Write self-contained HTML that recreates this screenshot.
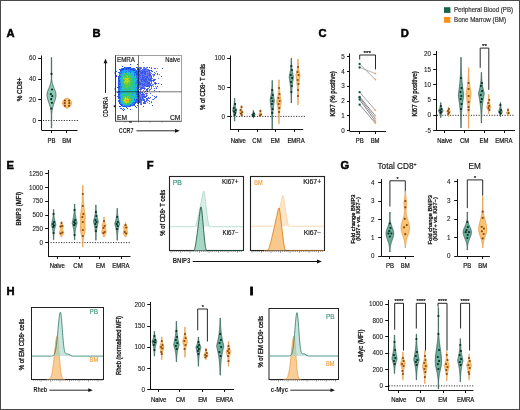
<!DOCTYPE html>
<html><head><meta charset="utf-8"><style>
html,body{margin:0;padding:0;background:#fff;width:520px;height:410px;overflow:hidden;}
svg{display:block;font-family:"Liberation Sans",sans-serif;will-change:transform;}
</style></head><body>
<svg width="520" height="410" viewBox="0 0 520 410" font-family="Liberation Sans, sans-serif"><rect x="0.5" y="0.5" width="519" height="409" fill="#fff" stroke="#4a4a4a" stroke-width="1"/>
<rect x="444" y="7.2" width="6.4" height="5.7" fill="#16654a"/>
<rect x="444" y="16.9" width="6.4" height="5.9" fill="#f7941d"/>
<text transform="translate(454 12.2) scale(0.88 1)" font-size="7.12" text-anchor="start" font-weight="normal" fill="#333" stroke="#333" stroke-width="0.2" textLength="67.05" lengthAdjust="spacingAndGlyphs">Peripheral Blood (PB)</text>
<text transform="translate(454 22.4) scale(0.88 1)" font-size="7.12" text-anchor="start" font-weight="normal" fill="#333" stroke="#333" stroke-width="0.2" textLength="59.09" lengthAdjust="spacingAndGlyphs">Bone Marrow (BM)</text>
<text transform="translate(6.5 36.8)" font-size="11.20" text-anchor="start" font-weight="bold" fill="#000" stroke="#000" stroke-width="0.5">A</text>
<line x1="41.5" y1="55.5" x2="41.5" y2="130" stroke="#111" stroke-width="1.0"/>
<line x1="38.2" y1="58.5" x2="41.5" y2="58.5" stroke="#111" stroke-width="1.0"/>
<text transform="translate(35.900000000000006 60.4)" font-size="6.30" text-anchor="end" font-weight="normal" fill="#222" stroke="#222" stroke-width="0.1">60</text>
<line x1="38.2" y1="79.5" x2="41.5" y2="79.5" stroke="#111" stroke-width="1.0"/>
<text transform="translate(35.900000000000006 81.1)" font-size="6.30" text-anchor="end" font-weight="normal" fill="#222" stroke="#222" stroke-width="0.1">40</text>
<line x1="38.2" y1="99.5" x2="41.5" y2="99.5" stroke="#111" stroke-width="1.0"/>
<text transform="translate(35.900000000000006 101.89999999999999)" font-size="6.30" text-anchor="end" font-weight="normal" fill="#222" stroke="#222" stroke-width="0.1">20</text>
<line x1="38.2" y1="120.5" x2="41.5" y2="120.5" stroke="#111" stroke-width="1.0"/>
<text transform="translate(35.900000000000006 122.6)" font-size="6.30" text-anchor="end" font-weight="normal" fill="#222" stroke="#222" stroke-width="0.1">0</text>
<line x1="41.5" y1="130.5" x2="77.5" y2="130.5" stroke="#111" stroke-width="1.0"/>
<line x1="51.5" y1="130.5" x2="51.5" y2="133.0" stroke="#111" stroke-width="1.0"/>
<line x1="66.5" y1="130.5" x2="66.5" y2="133.0" stroke="#111" stroke-width="1.0"/>
<text transform="translate(51.5 142.6) scale(0.88 1)" font-size="6.78" text-anchor="middle" font-weight="normal" fill="#111" stroke="#111" stroke-width="0.2">PB</text>
<text transform="translate(66.8 142.6) scale(0.88 1)" font-size="6.78" text-anchor="middle" font-weight="normal" fill="#111" stroke="#111" stroke-width="0.2">BM</text>
<text transform="translate(22.4 89.4) rotate(-90) scale(0.88 1)" font-size="7.23" text-anchor="middle" font-weight="normal" fill="#111" stroke="#111" stroke-width="0.3">% CD8+</text>
<line x1="43" y1="120.5" x2="78" y2="120.5" stroke="#111" stroke-width="0.9" stroke-dasharray="1.1 1.5"/>
<path d="M51.68,57.50 L51.68,58.29 L51.68,59.08 L51.68,59.88 L51.68,60.67 L51.68,61.46 L51.68,62.25 L51.68,63.04 L51.68,63.84 L51.68,64.63 L51.68,65.42 L51.68,66.21 L51.68,67.01 L51.68,67.80 L51.68,68.59 L51.68,69.38 L51.68,70.17 L51.68,70.97 L51.68,71.76 L51.68,72.55 L51.68,73.34 L51.68,74.13 L51.68,74.93 L51.68,75.72 L51.68,76.51 L51.68,77.30 L51.68,78.10 L51.68,78.89 L51.75,79.68 L51.84,80.47 L51.95,81.26 L52.08,82.06 L52.24,82.85 L52.43,83.64 L52.66,84.43 L52.91,85.22 L53.20,86.02 L53.50,86.81 L53.83,87.60 L54.17,88.39 L54.51,89.19 L54.84,89.98 L55.15,90.77 L55.43,91.56 L55.65,92.35 L55.83,93.15 L55.94,93.94 L55.98,94.73 L55.96,95.52 L55.90,96.31 L55.79,97.11 L55.64,97.90 L55.46,98.69 L55.24,99.48 L55.00,100.28 L54.74,101.07 L54.47,101.86 L54.20,102.65 L53.92,103.44 L53.66,104.24 L53.40,105.03 L53.15,105.82 L52.92,106.61 L52.71,107.40 L52.53,108.20 L52.36,108.99 L52.21,109.78 L52.08,110.57 L51.97,111.37 L51.88,112.16 L51.80,112.95 L51.73,113.74 L51.68,114.53 L51.68,115.33 L51.68,116.12 L51.68,116.91 L51.68,117.70 L51.68,118.49 L51.68,119.29 L51.68,120.08 L51.68,120.87 L51.68,121.66 L51.68,122.46 L51.68,123.25 L51.68,124.04 L51.68,124.83 L51.68,125.62 L51.68,126.42 L51.68,127.21 L51.68,128.00 L51.32,128.00 L51.32,127.21 L51.32,126.42 L51.32,125.62 L51.32,124.83 L51.32,124.04 L51.32,123.25 L51.32,122.46 L51.32,121.66 L51.32,120.87 L51.32,120.08 L51.32,119.29 L51.32,118.49 L51.32,117.70 L51.32,116.91 L51.32,116.12 L51.32,115.33 L51.32,114.53 L51.27,113.74 L51.20,112.95 L51.12,112.16 L51.03,111.37 L50.92,110.57 L50.79,109.78 L50.64,108.99 L50.47,108.20 L50.29,107.40 L50.08,106.61 L49.85,105.82 L49.60,105.03 L49.34,104.24 L49.08,103.44 L48.80,102.65 L48.53,101.86 L48.26,101.07 L48.00,100.28 L47.76,99.48 L47.54,98.69 L47.36,97.90 L47.21,97.11 L47.10,96.31 L47.04,95.52 L47.02,94.73 L47.06,93.94 L47.17,93.15 L47.35,92.35 L47.57,91.56 L47.85,90.77 L48.16,89.98 L48.49,89.19 L48.83,88.39 L49.17,87.60 L49.50,86.81 L49.80,86.02 L50.09,85.22 L50.34,84.43 L50.57,83.64 L50.76,82.85 L50.92,82.06 L51.05,81.26 L51.16,80.47 L51.25,79.68 L51.32,78.89 L51.32,78.10 L51.32,77.30 L51.32,76.51 L51.32,75.72 L51.32,74.93 L51.32,74.13 L51.32,73.34 L51.32,72.55 L51.32,71.76 L51.32,70.97 L51.32,70.17 L51.32,69.38 L51.32,68.59 L51.32,67.80 L51.32,67.01 L51.32,66.21 L51.32,65.42 L51.32,64.63 L51.32,63.84 L51.32,63.04 L51.32,62.25 L51.32,61.46 L51.32,60.67 L51.32,59.88 L51.32,59.08 L51.32,58.29 L51.32,57.50 Z" fill="#8ccab5" stroke="#2a5248" stroke-width="0.7" stroke-linejoin="round"/>
<circle cx="51.50" cy="73.9" r="1.1" fill="#0a2c23"/>
<circle cx="52.00" cy="89.5" r="1.1" fill="#0a2c23"/>
<circle cx="50.90" cy="94.1" r="1.1" fill="#0a2c23"/>
<circle cx="52.30" cy="96.2" r="1.1" fill="#0a2c23"/>
<circle cx="51.20" cy="99.2" r="1.1" fill="#0a2c23"/>
<circle cx="51.90" cy="102.8" r="1.1" fill="#0a2c23"/>
<circle cx="51.30" cy="108.5" r="1.1" fill="#0a2c23"/>
<path d="M68.40,98.30 L68.50,98.41 L68.60,98.52 L68.70,98.63 L68.81,98.74 L68.92,98.84 L69.03,98.95 L69.15,99.06 L69.26,99.17 L69.38,99.28 L69.49,99.39 L69.61,99.50 L69.73,99.61 L69.84,99.72 L69.96,99.83 L70.07,99.93 L70.18,100.04 L70.29,100.15 L70.40,100.26 L70.50,100.37 L70.60,100.48 L70.70,100.59 L70.79,100.70 L70.88,100.81 L70.97,100.92 L71.04,101.02 L71.12,101.13 L71.19,101.24 L71.25,101.35 L71.31,101.46 L71.36,101.57 L71.41,101.68 L71.46,101.79 L71.49,101.90 L71.53,102.01 L71.56,102.11 L71.58,102.22 L71.60,102.33 L71.61,102.44 L71.62,102.55 L71.63,102.66 L71.64,102.77 L71.64,102.88 L71.64,102.99 L71.64,103.10 L71.64,103.20 L71.63,103.31 L71.63,103.42 L71.62,103.53 L71.61,103.64 L71.59,103.75 L71.57,103.86 L71.55,103.97 L71.52,104.08 L71.49,104.19 L71.45,104.29 L71.41,104.40 L71.37,104.51 L71.32,104.62 L71.26,104.73 L71.20,104.84 L71.14,104.95 L71.07,105.06 L71.00,105.17 L70.92,105.28 L70.84,105.38 L70.76,105.49 L70.67,105.60 L70.58,105.71 L70.48,105.82 L70.39,105.93 L70.28,106.04 L70.18,106.15 L70.08,106.26 L69.97,106.37 L69.86,106.47 L69.75,106.58 L69.64,106.69 L69.53,106.80 L69.42,106.91 L69.32,107.02 L69.21,107.13 L69.10,107.24 L68.99,107.35 L68.89,107.46 L68.79,107.56 L68.68,107.67 L68.59,107.78 L68.49,107.89 L68.40,108.00 L65.60,108.00 L65.51,107.89 L65.41,107.78 L65.32,107.67 L65.21,107.56 L65.11,107.46 L65.01,107.35 L64.90,107.24 L64.79,107.13 L64.68,107.02 L64.58,106.91 L64.47,106.80 L64.36,106.69 L64.25,106.58 L64.14,106.47 L64.03,106.37 L63.92,106.26 L63.82,106.15 L63.72,106.04 L63.61,105.93 L63.52,105.82 L63.42,105.71 L63.33,105.60 L63.24,105.49 L63.16,105.38 L63.08,105.28 L63.00,105.17 L62.93,105.06 L62.86,104.95 L62.80,104.84 L62.74,104.73 L62.68,104.62 L62.63,104.51 L62.59,104.40 L62.55,104.29 L62.51,104.19 L62.48,104.08 L62.45,103.97 L62.43,103.86 L62.41,103.75 L62.39,103.64 L62.38,103.53 L62.37,103.42 L62.37,103.31 L62.36,103.20 L62.36,103.10 L62.36,102.99 L62.36,102.88 L62.36,102.77 L62.37,102.66 L62.38,102.55 L62.39,102.44 L62.40,102.33 L62.42,102.22 L62.44,102.11 L62.47,102.01 L62.51,101.90 L62.54,101.79 L62.59,101.68 L62.64,101.57 L62.69,101.46 L62.75,101.35 L62.81,101.24 L62.88,101.13 L62.96,101.02 L63.03,100.92 L63.12,100.81 L63.21,100.70 L63.30,100.59 L63.40,100.48 L63.50,100.37 L63.60,100.26 L63.71,100.15 L63.82,100.04 L63.93,99.93 L64.04,99.83 L64.16,99.72 L64.27,99.61 L64.39,99.50 L64.51,99.39 L64.62,99.28 L64.74,99.17 L64.85,99.06 L64.97,98.95 L65.08,98.84 L65.19,98.74 L65.30,98.63 L65.40,98.52 L65.50,98.41 L65.60,98.30 Z" fill="#fbc67a" stroke="#e3943a" stroke-width="0.7" stroke-linejoin="round"/>
<circle cx="64.90" cy="100.6" r="1.1" fill="#8a4a0c"/>
<circle cx="69.10" cy="100.6" r="1.1" fill="#8a4a0c"/>
<circle cx="64.70" cy="103.2" r="1.1" fill="#8a4a0c"/>
<circle cx="69.30" cy="103.2" r="1.1" fill="#8a4a0c"/>
<circle cx="64.90" cy="105.8" r="1.1" fill="#8a4a0c"/>
<circle cx="69.10" cy="105.8" r="1.1" fill="#8a4a0c"/>
<text transform="translate(92.6 36.6)" font-size="11.20" text-anchor="start" font-weight="bold" fill="#000" stroke="#000" stroke-width="0.5">B</text>
<rect x="115.5" y="55.5" width="66.0" height="65.8" fill="#fff" stroke="#8a8a8a" stroke-width="0.8"/>
<rect x="143" y="62" width="1" height="1" fill="#6982f2"/>
<rect x="130" y="64" width="1" height="1" fill="#2832eb"/>
<rect x="137" y="64" width="1" height="1" fill="#2832eb"/>
<rect x="122" y="66" width="1" height="1" fill="#2832eb"/>
<rect x="124" y="67" width="1" height="1" fill="#2842ef"/>
<rect x="125" y="67" width="3" height="1" fill="#2679f7"/>
<rect x="128" y="67" width="1" height="1" fill="#2853f3"/>
<rect x="129" y="67" width="1" height="1" fill="#2832eb"/>
<rect x="130" y="67" width="1" height="1" fill="#2853f3"/>
<rect x="136" y="67" width="1" height="1" fill="#2853f3"/>
<rect x="137" y="67" width="1" height="1" fill="#3c55eb"/>
<rect x="139" y="67" width="1" height="1" fill="#6982f2"/>
<rect x="140" y="67" width="1" height="1" fill="#3c55eb"/>
<rect x="141" y="67" width="1" height="1" fill="#6982f2"/>
<rect x="143" y="67" width="1" height="1" fill="#6982f2"/>
<rect x="144" y="67" width="1" height="1" fill="#3c55eb"/>
<rect x="146" y="67" width="1" height="1" fill="#6982f2"/>
<rect x="147" y="67" width="1" height="1" fill="#3c55eb"/>
<rect x="149" y="67" width="1" height="1" fill="#3c55eb"/>
<rect x="151" y="67" width="1" height="1" fill="#6982f2"/>
<rect x="121" y="68" width="2" height="1" fill="#2679f7"/>
<rect x="123" y="68" width="1" height="1" fill="#2842ef"/>
<rect x="124" y="68" width="2" height="1" fill="#2864f7"/>
<rect x="126" y="68" width="1" height="1" fill="#2832eb"/>
<rect x="127" y="68" width="3" height="1" fill="#2853f3"/>
<rect x="130" y="68" width="1" height="1" fill="#2864f7"/>
<rect x="131" y="68" width="2" height="1" fill="#2679f7"/>
<rect x="133" y="68" width="2" height="1" fill="#2842ef"/>
<rect x="137" y="68" width="1" height="1" fill="#3c55eb"/>
<rect x="138" y="68" width="2" height="1" fill="#6982f2"/>
<rect x="140" y="68" width="1" height="1" fill="#3c55eb"/>
<rect x="141" y="68" width="1" height="1" fill="#8c6ee1"/>
<rect x="143" y="68" width="1" height="1" fill="#8c6ee1"/>
<rect x="144" y="68" width="3" height="1" fill="#6982f2"/>
<rect x="151" y="68" width="1" height="1" fill="#3c55eb"/>
<rect x="154" y="68" width="1" height="1" fill="#3c55eb"/>
<rect x="155" y="68" width="1" height="1" fill="#6982f2"/>
<rect x="157" y="68" width="1" height="1" fill="#6982f2"/>
<rect x="162" y="68" width="1" height="1" fill="#3c55eb"/>
<rect x="119" y="69" width="1" height="1" fill="#2864f7"/>
<rect x="120" y="69" width="1" height="1" fill="#2679f7"/>
<rect x="121" y="69" width="1" height="1" fill="#2853f3"/>
<rect x="122" y="69" width="1" height="1" fill="#2842ef"/>
<rect x="123" y="69" width="1" height="1" fill="#2832eb"/>
<rect x="124" y="69" width="1" height="1" fill="#2864f7"/>
<rect x="125" y="69" width="1" height="1" fill="#2679f7"/>
<rect x="126" y="69" width="1" height="1" fill="#2853f3"/>
<rect x="127" y="69" width="1" height="1" fill="#2679f7"/>
<rect x="128" y="69" width="1" height="1" fill="#2864f7"/>
<rect x="129" y="69" width="1" height="1" fill="#2679f7"/>
<rect x="130" y="69" width="1" height="1" fill="#2842ef"/>
<rect x="131" y="69" width="2" height="1" fill="#2853f3"/>
<rect x="133" y="69" width="1" height="1" fill="#2864f7"/>
<rect x="134" y="69" width="1" height="1" fill="#2679f7"/>
<rect x="135" y="69" width="1" height="1" fill="#2864f7"/>
<rect x="137" y="69" width="1" height="1" fill="#2842ef"/>
<rect x="138" y="69" width="2" height="1" fill="#3c55eb"/>
<rect x="140" y="69" width="1" height="1" fill="#6982f2"/>
<rect x="142" y="69" width="1" height="1" fill="#3c55eb"/>
<rect x="143" y="69" width="1" height="1" fill="#6982f2"/>
<rect x="144" y="69" width="2" height="1" fill="#3c55eb"/>
<rect x="146" y="69" width="1" height="1" fill="#8c6ee1"/>
<rect x="147" y="69" width="1" height="1" fill="#3c55eb"/>
<rect x="148" y="69" width="1" height="1" fill="#6982f2"/>
<rect x="120" y="70" width="2" height="1" fill="#2842ef"/>
<rect x="122" y="70" width="1" height="1" fill="#2679f7"/>
<rect x="123" y="70" width="1" height="1" fill="#2396f2"/>
<rect x="124" y="70" width="2" height="1" fill="#1fb2ed"/>
<rect x="126" y="70" width="1" height="1" fill="#2396f2"/>
<rect x="127" y="70" width="1" height="1" fill="#1fb2ed"/>
<rect x="128" y="70" width="1" height="1" fill="#2679f7"/>
<rect x="129" y="70" width="1" height="1" fill="#1fb2ed"/>
<rect x="130" y="70" width="3" height="1" fill="#2679f7"/>
<rect x="133" y="70" width="1" height="1" fill="#2842ef"/>
<rect x="134" y="70" width="1" height="1" fill="#2853f3"/>
<rect x="135" y="70" width="1" height="1" fill="#2679f7"/>
<rect x="136" y="70" width="1" height="1" fill="#2864f7"/>
<rect x="137" y="70" width="1" height="1" fill="#6982f2"/>
<rect x="138" y="70" width="2" height="1" fill="#3c55eb"/>
<rect x="140" y="70" width="1" height="1" fill="#6982f2"/>
<rect x="141" y="70" width="1" height="1" fill="#3c55eb"/>
<rect x="142" y="70" width="1" height="1" fill="#6982f2"/>
<rect x="143" y="70" width="2" height="1" fill="#3c55eb"/>
<rect x="145" y="70" width="3" height="1" fill="#6982f2"/>
<rect x="148" y="70" width="4" height="1" fill="#3c55eb"/>
<rect x="116" y="71" width="1" height="1" fill="#2864f7"/>
<rect x="120" y="71" width="1" height="1" fill="#2864f7"/>
<rect x="121" y="71" width="2" height="1" fill="#2396f2"/>
<rect x="123" y="71" width="2" height="1" fill="#1fb2ed"/>
<rect x="125" y="71" width="1" height="1" fill="#2396f2"/>
<rect x="126" y="71" width="1" height="1" fill="#2679f7"/>
<rect x="127" y="71" width="1" height="1" fill="#28c3ac"/>
<rect x="128" y="71" width="1" height="1" fill="#2396f2"/>
<rect x="129" y="71" width="2" height="1" fill="#2679f7"/>
<rect x="131" y="71" width="1" height="1" fill="#2396f2"/>
<rect x="132" y="71" width="1" height="1" fill="#21bfd3"/>
<rect x="133" y="71" width="1" height="1" fill="#2396f2"/>
<rect x="134" y="71" width="1" height="1" fill="#1fb2ed"/>
<rect x="135" y="71" width="1" height="1" fill="#2679f7"/>
<rect x="136" y="71" width="1" height="1" fill="#2842ef"/>
<rect x="137" y="71" width="4" height="1" fill="#3c55eb"/>
<rect x="141" y="71" width="1" height="1" fill="#8c6ee1"/>
<rect x="142" y="71" width="6" height="1" fill="#3c55eb"/>
<rect x="148" y="71" width="1" height="1" fill="#6982f2"/>
<rect x="149" y="71" width="1" height="1" fill="#3c55eb"/>
<rect x="151" y="71" width="1" height="1" fill="#8c6ee1"/>
<rect x="152" y="71" width="1" height="1" fill="#3c55eb"/>
<rect x="156" y="71" width="1" height="1" fill="#6982f2"/>
<rect x="118" y="72" width="2" height="1" fill="#2853f3"/>
<rect x="120" y="72" width="1" height="1" fill="#2396f2"/>
<rect x="121" y="72" width="1" height="1" fill="#2679f7"/>
<rect x="122" y="72" width="2" height="1" fill="#2396f2"/>
<rect x="124" y="72" width="1" height="1" fill="#1fb2ed"/>
<rect x="125" y="72" width="1" height="1" fill="#2679f7"/>
<rect x="126" y="72" width="4" height="1" fill="#21bfd3"/>
<rect x="130" y="72" width="1" height="1" fill="#2679f7"/>
<rect x="131" y="72" width="1" height="1" fill="#2ec685"/>
<rect x="132" y="72" width="2" height="1" fill="#1fb2ed"/>
<rect x="134" y="72" width="1" height="1" fill="#2864f7"/>
<rect x="135" y="72" width="1" height="1" fill="#2842ef"/>
<rect x="136" y="72" width="1" height="1" fill="#2679f7"/>
<rect x="137" y="72" width="1" height="1" fill="#2853f3"/>
<rect x="138" y="72" width="1" height="1" fill="#3c55eb"/>
<rect x="139" y="72" width="1" height="1" fill="#6982f2"/>
<rect x="140" y="72" width="6" height="1" fill="#3c55eb"/>
<rect x="146" y="72" width="2" height="1" fill="#6982f2"/>
<rect x="148" y="72" width="1" height="1" fill="#8c6ee1"/>
<rect x="149" y="72" width="1" height="1" fill="#3c55eb"/>
<rect x="150" y="72" width="1" height="1" fill="#6982f2"/>
<rect x="154" y="72" width="1" height="1" fill="#3c55eb"/>
<rect x="119" y="73" width="1" height="1" fill="#2679f7"/>
<rect x="120" y="73" width="1" height="1" fill="#2864f7"/>
<rect x="121" y="73" width="2" height="1" fill="#2396f2"/>
<rect x="123" y="73" width="1" height="1" fill="#28c3ac"/>
<rect x="124" y="73" width="1" height="1" fill="#55ca4a"/>
<rect x="125" y="73" width="2" height="1" fill="#2ec685"/>
<rect x="127" y="73" width="2" height="1" fill="#28c3ac"/>
<rect x="129" y="73" width="1" height="1" fill="#3cc864"/>
<rect x="130" y="73" width="2" height="1" fill="#21bfd3"/>
<rect x="132" y="73" width="1" height="1" fill="#1fb2ed"/>
<rect x="133" y="73" width="1" height="1" fill="#21bfd3"/>
<rect x="134" y="73" width="2" height="1" fill="#2396f2"/>
<rect x="136" y="73" width="1" height="1" fill="#2853f3"/>
<rect x="137" y="73" width="1" height="1" fill="#2842ef"/>
<rect x="138" y="73" width="1" height="1" fill="#6982f2"/>
<rect x="139" y="73" width="1" height="1" fill="#8c6ee1"/>
<rect x="140" y="73" width="3" height="1" fill="#3c55eb"/>
<rect x="143" y="73" width="1" height="1" fill="#8c6ee1"/>
<rect x="144" y="73" width="2" height="1" fill="#3c55eb"/>
<rect x="146" y="73" width="1" height="1" fill="#6982f2"/>
<rect x="147" y="73" width="1" height="1" fill="#3c55eb"/>
<rect x="148" y="73" width="1" height="1" fill="#8c6ee1"/>
<rect x="149" y="73" width="1" height="1" fill="#3c55eb"/>
<rect x="150" y="73" width="2" height="1" fill="#6982f2"/>
<rect x="155" y="73" width="1" height="1" fill="#6982f2"/>
<rect x="157" y="73" width="1" height="1" fill="#3c55eb"/>
<rect x="119" y="74" width="1" height="1" fill="#1fb2ed"/>
<rect x="120" y="74" width="2" height="1" fill="#2396f2"/>
<rect x="122" y="74" width="1" height="1" fill="#1fb2ed"/>
<rect x="123" y="74" width="2" height="1" fill="#2ec685"/>
<rect x="125" y="74" width="1" height="1" fill="#28c3ac"/>
<rect x="126" y="74" width="1" height="1" fill="#55ca4a"/>
<rect x="127" y="74" width="1" height="1" fill="#3cc864"/>
<rect x="128" y="74" width="1" height="1" fill="#28c3ac"/>
<rect x="129" y="74" width="1" height="1" fill="#3cc864"/>
<rect x="130" y="74" width="2" height="1" fill="#28c3ac"/>
<rect x="132" y="74" width="1" height="1" fill="#1fb2ed"/>
<rect x="133" y="74" width="1" height="1" fill="#21bfd3"/>
<rect x="134" y="74" width="1" height="1" fill="#2679f7"/>
<rect x="135" y="74" width="1" height="1" fill="#2396f2"/>
<rect x="136" y="74" width="1" height="1" fill="#2853f3"/>
<rect x="137" y="74" width="1" height="1" fill="#2842ef"/>
<rect x="138" y="74" width="1" height="1" fill="#6982f2"/>
<rect x="139" y="74" width="1" height="1" fill="#3c55eb"/>
<rect x="140" y="74" width="2" height="1" fill="#6982f2"/>
<rect x="142" y="74" width="1" height="1" fill="#3c55eb"/>
<rect x="143" y="74" width="1" height="1" fill="#6982f2"/>
<rect x="144" y="74" width="2" height="1" fill="#3c55eb"/>
<rect x="146" y="74" width="1" height="1" fill="#6982f2"/>
<rect x="147" y="74" width="1" height="1" fill="#3c55eb"/>
<rect x="148" y="74" width="1" height="1" fill="#6982f2"/>
<rect x="149" y="74" width="2" height="1" fill="#3c55eb"/>
<rect x="152" y="74" width="1" height="1" fill="#8c6ee1"/>
<rect x="153" y="74" width="1" height="1" fill="#6982f2"/>
<rect x="154" y="74" width="1" height="1" fill="#3c55eb"/>
<rect x="157" y="74" width="1" height="1" fill="#3c55eb"/>
<rect x="159" y="74" width="1" height="1" fill="#6982f2"/>
<rect x="116" y="75" width="1" height="1" fill="#2853f3"/>
<rect x="119" y="75" width="1" height="1" fill="#2842ef"/>
<rect x="120" y="75" width="1" height="1" fill="#21bfd3"/>
<rect x="121" y="75" width="1" height="1" fill="#1fb2ed"/>
<rect x="122" y="75" width="1" height="1" fill="#21bfd3"/>
<rect x="123" y="75" width="1" height="1" fill="#28c3ac"/>
<rect x="124" y="75" width="1" height="1" fill="#2ec685"/>
<rect x="125" y="75" width="1" height="1" fill="#3cc864"/>
<rect x="126" y="75" width="1" height="1" fill="#6dcc32"/>
<rect x="127" y="75" width="1" height="1" fill="#92cf25"/>
<rect x="128" y="75" width="1" height="1" fill="#2ec685"/>
<rect x="129" y="75" width="2" height="1" fill="#3cc864"/>
<rect x="131" y="75" width="2" height="1" fill="#21bfd3"/>
<rect x="133" y="75" width="1" height="1" fill="#1fb2ed"/>
<rect x="134" y="75" width="1" height="1" fill="#2864f7"/>
<rect x="135" y="75" width="1" height="1" fill="#1fb2ed"/>
<rect x="136" y="75" width="1" height="1" fill="#2679f7"/>
<rect x="137" y="75" width="1" height="1" fill="#2864f7"/>
<rect x="138" y="75" width="3" height="1" fill="#3c55eb"/>
<rect x="141" y="75" width="1" height="1" fill="#6982f2"/>
<rect x="142" y="75" width="2" height="1" fill="#3c55eb"/>
<rect x="144" y="75" width="2" height="1" fill="#6982f2"/>
<rect x="146" y="75" width="1" height="1" fill="#8c6ee1"/>
<rect x="147" y="75" width="1" height="1" fill="#6982f2"/>
<rect x="148" y="75" width="3" height="1" fill="#3c55eb"/>
<rect x="151" y="75" width="1" height="1" fill="#6982f2"/>
<rect x="153" y="75" width="1" height="1" fill="#8c6ee1"/>
<rect x="154" y="75" width="1" height="1" fill="#6982f2"/>
<rect x="116" y="76" width="1" height="1" fill="#2832eb"/>
<rect x="118" y="76" width="1" height="1" fill="#2832eb"/>
<rect x="119" y="76" width="1" height="1" fill="#2679f7"/>
<rect x="120" y="76" width="1" height="1" fill="#2842ef"/>
<rect x="121" y="76" width="1" height="1" fill="#21bfd3"/>
<rect x="122" y="76" width="1" height="1" fill="#28c3ac"/>
<rect x="123" y="76" width="3" height="1" fill="#55ca4a"/>
<rect x="126" y="76" width="1" height="1" fill="#6dcc32"/>
<rect x="127" y="76" width="1" height="1" fill="#92cf25"/>
<rect x="128" y="76" width="1" height="1" fill="#6dcc32"/>
<rect x="129" y="76" width="1" height="1" fill="#55ca4a"/>
<rect x="130" y="76" width="1" height="1" fill="#28c3ac"/>
<rect x="131" y="76" width="1" height="1" fill="#2ec685"/>
<rect x="132" y="76" width="1" height="1" fill="#28c3ac"/>
<rect x="133" y="76" width="1" height="1" fill="#3cc864"/>
<rect x="134" y="76" width="1" height="1" fill="#21bfd3"/>
<rect x="135" y="76" width="1" height="1" fill="#1fb2ed"/>
<rect x="136" y="76" width="2" height="1" fill="#2679f7"/>
<rect x="138" y="76" width="1" height="1" fill="#6982f2"/>
<rect x="139" y="76" width="1" height="1" fill="#3c55eb"/>
<rect x="140" y="76" width="2" height="1" fill="#8c6ee1"/>
<rect x="142" y="76" width="1" height="1" fill="#3c55eb"/>
<rect x="143" y="76" width="1" height="1" fill="#6982f2"/>
<rect x="144" y="76" width="4" height="1" fill="#3c55eb"/>
<rect x="148" y="76" width="1" height="1" fill="#6982f2"/>
<rect x="149" y="76" width="1" height="1" fill="#3c55eb"/>
<rect x="150" y="76" width="1" height="1" fill="#6982f2"/>
<rect x="151" y="76" width="1" height="1" fill="#3c55eb"/>
<rect x="153" y="76" width="1" height="1" fill="#6982f2"/>
<rect x="161" y="76" width="1" height="1" fill="#3c55eb"/>
<rect x="118" y="77" width="1" height="1" fill="#2864f7"/>
<rect x="119" y="77" width="1" height="1" fill="#2853f3"/>
<rect x="120" y="77" width="1" height="1" fill="#1fb2ed"/>
<rect x="121" y="77" width="1" height="1" fill="#2396f2"/>
<rect x="122" y="77" width="1" height="1" fill="#2ec685"/>
<rect x="123" y="77" width="1" height="1" fill="#92cf25"/>
<rect x="124" y="77" width="1" height="1" fill="#3cc864"/>
<rect x="125" y="77" width="1" height="1" fill="#6dcc32"/>
<rect x="126" y="77" width="1" height="1" fill="#55ca4a"/>
<rect x="127" y="77" width="1" height="1" fill="#92cf25"/>
<rect x="128" y="77" width="1" height="1" fill="#3cc864"/>
<rect x="129" y="77" width="1" height="1" fill="#6dcc32"/>
<rect x="130" y="77" width="1" height="1" fill="#3cc864"/>
<rect x="131" y="77" width="2" height="1" fill="#21bfd3"/>
<rect x="133" y="77" width="1" height="1" fill="#1fb2ed"/>
<rect x="134" y="77" width="2" height="1" fill="#21bfd3"/>
<rect x="136" y="77" width="1" height="1" fill="#2679f7"/>
<rect x="137" y="77" width="1" height="1" fill="#2864f7"/>
<rect x="138" y="77" width="1" height="1" fill="#3c55eb"/>
<rect x="139" y="77" width="1" height="1" fill="#6982f2"/>
<rect x="140" y="77" width="1" height="1" fill="#2853f3"/>
<rect x="141" y="77" width="1" height="1" fill="#6982f2"/>
<rect x="142" y="77" width="3" height="1" fill="#3c55eb"/>
<rect x="145" y="77" width="1" height="1" fill="#6982f2"/>
<rect x="146" y="77" width="2" height="1" fill="#3c55eb"/>
<rect x="148" y="77" width="3" height="1" fill="#6982f2"/>
<rect x="151" y="77" width="1" height="1" fill="#3c55eb"/>
<rect x="118" y="78" width="1" height="1" fill="#2842ef"/>
<rect x="119" y="78" width="1" height="1" fill="#2864f7"/>
<rect x="120" y="78" width="1" height="1" fill="#21bfd3"/>
<rect x="121" y="78" width="1" height="1" fill="#1fb2ed"/>
<rect x="122" y="78" width="1" height="1" fill="#21bfd3"/>
<rect x="123" y="78" width="2" height="1" fill="#92cf25"/>
<rect x="125" y="78" width="1" height="1" fill="#e2d11d"/>
<rect x="126" y="78" width="3" height="1" fill="#bdd321"/>
<rect x="129" y="78" width="1" height="1" fill="#92cf25"/>
<rect x="130" y="78" width="1" height="1" fill="#55ca4a"/>
<rect x="131" y="78" width="2" height="1" fill="#28c3ac"/>
<rect x="133" y="78" width="1" height="1" fill="#1fb2ed"/>
<rect x="134" y="78" width="1" height="1" fill="#2ec685"/>
<rect x="135" y="78" width="2" height="1" fill="#2396f2"/>
<rect x="137" y="78" width="2" height="1" fill="#2853f3"/>
<rect x="139" y="78" width="1" height="1" fill="#3c55eb"/>
<rect x="140" y="78" width="2" height="1" fill="#6982f2"/>
<rect x="142" y="78" width="2" height="1" fill="#3c55eb"/>
<rect x="144" y="78" width="1" height="1" fill="#6982f2"/>
<rect x="145" y="78" width="2" height="1" fill="#3c55eb"/>
<rect x="147" y="78" width="1" height="1" fill="#6982f2"/>
<rect x="148" y="78" width="1" height="1" fill="#3c55eb"/>
<rect x="149" y="78" width="1" height="1" fill="#6982f2"/>
<rect x="150" y="78" width="2" height="1" fill="#3c55eb"/>
<rect x="152" y="78" width="1" height="1" fill="#6982f2"/>
<rect x="158" y="78" width="1" height="1" fill="#6982f2"/>
<rect x="118" y="79" width="1" height="1" fill="#2853f3"/>
<rect x="119" y="79" width="1" height="1" fill="#2679f7"/>
<rect x="120" y="79" width="1" height="1" fill="#2396f2"/>
<rect x="121" y="79" width="1" height="1" fill="#21bfd3"/>
<rect x="122" y="79" width="1" height="1" fill="#3cc864"/>
<rect x="123" y="79" width="1" height="1" fill="#28c3ac"/>
<rect x="124" y="79" width="2" height="1" fill="#92cf25"/>
<rect x="126" y="79" width="1" height="1" fill="#bdd321"/>
<rect x="127" y="79" width="1" height="1" fill="#e2d11d"/>
<rect x="128" y="79" width="1" height="1" fill="#6dcc32"/>
<rect x="129" y="79" width="3" height="1" fill="#55ca4a"/>
<rect x="132" y="79" width="1" height="1" fill="#28c3ac"/>
<rect x="133" y="79" width="4" height="1" fill="#1fb2ed"/>
<rect x="137" y="79" width="1" height="1" fill="#2679f7"/>
<rect x="138" y="79" width="1" height="1" fill="#3c55eb"/>
<rect x="139" y="79" width="1" height="1" fill="#6982f2"/>
<rect x="140" y="79" width="7" height="1" fill="#3c55eb"/>
<rect x="147" y="79" width="1" height="1" fill="#6982f2"/>
<rect x="148" y="79" width="3" height="1" fill="#3c55eb"/>
<rect x="151" y="79" width="1" height="1" fill="#6982f2"/>
<rect x="153" y="79" width="1" height="1" fill="#6982f2"/>
<rect x="154" y="79" width="2" height="1" fill="#3c55eb"/>
<rect x="118" y="80" width="2" height="1" fill="#2842ef"/>
<rect x="120" y="80" width="1" height="1" fill="#2396f2"/>
<rect x="121" y="80" width="2" height="1" fill="#21bfd3"/>
<rect x="123" y="80" width="1" height="1" fill="#3cc864"/>
<rect x="124" y="80" width="1" height="1" fill="#55ca4a"/>
<rect x="125" y="80" width="2" height="1" fill="#bdd321"/>
<rect x="127" y="80" width="1" height="1" fill="#92cf25"/>
<rect x="128" y="80" width="1" height="1" fill="#bdd321"/>
<rect x="129" y="80" width="2" height="1" fill="#6dcc32"/>
<rect x="131" y="80" width="2" height="1" fill="#2ec685"/>
<rect x="133" y="80" width="1" height="1" fill="#28c3ac"/>
<rect x="134" y="80" width="2" height="1" fill="#21bfd3"/>
<rect x="136" y="80" width="1" height="1" fill="#2396f2"/>
<rect x="137" y="80" width="1" height="1" fill="#2832eb"/>
<rect x="138" y="80" width="1" height="1" fill="#3c55eb"/>
<rect x="139" y="80" width="2" height="1" fill="#6982f2"/>
<rect x="141" y="80" width="1" height="1" fill="#3c55eb"/>
<rect x="142" y="80" width="1" height="1" fill="#6982f2"/>
<rect x="143" y="80" width="4" height="1" fill="#3c55eb"/>
<rect x="147" y="80" width="2" height="1" fill="#6982f2"/>
<rect x="149" y="80" width="6" height="1" fill="#3c55eb"/>
<rect x="118" y="81" width="1" height="1" fill="#2864f7"/>
<rect x="119" y="81" width="1" height="1" fill="#2842ef"/>
<rect x="120" y="81" width="1" height="1" fill="#2396f2"/>
<rect x="121" y="81" width="1" height="1" fill="#21bfd3"/>
<rect x="122" y="81" width="1" height="1" fill="#2ec685"/>
<rect x="123" y="81" width="1" height="1" fill="#55ca4a"/>
<rect x="124" y="81" width="1" height="1" fill="#6dcc32"/>
<rect x="125" y="81" width="2" height="1" fill="#bdd321"/>
<rect x="127" y="81" width="1" height="1" fill="#e2d11d"/>
<rect x="128" y="81" width="1" height="1" fill="#92cf25"/>
<rect x="129" y="81" width="1" height="1" fill="#bdd321"/>
<rect x="130" y="81" width="1" height="1" fill="#2ec685"/>
<rect x="131" y="81" width="1" height="1" fill="#3cc864"/>
<rect x="132" y="81" width="1" height="1" fill="#2ec685"/>
<rect x="133" y="81" width="2" height="1" fill="#21bfd3"/>
<rect x="135" y="81" width="1" height="1" fill="#28c3ac"/>
<rect x="136" y="81" width="1" height="1" fill="#2396f2"/>
<rect x="137" y="81" width="1" height="1" fill="#2853f3"/>
<rect x="138" y="81" width="1" height="1" fill="#6982f2"/>
<rect x="139" y="81" width="1" height="1" fill="#3c55eb"/>
<rect x="140" y="81" width="1" height="1" fill="#6982f2"/>
<rect x="141" y="81" width="2" height="1" fill="#3c55eb"/>
<rect x="143" y="81" width="1" height="1" fill="#8c6ee1"/>
<rect x="144" y="81" width="2" height="1" fill="#3c55eb"/>
<rect x="146" y="81" width="1" height="1" fill="#6982f2"/>
<rect x="147" y="81" width="1" height="1" fill="#3c55eb"/>
<rect x="148" y="81" width="3" height="1" fill="#6982f2"/>
<rect x="151" y="81" width="1" height="1" fill="#3c55eb"/>
<rect x="153" y="81" width="1" height="1" fill="#3c55eb"/>
<rect x="118" y="82" width="2" height="1" fill="#2864f7"/>
<rect x="120" y="82" width="1" height="1" fill="#2396f2"/>
<rect x="121" y="82" width="2" height="1" fill="#28c3ac"/>
<rect x="123" y="82" width="1" height="1" fill="#3cc864"/>
<rect x="124" y="82" width="1" height="1" fill="#e2d11d"/>
<rect x="125" y="82" width="2" height="1" fill="#92cf25"/>
<rect x="127" y="82" width="1" height="1" fill="#bdd321"/>
<rect x="128" y="82" width="1" height="1" fill="#6dcc32"/>
<rect x="129" y="82" width="1" height="1" fill="#92cf25"/>
<rect x="130" y="82" width="1" height="1" fill="#6dcc32"/>
<rect x="131" y="82" width="1" height="1" fill="#2ec685"/>
<rect x="132" y="82" width="1" height="1" fill="#3cc864"/>
<rect x="133" y="82" width="2" height="1" fill="#28c3ac"/>
<rect x="135" y="82" width="1" height="1" fill="#2396f2"/>
<rect x="136" y="82" width="1" height="1" fill="#2679f7"/>
<rect x="137" y="82" width="1" height="1" fill="#2853f3"/>
<rect x="138" y="82" width="1" height="1" fill="#3c55eb"/>
<rect x="139" y="82" width="1" height="1" fill="#2853f3"/>
<rect x="140" y="82" width="5" height="1" fill="#6982f2"/>
<rect x="145" y="82" width="5" height="1" fill="#3c55eb"/>
<rect x="151" y="82" width="1" height="1" fill="#8c6ee1"/>
<rect x="154" y="82" width="1" height="1" fill="#6982f2"/>
<rect x="155" y="82" width="1" height="1" fill="#3c55eb"/>
<rect x="118" y="83" width="1" height="1" fill="#2842ef"/>
<rect x="119" y="83" width="1" height="1" fill="#2679f7"/>
<rect x="120" y="83" width="1" height="1" fill="#2864f7"/>
<rect x="121" y="83" width="1" height="1" fill="#1fb2ed"/>
<rect x="122" y="83" width="1" height="1" fill="#28c3ac"/>
<rect x="123" y="83" width="1" height="1" fill="#3cc864"/>
<rect x="124" y="83" width="1" height="1" fill="#55ca4a"/>
<rect x="125" y="83" width="1" height="1" fill="#6dcc32"/>
<rect x="126" y="83" width="2" height="1" fill="#92cf25"/>
<rect x="128" y="83" width="1" height="1" fill="#55ca4a"/>
<rect x="129" y="83" width="4" height="1" fill="#3cc864"/>
<rect x="133" y="83" width="1" height="1" fill="#55ca4a"/>
<rect x="134" y="83" width="1" height="1" fill="#21bfd3"/>
<rect x="135" y="83" width="2" height="1" fill="#2396f2"/>
<rect x="137" y="83" width="1" height="1" fill="#2679f7"/>
<rect x="138" y="83" width="1" height="1" fill="#2853f3"/>
<rect x="139" y="83" width="4" height="1" fill="#3c55eb"/>
<rect x="143" y="83" width="1" height="1" fill="#6982f2"/>
<rect x="144" y="83" width="1" height="1" fill="#3c55eb"/>
<rect x="145" y="83" width="1" height="1" fill="#8c6ee1"/>
<rect x="146" y="83" width="1" height="1" fill="#6982f2"/>
<rect x="147" y="83" width="3" height="1" fill="#3c55eb"/>
<rect x="150" y="83" width="1" height="1" fill="#6982f2"/>
<rect x="151" y="83" width="1" height="1" fill="#3c55eb"/>
<rect x="154" y="83" width="3" height="1" fill="#3c55eb"/>
<rect x="158" y="83" width="1" height="1" fill="#3c55eb"/>
<rect x="118" y="84" width="2" height="1" fill="#2853f3"/>
<rect x="120" y="84" width="1" height="1" fill="#2679f7"/>
<rect x="121" y="84" width="1" height="1" fill="#28c3ac"/>
<rect x="122" y="84" width="1" height="1" fill="#21bfd3"/>
<rect x="123" y="84" width="1" height="1" fill="#28c3ac"/>
<rect x="124" y="84" width="1" height="1" fill="#55ca4a"/>
<rect x="125" y="84" width="2" height="1" fill="#6dcc32"/>
<rect x="127" y="84" width="1" height="1" fill="#3cc864"/>
<rect x="128" y="84" width="1" height="1" fill="#55ca4a"/>
<rect x="129" y="84" width="1" height="1" fill="#6dcc32"/>
<rect x="130" y="84" width="1" height="1" fill="#55ca4a"/>
<rect x="131" y="84" width="1" height="1" fill="#28c3ac"/>
<rect x="132" y="84" width="1" height="1" fill="#2ec685"/>
<rect x="133" y="84" width="2" height="1" fill="#28c3ac"/>
<rect x="135" y="84" width="1" height="1" fill="#2396f2"/>
<rect x="136" y="84" width="1" height="1" fill="#21bfd3"/>
<rect x="137" y="84" width="1" height="1" fill="#2864f7"/>
<rect x="138" y="84" width="1" height="1" fill="#2842ef"/>
<rect x="139" y="84" width="2" height="1" fill="#3c55eb"/>
<rect x="141" y="84" width="1" height="1" fill="#6982f2"/>
<rect x="142" y="84" width="3" height="1" fill="#3c55eb"/>
<rect x="145" y="84" width="1" height="1" fill="#6982f2"/>
<rect x="146" y="84" width="2" height="1" fill="#3c55eb"/>
<rect x="148" y="84" width="1" height="1" fill="#6982f2"/>
<rect x="149" y="84" width="2" height="1" fill="#3c55eb"/>
<rect x="152" y="84" width="2" height="1" fill="#6982f2"/>
<rect x="155" y="84" width="1" height="1" fill="#3c55eb"/>
<rect x="161" y="84" width="1" height="1" fill="#3c55eb"/>
<rect x="118" y="85" width="1" height="1" fill="#2842ef"/>
<rect x="119" y="85" width="2" height="1" fill="#2396f2"/>
<rect x="121" y="85" width="1" height="1" fill="#21bfd3"/>
<rect x="122" y="85" width="1" height="1" fill="#1fb2ed"/>
<rect x="123" y="85" width="1" height="1" fill="#28c3ac"/>
<rect x="124" y="85" width="1" height="1" fill="#3cc864"/>
<rect x="125" y="85" width="3" height="1" fill="#55ca4a"/>
<rect x="128" y="85" width="3" height="1" fill="#3cc864"/>
<rect x="131" y="85" width="2" height="1" fill="#21bfd3"/>
<rect x="133" y="85" width="1" height="1" fill="#28c3ac"/>
<rect x="134" y="85" width="1" height="1" fill="#2ec685"/>
<rect x="135" y="85" width="2" height="1" fill="#21bfd3"/>
<rect x="137" y="85" width="1" height="1" fill="#2832eb"/>
<rect x="138" y="85" width="1" height="1" fill="#3c55eb"/>
<rect x="139" y="85" width="3" height="1" fill="#6982f2"/>
<rect x="142" y="85" width="1" height="1" fill="#3c55eb"/>
<rect x="143" y="85" width="1" height="1" fill="#8c6ee1"/>
<rect x="144" y="85" width="2" height="1" fill="#3c55eb"/>
<rect x="146" y="85" width="1" height="1" fill="#6982f2"/>
<rect x="147" y="85" width="5" height="1" fill="#3c55eb"/>
<rect x="152" y="85" width="1" height="1" fill="#6982f2"/>
<rect x="118" y="86" width="1" height="1" fill="#2679f7"/>
<rect x="119" y="86" width="1" height="1" fill="#2842ef"/>
<rect x="120" y="86" width="1" height="1" fill="#2679f7"/>
<rect x="121" y="86" width="1" height="1" fill="#2396f2"/>
<rect x="122" y="86" width="1" height="1" fill="#2ec685"/>
<rect x="123" y="86" width="3" height="1" fill="#3cc864"/>
<rect x="126" y="86" width="1" height="1" fill="#6dcc32"/>
<rect x="127" y="86" width="1" height="1" fill="#55ca4a"/>
<rect x="128" y="86" width="1" height="1" fill="#3cc864"/>
<rect x="129" y="86" width="1" height="1" fill="#55ca4a"/>
<rect x="130" y="86" width="1" height="1" fill="#3cc864"/>
<rect x="131" y="86" width="1" height="1" fill="#2ec685"/>
<rect x="132" y="86" width="1" height="1" fill="#28c3ac"/>
<rect x="133" y="86" width="1" height="1" fill="#2ec685"/>
<rect x="134" y="86" width="1" height="1" fill="#21bfd3"/>
<rect x="135" y="86" width="1" height="1" fill="#2396f2"/>
<rect x="136" y="86" width="1" height="1" fill="#21bfd3"/>
<rect x="137" y="86" width="1" height="1" fill="#2842ef"/>
<rect x="138" y="86" width="3" height="1" fill="#6982f2"/>
<rect x="141" y="86" width="1" height="1" fill="#8c6ee1"/>
<rect x="142" y="86" width="1" height="1" fill="#6982f2"/>
<rect x="143" y="86" width="1" height="1" fill="#3c55eb"/>
<rect x="144" y="86" width="2" height="1" fill="#6982f2"/>
<rect x="146" y="86" width="4" height="1" fill="#3c55eb"/>
<rect x="151" y="86" width="1" height="1" fill="#3c55eb"/>
<rect x="153" y="86" width="1" height="1" fill="#8c6ee1"/>
<rect x="155" y="86" width="1" height="1" fill="#6982f2"/>
<rect x="157" y="86" width="1" height="1" fill="#3c55eb"/>
<rect x="117" y="87" width="1" height="1" fill="#2853f3"/>
<rect x="118" y="87" width="1" height="1" fill="#2842ef"/>
<rect x="119" y="87" width="1" height="1" fill="#2853f3"/>
<rect x="120" y="87" width="1" height="1" fill="#2396f2"/>
<rect x="121" y="87" width="1" height="1" fill="#2679f7"/>
<rect x="122" y="87" width="1" height="1" fill="#2ec685"/>
<rect x="123" y="87" width="1" height="1" fill="#3cc864"/>
<rect x="124" y="87" width="1" height="1" fill="#28c3ac"/>
<rect x="125" y="87" width="1" height="1" fill="#3cc864"/>
<rect x="126" y="87" width="1" height="1" fill="#6dcc32"/>
<rect x="127" y="87" width="1" height="1" fill="#55ca4a"/>
<rect x="128" y="87" width="1" height="1" fill="#2ec685"/>
<rect x="129" y="87" width="2" height="1" fill="#21bfd3"/>
<rect x="131" y="87" width="1" height="1" fill="#3cc864"/>
<rect x="132" y="87" width="1" height="1" fill="#2ec685"/>
<rect x="133" y="87" width="1" height="1" fill="#1fb2ed"/>
<rect x="134" y="87" width="1" height="1" fill="#28c3ac"/>
<rect x="135" y="87" width="1" height="1" fill="#1fb2ed"/>
<rect x="136" y="87" width="1" height="1" fill="#2679f7"/>
<rect x="137" y="87" width="1" height="1" fill="#2864f7"/>
<rect x="138" y="87" width="1" height="1" fill="#2853f3"/>
<rect x="139" y="87" width="1" height="1" fill="#6982f2"/>
<rect x="140" y="87" width="1" height="1" fill="#8c6ee1"/>
<rect x="141" y="87" width="2" height="1" fill="#3c55eb"/>
<rect x="143" y="87" width="2" height="1" fill="#6982f2"/>
<rect x="149" y="87" width="1" height="1" fill="#3c55eb"/>
<rect x="151" y="87" width="1" height="1" fill="#6982f2"/>
<rect x="156" y="87" width="1" height="1" fill="#6982f2"/>
<rect x="118" y="88" width="2" height="1" fill="#2864f7"/>
<rect x="120" y="88" width="1" height="1" fill="#2396f2"/>
<rect x="121" y="88" width="2" height="1" fill="#21bfd3"/>
<rect x="123" y="88" width="1" height="1" fill="#55ca4a"/>
<rect x="124" y="88" width="1" height="1" fill="#28c3ac"/>
<rect x="125" y="88" width="4" height="1" fill="#2ec685"/>
<rect x="129" y="88" width="2" height="1" fill="#28c3ac"/>
<rect x="131" y="88" width="1" height="1" fill="#55ca4a"/>
<rect x="132" y="88" width="1" height="1" fill="#28c3ac"/>
<rect x="133" y="88" width="1" height="1" fill="#2ec685"/>
<rect x="134" y="88" width="2" height="1" fill="#1fb2ed"/>
<rect x="136" y="88" width="1" height="1" fill="#2396f2"/>
<rect x="137" y="88" width="1" height="1" fill="#2864f7"/>
<rect x="138" y="88" width="1" height="1" fill="#3c55eb"/>
<rect x="140" y="88" width="5" height="1" fill="#3c55eb"/>
<rect x="145" y="88" width="1" height="1" fill="#6982f2"/>
<rect x="147" y="88" width="1" height="1" fill="#6982f2"/>
<rect x="148" y="88" width="1" height="1" fill="#3c55eb"/>
<rect x="151" y="88" width="1" height="1" fill="#3c55eb"/>
<rect x="154" y="88" width="1" height="1" fill="#3c55eb"/>
<rect x="156" y="88" width="1" height="1" fill="#3c55eb"/>
<rect x="118" y="89" width="1" height="1" fill="#2864f7"/>
<rect x="119" y="89" width="2" height="1" fill="#2679f7"/>
<rect x="121" y="89" width="1" height="1" fill="#2396f2"/>
<rect x="122" y="89" width="1" height="1" fill="#28c3ac"/>
<rect x="123" y="89" width="1" height="1" fill="#21bfd3"/>
<rect x="124" y="89" width="3" height="1" fill="#2ec685"/>
<rect x="127" y="89" width="2" height="1" fill="#3cc864"/>
<rect x="129" y="89" width="1" height="1" fill="#2396f2"/>
<rect x="130" y="89" width="1" height="1" fill="#28c3ac"/>
<rect x="131" y="89" width="2" height="1" fill="#2ec685"/>
<rect x="133" y="89" width="1" height="1" fill="#21bfd3"/>
<rect x="134" y="89" width="3" height="1" fill="#1fb2ed"/>
<rect x="137" y="89" width="1" height="1" fill="#2842ef"/>
<rect x="139" y="89" width="2" height="1" fill="#3c55eb"/>
<rect x="141" y="89" width="1" height="1" fill="#6982f2"/>
<rect x="144" y="89" width="1" height="1" fill="#8c6ee1"/>
<rect x="146" y="89" width="2" height="1" fill="#3c55eb"/>
<rect x="149" y="89" width="1" height="1" fill="#8c6ee1"/>
<rect x="150" y="89" width="1" height="1" fill="#3c55eb"/>
<rect x="118" y="90" width="1" height="1" fill="#2396f2"/>
<rect x="119" y="90" width="1" height="1" fill="#2864f7"/>
<rect x="120" y="90" width="2" height="1" fill="#21bfd3"/>
<rect x="122" y="90" width="1" height="1" fill="#1fb2ed"/>
<rect x="123" y="90" width="5" height="1" fill="#28c3ac"/>
<rect x="128" y="90" width="1" height="1" fill="#21bfd3"/>
<rect x="129" y="90" width="1" height="1" fill="#3cc864"/>
<rect x="130" y="90" width="1" height="1" fill="#1fb2ed"/>
<rect x="131" y="90" width="1" height="1" fill="#2ec685"/>
<rect x="132" y="90" width="1" height="1" fill="#21bfd3"/>
<rect x="133" y="90" width="1" height="1" fill="#1fb2ed"/>
<rect x="134" y="90" width="1" height="1" fill="#28c3ac"/>
<rect x="135" y="90" width="1" height="1" fill="#2396f2"/>
<rect x="136" y="90" width="1" height="1" fill="#1fb2ed"/>
<rect x="137" y="90" width="1" height="1" fill="#2864f7"/>
<rect x="138" y="90" width="1" height="1" fill="#3c55eb"/>
<rect x="140" y="90" width="1" height="1" fill="#6982f2"/>
<rect x="143" y="90" width="1" height="1" fill="#6982f2"/>
<rect x="146" y="90" width="2" height="1" fill="#3c55eb"/>
<rect x="149" y="90" width="1" height="1" fill="#6982f2"/>
<rect x="154" y="90" width="1" height="1" fill="#3c55eb"/>
<rect x="118" y="91" width="1" height="1" fill="#2864f7"/>
<rect x="119" y="91" width="1" height="1" fill="#2853f3"/>
<rect x="120" y="91" width="1" height="1" fill="#21bfd3"/>
<rect x="121" y="91" width="1" height="1" fill="#28c3ac"/>
<rect x="122" y="91" width="1" height="1" fill="#21bfd3"/>
<rect x="123" y="91" width="4" height="1" fill="#28c3ac"/>
<rect x="127" y="91" width="1" height="1" fill="#3cc864"/>
<rect x="128" y="91" width="1" height="1" fill="#28c3ac"/>
<rect x="129" y="91" width="3" height="1" fill="#2ec685"/>
<rect x="132" y="91" width="1" height="1" fill="#28c3ac"/>
<rect x="133" y="91" width="1" height="1" fill="#2ec685"/>
<rect x="134" y="91" width="1" height="1" fill="#21bfd3"/>
<rect x="135" y="91" width="1" height="1" fill="#1fb2ed"/>
<rect x="136" y="91" width="1" height="1" fill="#2679f7"/>
<rect x="137" y="91" width="1" height="1" fill="#2842ef"/>
<rect x="138" y="91" width="1" height="1" fill="#2832eb"/>
<rect x="140" y="91" width="1" height="1" fill="#8c6ee1"/>
<rect x="145" y="91" width="1" height="1" fill="#3c55eb"/>
<rect x="147" y="91" width="1" height="1" fill="#3c55eb"/>
<rect x="159" y="91" width="1" height="1" fill="#6982f2"/>
<rect x="117" y="92" width="1" height="1" fill="#2853f3"/>
<rect x="118" y="92" width="1" height="1" fill="#2842ef"/>
<rect x="119" y="92" width="1" height="1" fill="#2853f3"/>
<rect x="120" y="92" width="1" height="1" fill="#1fb2ed"/>
<rect x="121" y="92" width="2" height="1" fill="#21bfd3"/>
<rect x="123" y="92" width="1" height="1" fill="#2ec685"/>
<rect x="124" y="92" width="2" height="1" fill="#28c3ac"/>
<rect x="126" y="92" width="1" height="1" fill="#21bfd3"/>
<rect x="127" y="92" width="3" height="1" fill="#3cc864"/>
<rect x="130" y="92" width="2" height="1" fill="#28c3ac"/>
<rect x="132" y="92" width="1" height="1" fill="#1fb2ed"/>
<rect x="133" y="92" width="1" height="1" fill="#2ec685"/>
<rect x="134" y="92" width="1" height="1" fill="#28c3ac"/>
<rect x="135" y="92" width="1" height="1" fill="#21bfd3"/>
<rect x="136" y="92" width="1" height="1" fill="#2396f2"/>
<rect x="137" y="92" width="1" height="1" fill="#2853f3"/>
<rect x="138" y="92" width="2" height="1" fill="#3c55eb"/>
<rect x="140" y="92" width="2" height="1" fill="#6982f2"/>
<rect x="142" y="92" width="1" height="1" fill="#3c55eb"/>
<rect x="144" y="92" width="1" height="1" fill="#8c6ee1"/>
<rect x="118" y="93" width="2" height="1" fill="#2864f7"/>
<rect x="120" y="93" width="1" height="1" fill="#2679f7"/>
<rect x="121" y="93" width="2" height="1" fill="#1fb2ed"/>
<rect x="123" y="93" width="1" height="1" fill="#3cc864"/>
<rect x="124" y="93" width="1" height="1" fill="#28c3ac"/>
<rect x="125" y="93" width="1" height="1" fill="#3cc864"/>
<rect x="126" y="93" width="1" height="1" fill="#21bfd3"/>
<rect x="127" y="93" width="2" height="1" fill="#2ec685"/>
<rect x="129" y="93" width="1" height="1" fill="#3cc864"/>
<rect x="130" y="93" width="1" height="1" fill="#2ec685"/>
<rect x="131" y="93" width="1" height="1" fill="#1fb2ed"/>
<rect x="132" y="93" width="1" height="1" fill="#2ec685"/>
<rect x="133" y="93" width="1" height="1" fill="#1fb2ed"/>
<rect x="134" y="93" width="1" height="1" fill="#2ec685"/>
<rect x="135" y="93" width="1" height="1" fill="#1fb2ed"/>
<rect x="136" y="93" width="1" height="1" fill="#2864f7"/>
<rect x="137" y="93" width="1" height="1" fill="#2679f7"/>
<rect x="138" y="93" width="1" height="1" fill="#2842ef"/>
<rect x="139" y="93" width="1" height="1" fill="#6982f2"/>
<rect x="140" y="93" width="1" height="1" fill="#2842ef"/>
<rect x="142" y="93" width="1" height="1" fill="#3c55eb"/>
<rect x="143" y="93" width="1" height="1" fill="#6982f2"/>
<rect x="145" y="93" width="1" height="1" fill="#8c6ee1"/>
<rect x="146" y="93" width="1" height="1" fill="#3c55eb"/>
<rect x="147" y="93" width="1" height="1" fill="#6982f2"/>
<rect x="150" y="93" width="1" height="1" fill="#3c55eb"/>
<rect x="118" y="94" width="2" height="1" fill="#2842ef"/>
<rect x="120" y="94" width="1" height="1" fill="#1fb2ed"/>
<rect x="121" y="94" width="1" height="1" fill="#21bfd3"/>
<rect x="122" y="94" width="2" height="1" fill="#3cc864"/>
<rect x="124" y="94" width="2" height="1" fill="#2ec685"/>
<rect x="126" y="94" width="1" height="1" fill="#28c3ac"/>
<rect x="127" y="94" width="2" height="1" fill="#3cc864"/>
<rect x="129" y="94" width="3" height="1" fill="#28c3ac"/>
<rect x="132" y="94" width="1" height="1" fill="#2396f2"/>
<rect x="133" y="94" width="2" height="1" fill="#21bfd3"/>
<rect x="135" y="94" width="1" height="1" fill="#1fb2ed"/>
<rect x="136" y="94" width="1" height="1" fill="#2864f7"/>
<rect x="137" y="94" width="1" height="1" fill="#2842ef"/>
<rect x="138" y="94" width="1" height="1" fill="#2864f7"/>
<rect x="139" y="94" width="1" height="1" fill="#6982f2"/>
<rect x="140" y="94" width="1" height="1" fill="#8c6ee1"/>
<rect x="141" y="94" width="4" height="1" fill="#3c55eb"/>
<rect x="146" y="94" width="1" height="1" fill="#6982f2"/>
<rect x="118" y="95" width="2" height="1" fill="#2864f7"/>
<rect x="120" y="95" width="1" height="1" fill="#1fb2ed"/>
<rect x="121" y="95" width="1" height="1" fill="#21bfd3"/>
<rect x="122" y="95" width="1" height="1" fill="#2ec685"/>
<rect x="123" y="95" width="2" height="1" fill="#28c3ac"/>
<rect x="125" y="95" width="1" height="1" fill="#55ca4a"/>
<rect x="126" y="95" width="1" height="1" fill="#2ec685"/>
<rect x="127" y="95" width="1" height="1" fill="#3cc864"/>
<rect x="128" y="95" width="1" height="1" fill="#21bfd3"/>
<rect x="129" y="95" width="1" height="1" fill="#55ca4a"/>
<rect x="130" y="95" width="1" height="1" fill="#3cc864"/>
<rect x="131" y="95" width="1" height="1" fill="#28c3ac"/>
<rect x="132" y="95" width="1" height="1" fill="#1fb2ed"/>
<rect x="133" y="95" width="1" height="1" fill="#28c3ac"/>
<rect x="134" y="95" width="3" height="1" fill="#21bfd3"/>
<rect x="137" y="95" width="1" height="1" fill="#2853f3"/>
<rect x="138" y="95" width="2" height="1" fill="#3c55eb"/>
<rect x="140" y="95" width="2" height="1" fill="#6982f2"/>
<rect x="142" y="95" width="1" height="1" fill="#3c55eb"/>
<rect x="143" y="95" width="2" height="1" fill="#6982f2"/>
<rect x="146" y="95" width="1" height="1" fill="#3c55eb"/>
<rect x="147" y="95" width="1" height="1" fill="#8c6ee1"/>
<rect x="152" y="95" width="1" height="1" fill="#6982f2"/>
<rect x="117" y="96" width="2" height="1" fill="#2853f3"/>
<rect x="119" y="96" width="1" height="1" fill="#2679f7"/>
<rect x="120" y="96" width="1" height="1" fill="#2396f2"/>
<rect x="121" y="96" width="1" height="1" fill="#3cc864"/>
<rect x="122" y="96" width="1" height="1" fill="#1fb2ed"/>
<rect x="123" y="96" width="1" height="1" fill="#55ca4a"/>
<rect x="124" y="96" width="2" height="1" fill="#6dcc32"/>
<rect x="126" y="96" width="1" height="1" fill="#3cc864"/>
<rect x="127" y="96" width="1" height="1" fill="#92cf25"/>
<rect x="128" y="96" width="1" height="1" fill="#6dcc32"/>
<rect x="129" y="96" width="1" height="1" fill="#55ca4a"/>
<rect x="130" y="96" width="1" height="1" fill="#2ec685"/>
<rect x="131" y="96" width="1" height="1" fill="#28c3ac"/>
<rect x="132" y="96" width="1" height="1" fill="#3cc864"/>
<rect x="133" y="96" width="1" height="1" fill="#28c3ac"/>
<rect x="134" y="96" width="1" height="1" fill="#1fb2ed"/>
<rect x="135" y="96" width="2" height="1" fill="#2396f2"/>
<rect x="137" y="96" width="1" height="1" fill="#2853f3"/>
<rect x="138" y="96" width="1" height="1" fill="#2832eb"/>
<rect x="139" y="96" width="1" height="1" fill="#3c55eb"/>
<rect x="140" y="96" width="1" height="1" fill="#8c6ee1"/>
<rect x="141" y="96" width="1" height="1" fill="#6982f2"/>
<rect x="142" y="96" width="5" height="1" fill="#3c55eb"/>
<rect x="154" y="96" width="1" height="1" fill="#3c55eb"/>
<rect x="156" y="96" width="1" height="1" fill="#3c55eb"/>
<rect x="118" y="97" width="1" height="1" fill="#2842ef"/>
<rect x="119" y="97" width="1" height="1" fill="#2832eb"/>
<rect x="120" y="97" width="1" height="1" fill="#2396f2"/>
<rect x="121" y="97" width="1" height="1" fill="#3cc864"/>
<rect x="122" y="97" width="1" height="1" fill="#21bfd3"/>
<rect x="123" y="97" width="1" height="1" fill="#3cc864"/>
<rect x="124" y="97" width="1" height="1" fill="#55ca4a"/>
<rect x="125" y="97" width="1" height="1" fill="#bdd321"/>
<rect x="126" y="97" width="1" height="1" fill="#55ca4a"/>
<rect x="127" y="97" width="1" height="1" fill="#92cf25"/>
<rect x="128" y="97" width="1" height="1" fill="#55ca4a"/>
<rect x="129" y="97" width="1" height="1" fill="#3cc864"/>
<rect x="130" y="97" width="1" height="1" fill="#28c3ac"/>
<rect x="131" y="97" width="1" height="1" fill="#3cc864"/>
<rect x="132" y="97" width="2" height="1" fill="#21bfd3"/>
<rect x="134" y="97" width="1" height="1" fill="#28c3ac"/>
<rect x="135" y="97" width="1" height="1" fill="#1fb2ed"/>
<rect x="136" y="97" width="1" height="1" fill="#21bfd3"/>
<rect x="137" y="97" width="1" height="1" fill="#2864f7"/>
<rect x="138" y="97" width="1" height="1" fill="#6982f2"/>
<rect x="139" y="97" width="2" height="1" fill="#3c55eb"/>
<rect x="141" y="97" width="1" height="1" fill="#6982f2"/>
<rect x="142" y="97" width="1" height="1" fill="#3c55eb"/>
<rect x="143" y="97" width="1" height="1" fill="#8c6ee1"/>
<rect x="144" y="97" width="2" height="1" fill="#3c55eb"/>
<rect x="148" y="97" width="1" height="1" fill="#3c55eb"/>
<rect x="150" y="97" width="1" height="1" fill="#3c55eb"/>
<rect x="155" y="97" width="1" height="1" fill="#3c55eb"/>
<rect x="156" y="97" width="1" height="1" fill="#6982f2"/>
<rect x="118" y="98" width="3" height="1" fill="#2864f7"/>
<rect x="121" y="98" width="2" height="1" fill="#3cc864"/>
<rect x="123" y="98" width="1" height="1" fill="#6dcc32"/>
<rect x="124" y="98" width="1" height="1" fill="#92cf25"/>
<rect x="125" y="98" width="1" height="1" fill="#e2d11d"/>
<rect x="126" y="98" width="1" height="1" fill="#92cf25"/>
<rect x="127" y="98" width="1" height="1" fill="#bdd321"/>
<rect x="128" y="98" width="1" height="1" fill="#6dcc32"/>
<rect x="129" y="98" width="1" height="1" fill="#92cf25"/>
<rect x="130" y="98" width="1" height="1" fill="#55ca4a"/>
<rect x="131" y="98" width="1" height="1" fill="#2ec685"/>
<rect x="132" y="98" width="1" height="1" fill="#28c3ac"/>
<rect x="133" y="98" width="1" height="1" fill="#21bfd3"/>
<rect x="134" y="98" width="1" height="1" fill="#2396f2"/>
<rect x="135" y="98" width="1" height="1" fill="#21bfd3"/>
<rect x="136" y="98" width="1" height="1" fill="#2396f2"/>
<rect x="137" y="98" width="1" height="1" fill="#2679f7"/>
<rect x="138" y="98" width="1" height="1" fill="#3c55eb"/>
<rect x="139" y="98" width="1" height="1" fill="#8c6ee1"/>
<rect x="140" y="98" width="1" height="1" fill="#3c55eb"/>
<rect x="141" y="98" width="1" height="1" fill="#6982f2"/>
<rect x="142" y="98" width="1" height="1" fill="#3c55eb"/>
<rect x="143" y="98" width="1" height="1" fill="#6982f2"/>
<rect x="146" y="98" width="2" height="1" fill="#3c55eb"/>
<rect x="148" y="98" width="1" height="1" fill="#6982f2"/>
<rect x="149" y="98" width="1" height="1" fill="#3c55eb"/>
<rect x="154" y="98" width="1" height="1" fill="#3c55eb"/>
<rect x="119" y="99" width="1" height="1" fill="#2396f2"/>
<rect x="120" y="99" width="2" height="1" fill="#1fb2ed"/>
<rect x="122" y="99" width="1" height="1" fill="#2ec685"/>
<rect x="123" y="99" width="1" height="1" fill="#55ca4a"/>
<rect x="124" y="99" width="1" height="1" fill="#bdd321"/>
<rect x="125" y="99" width="2" height="1" fill="#e2d11d"/>
<rect x="127" y="99" width="1" height="1" fill="#bdd321"/>
<rect x="128" y="99" width="1" height="1" fill="#e2d11d"/>
<rect x="129" y="99" width="2" height="1" fill="#6dcc32"/>
<rect x="131" y="99" width="1" height="1" fill="#2ec685"/>
<rect x="132" y="99" width="2" height="1" fill="#28c3ac"/>
<rect x="134" y="99" width="1" height="1" fill="#2679f7"/>
<rect x="135" y="99" width="1" height="1" fill="#1fb2ed"/>
<rect x="136" y="99" width="1" height="1" fill="#2842ef"/>
<rect x="137" y="99" width="1" height="1" fill="#2853f3"/>
<rect x="138" y="99" width="1" height="1" fill="#6982f2"/>
<rect x="139" y="99" width="3" height="1" fill="#3c55eb"/>
<rect x="142" y="99" width="1" height="1" fill="#6982f2"/>
<rect x="143" y="99" width="2" height="1" fill="#3c55eb"/>
<rect x="146" y="99" width="1" height="1" fill="#6982f2"/>
<rect x="147" y="99" width="1" height="1" fill="#3c55eb"/>
<rect x="152" y="99" width="1" height="1" fill="#6982f2"/>
<rect x="153" y="99" width="1" height="1" fill="#3c55eb"/>
<rect x="118" y="100" width="1" height="1" fill="#2864f7"/>
<rect x="119" y="100" width="1" height="1" fill="#2842ef"/>
<rect x="120" y="100" width="1" height="1" fill="#2396f2"/>
<rect x="121" y="100" width="1" height="1" fill="#28c3ac"/>
<rect x="122" y="100" width="1" height="1" fill="#55ca4a"/>
<rect x="123" y="100" width="1" height="1" fill="#92cf25"/>
<rect x="124" y="100" width="1" height="1" fill="#e2d11d"/>
<rect x="125" y="100" width="1" height="1" fill="#ebb61b"/>
<rect x="126" y="100" width="3" height="1" fill="#f39b19"/>
<rect x="129" y="100" width="1" height="1" fill="#6dcc32"/>
<rect x="130" y="100" width="1" height="1" fill="#55ca4a"/>
<rect x="131" y="100" width="1" height="1" fill="#28c3ac"/>
<rect x="132" y="100" width="1" height="1" fill="#21bfd3"/>
<rect x="133" y="100" width="1" height="1" fill="#2ec685"/>
<rect x="134" y="100" width="1" height="1" fill="#2396f2"/>
<rect x="135" y="100" width="1" height="1" fill="#2679f7"/>
<rect x="136" y="100" width="1" height="1" fill="#2864f7"/>
<rect x="137" y="100" width="1" height="1" fill="#2853f3"/>
<rect x="138" y="100" width="2" height="1" fill="#3c55eb"/>
<rect x="140" y="100" width="1" height="1" fill="#6982f2"/>
<rect x="141" y="100" width="1" height="1" fill="#3c55eb"/>
<rect x="142" y="100" width="1" height="1" fill="#6982f2"/>
<rect x="143" y="100" width="2" height="1" fill="#3c55eb"/>
<rect x="146" y="100" width="1" height="1" fill="#3c55eb"/>
<rect x="147" y="100" width="1" height="1" fill="#6982f2"/>
<rect x="148" y="100" width="1" height="1" fill="#3c55eb"/>
<rect x="118" y="101" width="1" height="1" fill="#2679f7"/>
<rect x="119" y="101" width="1" height="1" fill="#2853f3"/>
<rect x="120" y="101" width="1" height="1" fill="#2679f7"/>
<rect x="121" y="101" width="1" height="1" fill="#1fb2ed"/>
<rect x="122" y="101" width="1" height="1" fill="#21bfd3"/>
<rect x="123" y="101" width="1" height="1" fill="#6dcc32"/>
<rect x="124" y="101" width="5" height="1" fill="#bdd321"/>
<rect x="129" y="101" width="1" height="1" fill="#55ca4a"/>
<rect x="130" y="101" width="3" height="1" fill="#28c3ac"/>
<rect x="133" y="101" width="1" height="1" fill="#21bfd3"/>
<rect x="134" y="101" width="1" height="1" fill="#1fb2ed"/>
<rect x="135" y="101" width="2" height="1" fill="#2679f7"/>
<rect x="137" y="101" width="2" height="1" fill="#3c55eb"/>
<rect x="139" y="101" width="1" height="1" fill="#2853f3"/>
<rect x="140" y="101" width="1" height="1" fill="#3c55eb"/>
<rect x="141" y="101" width="1" height="1" fill="#6982f2"/>
<rect x="144" y="101" width="2" height="1" fill="#3c55eb"/>
<rect x="146" y="101" width="1" height="1" fill="#6982f2"/>
<rect x="149" y="101" width="1" height="1" fill="#3c55eb"/>
<rect x="151" y="101" width="1" height="1" fill="#6982f2"/>
<rect x="119" y="102" width="1" height="1" fill="#2832eb"/>
<rect x="120" y="102" width="1" height="1" fill="#2679f7"/>
<rect x="121" y="102" width="1" height="1" fill="#21bfd3"/>
<rect x="122" y="102" width="1" height="1" fill="#28c3ac"/>
<rect x="123" y="102" width="1" height="1" fill="#55ca4a"/>
<rect x="124" y="102" width="1" height="1" fill="#6dcc32"/>
<rect x="125" y="102" width="1" height="1" fill="#bdd321"/>
<rect x="126" y="102" width="1" height="1" fill="#e2d11d"/>
<rect x="127" y="102" width="2" height="1" fill="#92cf25"/>
<rect x="129" y="102" width="1" height="1" fill="#55ca4a"/>
<rect x="130" y="102" width="1" height="1" fill="#2ec685"/>
<rect x="131" y="102" width="1" height="1" fill="#21bfd3"/>
<rect x="132" y="102" width="1" height="1" fill="#1fb2ed"/>
<rect x="133" y="102" width="1" height="1" fill="#2864f7"/>
<rect x="134" y="102" width="1" height="1" fill="#2679f7"/>
<rect x="135" y="102" width="1" height="1" fill="#2842ef"/>
<rect x="136" y="102" width="1" height="1" fill="#2864f7"/>
<rect x="137" y="102" width="1" height="1" fill="#2853f3"/>
<rect x="138" y="102" width="1" height="1" fill="#8c6ee1"/>
<rect x="139" y="102" width="2" height="1" fill="#3c55eb"/>
<rect x="141" y="102" width="1" height="1" fill="#6982f2"/>
<rect x="143" y="102" width="2" height="1" fill="#3c55eb"/>
<rect x="145" y="102" width="1" height="1" fill="#6982f2"/>
<rect x="147" y="102" width="1" height="1" fill="#6982f2"/>
<rect x="151" y="102" width="1" height="1" fill="#3c55eb"/>
<rect x="119" y="103" width="1" height="1" fill="#2842ef"/>
<rect x="120" y="103" width="2" height="1" fill="#2396f2"/>
<rect x="122" y="103" width="1" height="1" fill="#1fb2ed"/>
<rect x="123" y="103" width="1" height="1" fill="#28c3ac"/>
<rect x="124" y="103" width="1" height="1" fill="#2ec685"/>
<rect x="125" y="103" width="1" height="1" fill="#55ca4a"/>
<rect x="126" y="103" width="1" height="1" fill="#6dcc32"/>
<rect x="127" y="103" width="1" height="1" fill="#3cc864"/>
<rect x="128" y="103" width="1" height="1" fill="#2ec685"/>
<rect x="129" y="103" width="1" height="1" fill="#21bfd3"/>
<rect x="130" y="103" width="1" height="1" fill="#28c3ac"/>
<rect x="131" y="103" width="1" height="1" fill="#1fb2ed"/>
<rect x="132" y="103" width="1" height="1" fill="#2864f7"/>
<rect x="133" y="103" width="1" height="1" fill="#2396f2"/>
<rect x="134" y="103" width="2" height="1" fill="#2864f7"/>
<rect x="137" y="103" width="1" height="1" fill="#6982f2"/>
<rect x="138" y="103" width="1" height="1" fill="#3c55eb"/>
<rect x="140" y="103" width="2" height="1" fill="#6982f2"/>
<rect x="143" y="103" width="3" height="1" fill="#3c55eb"/>
<rect x="149" y="103" width="1" height="1" fill="#6982f2"/>
<rect x="120" y="104" width="1" height="1" fill="#2832eb"/>
<rect x="121" y="104" width="1" height="1" fill="#2842ef"/>
<rect x="122" y="104" width="1" height="1" fill="#2679f7"/>
<rect x="123" y="104" width="2" height="1" fill="#21bfd3"/>
<rect x="125" y="104" width="1" height="1" fill="#28c3ac"/>
<rect x="126" y="104" width="3" height="1" fill="#2ec685"/>
<rect x="129" y="104" width="1" height="1" fill="#2396f2"/>
<rect x="130" y="104" width="1" height="1" fill="#2679f7"/>
<rect x="131" y="104" width="2" height="1" fill="#2396f2"/>
<rect x="133" y="104" width="1" height="1" fill="#2832eb"/>
<rect x="134" y="104" width="1" height="1" fill="#2853f3"/>
<rect x="140" y="104" width="1" height="1" fill="#8c6ee1"/>
<rect x="141" y="104" width="1" height="1" fill="#3c55eb"/>
<rect x="121" y="105" width="1" height="1" fill="#2853f3"/>
<rect x="122" y="105" width="1" height="1" fill="#2679f7"/>
<rect x="123" y="105" width="1" height="1" fill="#1fb2ed"/>
<rect x="124" y="105" width="1" height="1" fill="#2679f7"/>
<rect x="125" y="105" width="3" height="1" fill="#2396f2"/>
<rect x="128" y="105" width="1" height="1" fill="#1fb2ed"/>
<rect x="129" y="105" width="1" height="1" fill="#2679f7"/>
<rect x="130" y="105" width="1" height="1" fill="#2853f3"/>
<rect x="131" y="105" width="1" height="1" fill="#2864f7"/>
<rect x="132" y="105" width="1" height="1" fill="#2842ef"/>
<rect x="133" y="105" width="1" height="1" fill="#2396f2"/>
<rect x="134" y="105" width="1" height="1" fill="#2864f7"/>
<rect x="137" y="105" width="1" height="1" fill="#3c55eb"/>
<rect x="152" y="105" width="1" height="1" fill="#3c55eb"/>
<rect x="119" y="106" width="1" height="1" fill="#2832eb"/>
<rect x="120" y="106" width="1" height="1" fill="#2842ef"/>
<rect x="122" y="106" width="1" height="1" fill="#2679f7"/>
<rect x="123" y="106" width="1" height="1" fill="#2842ef"/>
<rect x="124" y="106" width="1" height="1" fill="#2864f7"/>
<rect x="125" y="106" width="1" height="1" fill="#2842ef"/>
<rect x="126" y="106" width="2" height="1" fill="#2679f7"/>
<rect x="128" y="106" width="1" height="1" fill="#2842ef"/>
<rect x="129" y="106" width="1" height="1" fill="#2679f7"/>
<rect x="130" y="106" width="1" height="1" fill="#2864f7"/>
<rect x="135" y="106" width="1" height="1" fill="#2832eb"/>
<rect x="143" y="106" width="1" height="1" fill="#3c55eb"/>
<rect x="126" y="107" width="1" height="1" fill="#2842ef"/>
<rect x="136" y="107" width="1" height="1" fill="#2842ef"/>
<rect x="120" y="108" width="1" height="1" fill="#2864f7"/>
<rect x="121" y="108" width="1" height="1" fill="#2853f3"/>
<rect x="123" y="108" width="1" height="1" fill="#2679f7"/>
<rect x="127" y="108" width="1" height="1" fill="#2842ef"/>
<rect x="122" y="109" width="1" height="1" fill="#2864f7"/>
<rect x="124" y="109" width="1" height="1" fill="#2853f3"/>
<rect x="130" y="109" width="1" height="1" fill="#2842ef"/>
<rect x="123" y="110" width="1" height="1" fill="#2832eb"/>
<line x1="138.5" y1="55.5" x2="138.5" y2="121.3" stroke="#000" stroke-width="1.0" stroke-opacity="0.55"/>
<line x1="115.5" y1="91.8" x2="181.5" y2="91.8" stroke="#000" stroke-width="1.0" stroke-opacity="0.55"/>
<line x1="115.5" y1="55.5" x2="115.5" y2="121.3" stroke="#333" stroke-width="0.9"/>
<line x1="115.5" y1="121.3" x2="181.5" y2="121.3" stroke="#555" stroke-width="0.9"/>
<line x1="114.0" y1="73" x2="115.5" y2="73" stroke="#333" stroke-width="0.7"/>
<line x1="114.0" y1="89" x2="115.5" y2="89" stroke="#333" stroke-width="0.7"/>
<line x1="114.0" y1="95.5" x2="115.5" y2="95.5" stroke="#333" stroke-width="0.7"/>
<line x1="125" y1="121.3" x2="125" y2="122.6" stroke="#555" stroke-width="0.6"/>
<line x1="138.5" y1="121.3" x2="138.5" y2="122.6" stroke="#555" stroke-width="0.6"/>
<line x1="150" y1="121.3" x2="150" y2="122.6" stroke="#555" stroke-width="0.6"/>
<line x1="162" y1="121.3" x2="162" y2="122.6" stroke="#555" stroke-width="0.6"/>
<text transform="translate(117 62) scale(0.88 1)" font-size="7.01" text-anchor="start" font-weight="normal" fill="#222" stroke="#222" stroke-width="0.2" textLength="20.45" lengthAdjust="spacingAndGlyphs">EMRA</text>
<text transform="translate(180.2 62) scale(0.88 1)" font-size="7.01" text-anchor="end" font-weight="normal" fill="#222" stroke="#222" stroke-width="0.2" textLength="17.05" lengthAdjust="spacingAndGlyphs">Naive</text>
<text transform="translate(117 120.2) scale(0.88 1)" font-size="7.01" text-anchor="start" font-weight="normal" fill="#222" stroke="#222" stroke-width="0.2" textLength="11.36" lengthAdjust="spacingAndGlyphs">EM</text>
<text transform="translate(180.5 120.2) scale(0.88 1)" font-size="7.01" text-anchor="end" font-weight="normal" fill="#222" stroke="#222" stroke-width="0.2" textLength="11.93" lengthAdjust="spacingAndGlyphs">CM</text>
<text transform="translate(108.2 106.9) rotate(-90)" font-size="6.90" text-anchor="middle" font-weight="bold" fill="#222" textLength="20.80" lengthAdjust="spacingAndGlyphs">CD45RA</text>
<text transform="translate(118.8 133)" font-size="7.40" text-anchor="start" font-weight="bold" fill="#222" textLength="14.60" lengthAdjust="spacingAndGlyphs">CCR7</text>
<line x1="105.5" y1="93" x2="105.5" y2="62" stroke="#111" stroke-width="0.9"/>
<path d="M103.6,63.2 L105.5,58.6 L107.4,63.2 Z" fill="#111"/>
<line x1="136.5" y1="130.8" x2="176" y2="130.8" stroke="#111" stroke-width="0.9"/>
<path d="M175,128.9 L179.8,130.8 L175,132.7 Z" fill="#111"/>
<circle cx="114.6" cy="106.3" r="1" fill="#111"/>
<rect x="129.2" y="121.4" width="2.6" height="1.2" fill="#111"/>
<line x1="230.5" y1="55.5" x2="230.5" y2="130" stroke="#111" stroke-width="1.0"/>
<line x1="227.2" y1="58.5" x2="230.5" y2="58.5" stroke="#111" stroke-width="1.0"/>
<text transform="translate(224.89999999999998 60.300000000000004)" font-size="6.30" text-anchor="end" font-weight="normal" fill="#222" stroke="#222" stroke-width="0.1">100</text>
<line x1="227.2" y1="87.5" x2="230.5" y2="87.5" stroke="#111" stroke-width="1.0"/>
<text transform="translate(224.89999999999998 89.6)" font-size="6.30" text-anchor="end" font-weight="normal" fill="#222" stroke="#222" stroke-width="0.1">50</text>
<line x1="227.2" y1="116.5" x2="230.5" y2="116.5" stroke="#111" stroke-width="1.0"/>
<text transform="translate(224.89999999999998 118.5)" font-size="6.30" text-anchor="end" font-weight="normal" fill="#222" stroke="#222" stroke-width="0.1">0</text>
<line x1="230.2" y1="129.5" x2="303.2" y2="129.5" stroke="#111" stroke-width="1.0"/>
<line x1="238.5" y1="129.5" x2="238.5" y2="132.0" stroke="#111" stroke-width="1.0"/>
<line x1="257.5" y1="129.5" x2="257.5" y2="132.0" stroke="#111" stroke-width="1.0"/>
<line x1="275.5" y1="129.5" x2="275.5" y2="132.0" stroke="#111" stroke-width="1.0"/>
<line x1="294.5" y1="129.5" x2="294.5" y2="132.0" stroke="#111" stroke-width="1.0"/>
<text transform="translate(238.3 143.2) scale(0.88 1)" font-size="6.78" text-anchor="middle" font-weight="normal" fill="#111" stroke="#111" stroke-width="0.2">Naive</text>
<text transform="translate(257 143.2) scale(0.88 1)" font-size="6.78" text-anchor="middle" font-weight="normal" fill="#111" stroke="#111" stroke-width="0.2">CM</text>
<text transform="translate(275.3 143.2) scale(0.88 1)" font-size="6.78" text-anchor="middle" font-weight="normal" fill="#111" stroke="#111" stroke-width="0.2">EM</text>
<text transform="translate(296 143.2) scale(0.88 1)" font-size="6.78" text-anchor="middle" font-weight="normal" fill="#111" stroke="#111" stroke-width="0.2">EMRA</text>
<text transform="translate(205 87.0) rotate(-90) scale(0.88 1)" font-size="6.78" text-anchor="middle" font-weight="normal" fill="#111" stroke="#111" stroke-width="0.3">% of CD8<tspan font-size="3.8" dy="-2">+</tspan><tspan dy="2"> T cells</tspan></text>
<line x1="231" y1="116.4" x2="306" y2="116.4" stroke="#111" stroke-width="0.9" stroke-dasharray="1.1 1.5"/>
<path d="M234.78,98.30 L234.78,98.56 L234.78,98.81 L234.78,99.07 L234.78,99.32 L234.78,99.58 L234.78,99.84 L234.78,100.09 L234.78,100.35 L234.78,100.61 L234.78,100.86 L234.79,101.12 L234.81,101.37 L234.83,101.63 L234.85,101.89 L234.86,102.14 L234.89,102.40 L234.91,102.66 L234.93,102.91 L234.96,103.17 L234.99,103.42 L235.02,103.68 L235.05,103.94 L235.08,104.19 L235.12,104.45 L235.15,104.70 L235.19,104.96 L235.24,105.22 L235.28,105.47 L235.33,105.73 L235.38,105.99 L235.43,106.24 L235.49,106.50 L235.54,106.75 L235.60,107.01 L235.67,107.27 L235.73,107.52 L235.80,107.78 L235.87,108.03 L235.94,108.29 L236.02,108.55 L236.09,108.80 L236.17,109.06 L236.25,109.32 L236.32,109.57 L236.40,109.83 L236.46,110.08 L236.52,110.34 L236.49,110.60 L236.41,110.85 L236.33,111.11 L236.25,111.37 L236.16,111.62 L236.07,111.88 L235.99,112.13 L235.90,112.39 L235.82,112.65 L235.75,112.90 L235.67,113.16 L235.60,113.41 L235.53,113.67 L235.47,113.93 L235.41,114.18 L235.35,114.44 L235.29,114.70 L235.24,114.95 L235.19,115.21 L235.15,115.46 L235.11,115.72 L235.07,115.98 L235.03,116.23 L235.00,116.49 L234.96,116.74 L234.94,117.00 L234.91,117.26 L234.88,117.51 L234.86,117.77 L234.84,118.03 L234.82,118.28 L234.80,118.54 L234.78,118.79 L234.78,119.05 L234.78,119.31 L234.78,119.56 L234.78,119.82 L234.78,120.08 L234.78,120.33 L234.78,120.59 L234.78,120.84 L234.78,121.10 L234.42,121.10 L234.42,120.84 L234.42,120.59 L234.42,120.33 L234.42,120.08 L234.42,119.82 L234.42,119.56 L234.42,119.31 L234.42,119.05 L234.42,118.79 L234.40,118.54 L234.38,118.28 L234.36,118.03 L234.34,117.77 L234.32,117.51 L234.29,117.26 L234.26,117.00 L234.24,116.74 L234.20,116.49 L234.17,116.23 L234.13,115.98 L234.09,115.72 L234.05,115.46 L234.01,115.21 L233.96,114.95 L233.91,114.70 L233.85,114.44 L233.79,114.18 L233.73,113.93 L233.67,113.67 L233.60,113.41 L233.53,113.16 L233.45,112.90 L233.38,112.65 L233.30,112.39 L233.21,112.13 L233.13,111.88 L233.04,111.62 L232.95,111.37 L232.87,111.11 L232.79,110.85 L232.71,110.60 L232.68,110.34 L232.74,110.08 L232.80,109.83 L232.88,109.57 L232.95,109.32 L233.03,109.06 L233.11,108.80 L233.18,108.55 L233.26,108.29 L233.33,108.03 L233.40,107.78 L233.47,107.52 L233.53,107.27 L233.60,107.01 L233.66,106.75 L233.71,106.50 L233.77,106.24 L233.82,105.99 L233.87,105.73 L233.92,105.47 L233.96,105.22 L234.01,104.96 L234.05,104.70 L234.08,104.45 L234.12,104.19 L234.15,103.94 L234.18,103.68 L234.21,103.42 L234.24,103.17 L234.27,102.91 L234.29,102.66 L234.31,102.40 L234.34,102.14 L234.35,101.89 L234.37,101.63 L234.39,101.37 L234.41,101.12 L234.42,100.86 L234.42,100.61 L234.42,100.35 L234.42,100.09 L234.42,99.84 L234.42,99.58 L234.42,99.32 L234.42,99.07 L234.42,98.81 L234.42,98.56 L234.42,98.30 Z" fill="#6aae9a" stroke="#2a5248" stroke-width="0.7" stroke-linejoin="round"/>
<circle cx="235.10" cy="104" r="1.1" fill="#0a2c23"/>
<circle cx="233.80" cy="108" r="1.1" fill="#0a2c23"/>
<circle cx="235.60" cy="110" r="1.1" fill="#0a2c23"/>
<circle cx="234.10" cy="111.5" r="1.1" fill="#0a2c23"/>
<circle cx="235.30" cy="113" r="1.1" fill="#0a2c23"/>
<circle cx="234.60" cy="115" r="1.1" fill="#0a2c23"/>
<path d="M241.48,105.50 L241.48,105.63 L241.48,105.75 L241.48,105.88 L241.48,106.00 L241.48,106.13 L241.48,106.26 L241.48,106.38 L241.48,106.51 L241.48,106.63 L241.48,106.76 L241.48,106.88 L241.48,107.01 L241.49,107.14 L241.50,107.26 L241.51,107.39 L241.52,107.51 L241.54,107.64 L241.55,107.77 L241.57,107.89 L241.59,108.02 L241.61,108.14 L241.63,108.27 L241.65,108.39 L241.67,108.52 L241.69,108.65 L241.71,108.77 L241.74,108.90 L241.76,109.02 L241.79,109.15 L241.82,109.28 L241.85,109.40 L241.88,109.53 L241.92,109.65 L241.95,109.78 L241.99,109.90 L242.03,110.03 L242.07,110.16 L242.11,110.28 L242.15,110.41 L242.19,110.53 L242.24,110.66 L242.29,110.79 L242.34,110.91 L242.39,111.04 L242.44,111.16 L242.50,111.29 L242.56,111.41 L242.61,111.54 L242.67,111.67 L242.73,111.79 L242.79,111.92 L242.86,112.04 L242.92,112.17 L242.98,112.30 L243.04,112.42 L243.10,112.55 L243.15,112.67 L243.20,112.80 L243.22,112.92 L243.13,113.05 L243.01,113.18 L242.89,113.30 L242.77,113.43 L242.65,113.55 L242.54,113.68 L242.43,113.81 L242.33,113.93 L242.24,114.06 L242.15,114.18 L242.07,114.31 L241.99,114.43 L241.92,114.56 L241.86,114.69 L241.80,114.81 L241.74,114.94 L241.70,115.06 L241.65,115.19 L241.61,115.32 L241.58,115.44 L241.55,115.57 L241.52,115.69 L241.49,115.82 L241.48,115.94 L241.48,116.07 L241.48,116.20 L241.48,116.32 L241.48,116.45 L241.48,116.57 L241.48,116.70 L241.12,116.70 L241.12,116.57 L241.12,116.45 L241.12,116.32 L241.12,116.20 L241.12,116.07 L241.12,115.94 L241.11,115.82 L241.08,115.69 L241.05,115.57 L241.02,115.44 L240.99,115.32 L240.95,115.19 L240.90,115.06 L240.86,114.94 L240.80,114.81 L240.74,114.69 L240.68,114.56 L240.61,114.43 L240.53,114.31 L240.45,114.18 L240.36,114.06 L240.27,113.93 L240.17,113.81 L240.06,113.68 L239.95,113.55 L239.83,113.43 L239.71,113.30 L239.59,113.18 L239.47,113.05 L239.38,112.92 L239.40,112.80 L239.45,112.67 L239.50,112.55 L239.56,112.42 L239.62,112.30 L239.68,112.17 L239.74,112.04 L239.81,111.92 L239.87,111.79 L239.93,111.67 L239.99,111.54 L240.04,111.41 L240.10,111.29 L240.16,111.16 L240.21,111.04 L240.26,110.91 L240.31,110.79 L240.36,110.66 L240.41,110.53 L240.45,110.41 L240.49,110.28 L240.53,110.16 L240.57,110.03 L240.61,109.90 L240.65,109.78 L240.68,109.65 L240.72,109.53 L240.75,109.40 L240.78,109.28 L240.81,109.15 L240.84,109.02 L240.86,108.90 L240.89,108.77 L240.91,108.65 L240.93,108.52 L240.95,108.39 L240.97,108.27 L240.99,108.14 L241.01,108.02 L241.03,107.89 L241.05,107.77 L241.06,107.64 L241.08,107.51 L241.09,107.39 L241.10,107.26 L241.11,107.14 L241.12,107.01 L241.12,106.88 L241.12,106.76 L241.12,106.63 L241.12,106.51 L241.12,106.38 L241.12,106.26 L241.12,106.13 L241.12,106.00 L241.12,105.88 L241.12,105.75 L241.12,105.63 L241.12,105.50 Z" fill="#fac474" stroke="#e3943a" stroke-width="0.7" stroke-linejoin="round"/>
<circle cx="241.60" cy="107" r="1.1" fill="#8a4a0c"/>
<circle cx="240.50" cy="110" r="1.1" fill="#8a4a0c"/>
<circle cx="242.10" cy="112" r="1.1" fill="#8a4a0c"/>
<circle cx="240.90" cy="113.5" r="1.1" fill="#8a4a0c"/>
<circle cx="241.80" cy="115" r="1.1" fill="#8a4a0c"/>
<path d="M253.58,110.40 L253.58,110.49 L253.58,110.57 L253.58,110.66 L253.58,110.74 L253.58,110.83 L253.58,110.91 L253.58,111.00 L253.58,111.08 L253.58,111.17 L253.58,111.25 L253.58,111.34 L253.59,111.42 L253.60,111.51 L253.62,111.60 L253.63,111.68 L253.65,111.77 L253.67,111.85 L253.69,111.94 L253.71,112.02 L253.73,112.11 L253.75,112.19 L253.78,112.28 L253.80,112.36 L253.83,112.45 L253.86,112.53 L253.89,112.62 L253.92,112.71 L253.96,112.79 L254.00,112.88 L254.03,112.96 L254.08,113.05 L254.12,113.13 L254.16,113.22 L254.21,113.30 L254.26,113.39 L254.31,113.47 L254.36,113.56 L254.42,113.64 L254.48,113.73 L254.54,113.82 L254.60,113.90 L254.66,113.99 L254.73,114.07 L254.79,114.16 L254.86,114.24 L254.93,114.33 L255.00,114.41 L255.06,114.50 L255.13,114.58 L255.19,114.67 L255.24,114.76 L255.23,114.84 L255.16,114.93 L255.07,115.01 L254.98,115.10 L254.89,115.18 L254.79,115.27 L254.70,115.35 L254.61,115.44 L254.53,115.52 L254.45,115.61 L254.37,115.69 L254.30,115.78 L254.23,115.87 L254.16,115.95 L254.10,116.04 L254.04,116.12 L253.99,116.21 L253.94,116.29 L253.90,116.38 L253.85,116.46 L253.81,116.55 L253.78,116.63 L253.74,116.72 L253.71,116.80 L253.68,116.89 L253.66,116.98 L253.63,117.06 L253.61,117.15 L253.59,117.23 L253.58,117.32 L253.58,117.40 L253.58,117.49 L253.58,117.57 L253.58,117.66 L253.58,117.74 L253.58,117.83 L253.58,117.91 L253.58,118.00 L253.22,118.00 L253.22,117.91 L253.22,117.83 L253.22,117.74 L253.22,117.66 L253.22,117.57 L253.22,117.49 L253.22,117.40 L253.22,117.32 L253.21,117.23 L253.19,117.15 L253.17,117.06 L253.14,116.98 L253.12,116.89 L253.09,116.80 L253.06,116.72 L253.02,116.63 L252.99,116.55 L252.95,116.46 L252.90,116.38 L252.86,116.29 L252.81,116.21 L252.76,116.12 L252.70,116.04 L252.64,115.95 L252.57,115.87 L252.50,115.78 L252.43,115.69 L252.35,115.61 L252.27,115.52 L252.19,115.44 L252.10,115.35 L252.01,115.27 L251.91,115.18 L251.82,115.10 L251.73,115.01 L251.64,114.93 L251.57,114.84 L251.56,114.76 L251.61,114.67 L251.67,114.58 L251.74,114.50 L251.80,114.41 L251.87,114.33 L251.94,114.24 L252.01,114.16 L252.07,114.07 L252.14,113.99 L252.20,113.90 L252.26,113.82 L252.32,113.73 L252.38,113.64 L252.44,113.56 L252.49,113.47 L252.54,113.39 L252.59,113.30 L252.64,113.22 L252.68,113.13 L252.72,113.05 L252.77,112.96 L252.80,112.88 L252.84,112.79 L252.88,112.71 L252.91,112.62 L252.94,112.53 L252.97,112.45 L253.00,112.36 L253.02,112.28 L253.05,112.19 L253.07,112.11 L253.09,112.02 L253.11,111.94 L253.13,111.85 L253.15,111.77 L253.17,111.68 L253.18,111.60 L253.20,111.51 L253.21,111.42 L253.22,111.34 L253.22,111.25 L253.22,111.17 L253.22,111.08 L253.22,111.00 L253.22,110.91 L253.22,110.83 L253.22,110.74 L253.22,110.66 L253.22,110.57 L253.22,110.49 L253.22,110.40 Z" fill="#6aae9a" stroke="#2a5248" stroke-width="0.7" stroke-linejoin="round"/>
<circle cx="253.90" cy="113.5" r="1.1" fill="#0a2c23"/>
<circle cx="252.90" cy="115" r="1.1" fill="#0a2c23"/>
<circle cx="253.70" cy="116" r="1.1" fill="#0a2c23"/>
<path d="M260.58,109.70 L260.58,109.78 L260.58,109.86 L260.58,109.94 L260.58,110.01 L260.58,110.09 L260.58,110.17 L260.58,110.25 L260.58,110.33 L260.58,110.41 L260.58,110.49 L260.58,110.57 L260.58,110.64 L260.58,110.72 L260.58,110.80 L260.58,110.88 L260.59,110.96 L260.60,111.04 L260.61,111.12 L260.63,111.19 L260.64,111.27 L260.65,111.35 L260.67,111.43 L260.69,111.51 L260.70,111.59 L260.72,111.67 L260.74,111.74 L260.76,111.82 L260.78,111.90 L260.80,111.98 L260.83,112.06 L260.85,112.14 L260.87,112.22 L260.90,112.30 L260.93,112.37 L260.96,112.45 L260.99,112.53 L261.02,112.61 L261.05,112.69 L261.09,112.77 L261.12,112.85 L261.16,112.92 L261.20,113.00 L261.24,113.08 L261.28,113.16 L261.32,113.24 L261.36,113.32 L261.41,113.40 L261.46,113.48 L261.50,113.55 L261.55,113.63 L261.60,113.71 L261.65,113.79 L261.70,113.87 L261.76,113.95 L261.81,114.03 L261.86,114.10 L261.91,114.18 L261.96,114.26 L262.01,114.34 L262.05,114.42 L262.08,114.50 L262.00,114.58 L261.90,114.66 L261.78,114.73 L261.67,114.81 L261.56,114.89 L261.46,114.97 L261.36,115.05 L261.26,115.13 L261.18,115.21 L261.10,115.28 L261.02,115.36 L260.96,115.44 L260.89,115.52 L260.84,115.60 L260.79,115.68 L260.74,115.76 L260.70,115.83 L260.67,115.91 L260.63,115.99 L260.61,116.07 L260.58,116.15 L260.58,116.23 L260.58,116.31 L260.58,116.39 L260.58,116.46 L260.58,116.54 L260.58,116.62 L260.58,116.70 L260.22,116.70 L260.22,116.62 L260.22,116.54 L260.22,116.46 L260.22,116.39 L260.22,116.31 L260.22,116.23 L260.22,116.15 L260.19,116.07 L260.17,115.99 L260.13,115.91 L260.10,115.83 L260.06,115.76 L260.01,115.68 L259.96,115.60 L259.91,115.52 L259.84,115.44 L259.78,115.36 L259.70,115.28 L259.62,115.21 L259.54,115.13 L259.44,115.05 L259.34,114.97 L259.24,114.89 L259.13,114.81 L259.02,114.73 L258.90,114.66 L258.80,114.58 L258.72,114.50 L258.75,114.42 L258.79,114.34 L258.84,114.26 L258.89,114.18 L258.94,114.10 L258.99,114.03 L259.04,113.95 L259.10,113.87 L259.15,113.79 L259.20,113.71 L259.25,113.63 L259.30,113.55 L259.34,113.48 L259.39,113.40 L259.44,113.32 L259.48,113.24 L259.52,113.16 L259.56,113.08 L259.60,113.00 L259.64,112.92 L259.68,112.85 L259.71,112.77 L259.75,112.69 L259.78,112.61 L259.81,112.53 L259.84,112.45 L259.87,112.37 L259.90,112.30 L259.93,112.22 L259.95,112.14 L259.97,112.06 L260.00,111.98 L260.02,111.90 L260.04,111.82 L260.06,111.74 L260.08,111.67 L260.10,111.59 L260.11,111.51 L260.13,111.43 L260.15,111.35 L260.16,111.27 L260.17,111.19 L260.19,111.12 L260.20,111.04 L260.21,110.96 L260.22,110.88 L260.22,110.80 L260.22,110.72 L260.22,110.64 L260.22,110.57 L260.22,110.49 L260.22,110.41 L260.22,110.33 L260.22,110.25 L260.22,110.17 L260.22,110.09 L260.22,110.01 L260.22,109.94 L260.22,109.86 L260.22,109.78 L260.22,109.70 Z" fill="#fac474" stroke="#e3943a" stroke-width="0.7" stroke-linejoin="round"/>
<circle cx="260.40" cy="111" r="1.1" fill="#8a4a0c"/>
<circle cx="260.90" cy="114.5" r="1.1" fill="#8a4a0c"/>
<circle cx="259.90" cy="115.5" r="1.1" fill="#8a4a0c"/>
<path d="M272.38,80.50 L272.38,81.04 L272.38,81.59 L272.38,82.13 L272.38,82.67 L272.38,83.21 L272.38,83.76 L272.38,84.30 L272.40,84.84 L272.42,85.38 L272.45,85.93 L272.47,86.47 L272.50,87.01 L272.53,87.56 L272.57,88.10 L272.61,88.64 L272.65,89.18 L272.69,89.73 L272.74,90.27 L272.79,90.81 L272.85,91.35 L272.91,91.90 L272.97,92.44 L273.04,92.98 L273.12,93.52 L273.20,94.07 L273.28,94.61 L273.37,95.15 L273.46,95.70 L273.56,96.24 L273.67,96.78 L273.77,97.32 L273.88,97.87 L273.99,98.41 L274.09,98.95 L274.19,99.49 L274.28,100.04 L274.27,100.58 L274.21,101.12 L274.14,101.67 L274.07,102.21 L273.99,102.75 L273.92,103.29 L273.84,103.84 L273.77,104.38 L273.70,104.92 L273.63,105.46 L273.56,106.01 L273.49,106.55 L273.42,107.09 L273.36,107.63 L273.30,108.18 L273.24,108.72 L273.18,109.26 L273.13,109.81 L273.07,110.35 L273.02,110.89 L272.98,111.43 L272.93,111.98 L272.89,112.52 L272.85,113.06 L272.81,113.60 L272.77,114.15 L272.73,114.69 L272.70,115.23 L272.67,115.78 L272.64,116.32 L272.61,116.86 L272.58,117.40 L272.56,117.95 L272.54,118.49 L272.51,119.03 L272.49,119.57 L272.47,120.12 L272.46,120.66 L272.44,121.20 L272.42,121.74 L272.41,122.29 L272.39,122.83 L272.38,123.37 L272.38,123.92 L272.38,124.46 L272.38,125.00 L272.38,125.54 L272.38,126.09 L272.38,126.63 L272.38,127.17 L272.38,127.71 L272.38,128.26 L272.38,128.80 L272.02,128.80 L272.02,128.26 L272.02,127.71 L272.02,127.17 L272.02,126.63 L272.02,126.09 L272.02,125.54 L272.02,125.00 L272.02,124.46 L272.02,123.92 L272.02,123.37 L272.01,122.83 L271.99,122.29 L271.98,121.74 L271.96,121.20 L271.94,120.66 L271.93,120.12 L271.91,119.57 L271.89,119.03 L271.86,118.49 L271.84,117.95 L271.82,117.40 L271.79,116.86 L271.76,116.32 L271.73,115.78 L271.70,115.23 L271.67,114.69 L271.63,114.15 L271.59,113.60 L271.55,113.06 L271.51,112.52 L271.47,111.98 L271.42,111.43 L271.38,110.89 L271.33,110.35 L271.27,109.81 L271.22,109.26 L271.16,108.72 L271.10,108.18 L271.04,107.63 L270.98,107.09 L270.91,106.55 L270.84,106.01 L270.77,105.46 L270.70,104.92 L270.63,104.38 L270.56,103.84 L270.48,103.29 L270.41,102.75 L270.33,102.21 L270.26,101.67 L270.19,101.12 L270.13,100.58 L270.12,100.04 L270.21,99.49 L270.31,98.95 L270.41,98.41 L270.52,97.87 L270.63,97.32 L270.73,96.78 L270.84,96.24 L270.94,95.70 L271.03,95.15 L271.12,94.61 L271.20,94.07 L271.28,93.52 L271.36,92.98 L271.43,92.44 L271.49,91.90 L271.55,91.35 L271.61,90.81 L271.66,90.27 L271.71,89.73 L271.75,89.18 L271.79,88.64 L271.83,88.10 L271.87,87.56 L271.90,87.01 L271.93,86.47 L271.95,85.93 L271.98,85.38 L272.00,84.84 L272.02,84.30 L272.02,83.76 L272.02,83.21 L272.02,82.67 L272.02,82.13 L272.02,81.59 L272.02,81.04 L272.02,80.50 Z" fill="#6aae9a" stroke="#2a5248" stroke-width="0.7" stroke-linejoin="round"/>
<circle cx="272.20" cy="90" r="1.1" fill="#0a2c23"/>
<circle cx="272.80" cy="95" r="1.1" fill="#0a2c23"/>
<circle cx="271.60" cy="98" r="1.1" fill="#0a2c23"/>
<circle cx="272.50" cy="101" r="1.1" fill="#0a2c23"/>
<circle cx="271.90" cy="104" r="1.1" fill="#0a2c23"/>
<circle cx="272.70" cy="109" r="1.1" fill="#0a2c23"/>
<circle cx="272.20" cy="113" r="1.1" fill="#0a2c23"/>
<path d="M279.18,79.90 L279.18,80.39 L279.18,80.88 L279.18,81.38 L279.18,81.87 L279.18,82.36 L279.18,82.85 L279.18,83.34 L279.19,83.84 L279.21,84.33 L279.23,84.82 L279.25,85.31 L279.27,85.81 L279.30,86.30 L279.32,86.79 L279.35,87.28 L279.38,87.77 L279.41,88.27 L279.44,88.76 L279.48,89.25 L279.52,89.74 L279.56,90.23 L279.61,90.73 L279.66,91.22 L279.71,91.71 L279.76,92.20 L279.82,92.70 L279.88,93.19 L279.95,93.68 L280.01,94.17 L280.09,94.66 L280.16,95.16 L280.24,95.65 L280.33,96.14 L280.41,96.63 L280.50,97.12 L280.60,97.62 L280.69,98.11 L280.79,98.60 L280.89,99.09 L280.99,99.59 L281.09,100.08 L281.18,100.57 L281.27,101.06 L281.32,101.55 L281.25,102.05 L281.17,102.54 L281.08,103.03 L280.98,103.52 L280.88,104.01 L280.79,104.51 L280.69,105.00 L280.60,105.49 L280.51,105.98 L280.42,106.48 L280.33,106.97 L280.25,107.46 L280.17,107.95 L280.10,108.44 L280.03,108.94 L279.96,109.43 L279.90,109.92 L279.84,110.41 L279.78,110.90 L279.72,111.40 L279.67,111.89 L279.63,112.38 L279.58,112.87 L279.54,113.37 L279.50,113.86 L279.46,114.35 L279.43,114.84 L279.40,115.33 L279.37,115.83 L279.34,116.32 L279.31,116.81 L279.29,117.30 L279.26,117.79 L279.24,118.29 L279.22,118.78 L279.21,119.27 L279.19,119.76 L279.18,120.26 L279.18,120.75 L279.18,121.24 L279.18,121.73 L279.18,122.22 L279.18,122.72 L279.18,123.21 L279.18,123.70 L278.82,123.70 L278.82,123.21 L278.82,122.72 L278.82,122.22 L278.82,121.73 L278.82,121.24 L278.82,120.75 L278.82,120.26 L278.81,119.76 L278.79,119.27 L278.78,118.78 L278.76,118.29 L278.74,117.79 L278.71,117.30 L278.69,116.81 L278.66,116.32 L278.63,115.83 L278.60,115.33 L278.57,114.84 L278.54,114.35 L278.50,113.86 L278.46,113.37 L278.42,112.87 L278.37,112.38 L278.33,111.89 L278.28,111.40 L278.22,110.90 L278.16,110.41 L278.10,109.92 L278.04,109.43 L277.97,108.94 L277.90,108.44 L277.83,107.95 L277.75,107.46 L277.67,106.97 L277.58,106.48 L277.49,105.98 L277.40,105.49 L277.31,105.00 L277.21,104.51 L277.12,104.01 L277.02,103.52 L276.92,103.03 L276.83,102.54 L276.75,102.05 L276.68,101.55 L276.73,101.06 L276.82,100.57 L276.91,100.08 L277.01,99.59 L277.11,99.09 L277.21,98.60 L277.31,98.11 L277.40,97.62 L277.50,97.12 L277.59,96.63 L277.67,96.14 L277.76,95.65 L277.84,95.16 L277.91,94.66 L277.99,94.17 L278.05,93.68 L278.12,93.19 L278.18,92.70 L278.24,92.20 L278.29,91.71 L278.34,91.22 L278.39,90.73 L278.44,90.23 L278.48,89.74 L278.52,89.25 L278.56,88.76 L278.59,88.27 L278.62,87.77 L278.65,87.28 L278.68,86.79 L278.70,86.30 L278.73,85.81 L278.75,85.31 L278.77,84.82 L278.79,84.33 L278.81,83.84 L278.82,83.34 L278.82,82.85 L278.82,82.36 L278.82,81.87 L278.82,81.38 L278.82,80.88 L278.82,80.39 L278.82,79.90 Z" fill="#fac474" stroke="#e3943a" stroke-width="0.7" stroke-linejoin="round"/>
<circle cx="279.00" cy="88" r="1.1" fill="#8a4a0c"/>
<circle cx="279.50" cy="94" r="1.1" fill="#8a4a0c"/>
<circle cx="278.50" cy="98" r="1.1" fill="#8a4a0c"/>
<circle cx="279.60" cy="101" r="1.1" fill="#8a4a0c"/>
<circle cx="278.60" cy="104" r="1.1" fill="#8a4a0c"/>
<circle cx="279.30" cy="108" r="1.1" fill="#8a4a0c"/>
<circle cx="279.00" cy="112" r="1.1" fill="#8a4a0c"/>
<path d="M291.48,58.30 L291.48,58.80 L291.48,59.30 L291.48,59.81 L291.48,60.31 L291.48,60.81 L291.48,61.31 L291.48,61.82 L291.50,62.32 L291.52,62.82 L291.54,63.32 L291.57,63.82 L291.59,64.33 L291.62,64.83 L291.65,65.33 L291.69,65.83 L291.73,66.34 L291.77,66.84 L291.82,67.34 L291.86,67.84 L291.92,68.34 L291.97,68.85 L292.03,69.35 L292.10,69.85 L292.17,70.35 L292.24,70.86 L292.32,71.36 L292.41,71.86 L292.49,72.36 L292.59,72.87 L292.68,73.37 L292.78,73.87 L292.89,74.37 L292.99,74.87 L293.10,75.38 L293.20,75.88 L293.30,76.38 L293.38,76.88 L293.36,77.39 L293.30,77.89 L293.23,78.39 L293.15,78.89 L293.08,79.39 L293.00,79.90 L292.93,80.40 L292.85,80.90 L292.78,81.40 L292.71,81.91 L292.63,82.41 L292.57,82.91 L292.50,83.41 L292.44,83.91 L292.37,84.42 L292.31,84.92 L292.26,85.42 L292.20,85.92 L292.15,86.43 L292.10,86.93 L292.05,87.43 L292.01,87.93 L291.96,88.43 L291.92,88.94 L291.89,89.44 L291.85,89.94 L291.81,90.44 L291.78,90.95 L291.75,91.45 L291.72,91.95 L291.69,92.45 L291.67,92.96 L291.64,93.46 L291.62,93.96 L291.60,94.46 L291.58,94.96 L291.56,95.47 L291.54,95.97 L291.53,96.47 L291.51,96.97 L291.49,97.48 L291.48,97.98 L291.48,98.48 L291.48,98.98 L291.48,99.48 L291.48,99.99 L291.48,100.49 L291.48,100.99 L291.48,101.49 L291.48,102.00 L291.48,102.50 L291.48,103.00 L291.12,103.00 L291.12,102.50 L291.12,102.00 L291.12,101.49 L291.12,100.99 L291.12,100.49 L291.12,99.99 L291.12,99.48 L291.12,98.98 L291.12,98.48 L291.12,97.98 L291.11,97.48 L291.09,96.97 L291.07,96.47 L291.06,95.97 L291.04,95.47 L291.02,94.96 L291.00,94.46 L290.98,93.96 L290.96,93.46 L290.93,92.96 L290.91,92.45 L290.88,91.95 L290.85,91.45 L290.82,90.95 L290.79,90.44 L290.75,89.94 L290.71,89.44 L290.68,88.94 L290.64,88.43 L290.59,87.93 L290.55,87.43 L290.50,86.93 L290.45,86.43 L290.40,85.92 L290.34,85.42 L290.29,84.92 L290.23,84.42 L290.16,83.91 L290.10,83.41 L290.03,82.91 L289.97,82.41 L289.89,81.91 L289.82,81.40 L289.75,80.90 L289.67,80.40 L289.60,79.90 L289.52,79.39 L289.45,78.89 L289.37,78.39 L289.30,77.89 L289.24,77.39 L289.22,76.88 L289.30,76.38 L289.40,75.88 L289.50,75.38 L289.61,74.87 L289.71,74.37 L289.82,73.87 L289.92,73.37 L290.01,72.87 L290.11,72.36 L290.19,71.86 L290.28,71.36 L290.36,70.86 L290.43,70.35 L290.50,69.85 L290.57,69.35 L290.63,68.85 L290.68,68.34 L290.74,67.84 L290.78,67.34 L290.83,66.84 L290.87,66.34 L290.91,65.83 L290.95,65.33 L290.98,64.83 L291.01,64.33 L291.03,63.82 L291.06,63.32 L291.08,62.82 L291.10,62.32 L291.12,61.82 L291.12,61.31 L291.12,60.81 L291.12,60.31 L291.12,59.81 L291.12,59.30 L291.12,58.80 L291.12,58.30 Z" fill="#6aae9a" stroke="#2a5248" stroke-width="0.7" stroke-linejoin="round"/>
<circle cx="291.30" cy="66" r="1.1" fill="#0a2c23"/>
<circle cx="291.90" cy="70" r="1.1" fill="#0a2c23"/>
<circle cx="290.70" cy="75" r="1.1" fill="#0a2c23"/>
<circle cx="292.10" cy="78" r="1.1" fill="#0a2c23"/>
<circle cx="291.00" cy="82" r="1.1" fill="#0a2c23"/>
<circle cx="291.70" cy="86" r="1.1" fill="#0a2c23"/>
<circle cx="291.30" cy="92" r="1.1" fill="#0a2c23"/>
<path d="M298.18,59.30 L298.18,59.81 L298.18,60.33 L298.18,60.84 L298.18,61.35 L298.18,61.87 L298.18,62.38 L298.20,62.89 L298.23,63.41 L298.25,63.92 L298.29,64.43 L298.32,64.95 L298.36,65.46 L298.41,65.98 L298.45,66.49 L298.51,67.00 L298.57,67.52 L298.63,68.03 L298.70,68.54 L298.78,69.06 L298.86,69.57 L298.95,70.08 L299.05,70.60 L299.15,71.11 L299.26,71.62 L299.38,72.14 L299.49,72.65 L299.62,73.16 L299.74,73.68 L299.86,74.19 L299.97,74.70 L300.00,75.22 L299.95,75.73 L299.90,76.24 L299.84,76.76 L299.77,77.27 L299.71,77.79 L299.64,78.30 L299.58,78.81 L299.52,79.33 L299.45,79.84 L299.39,80.35 L299.33,80.87 L299.27,81.38 L299.21,81.89 L299.15,82.41 L299.10,82.92 L299.05,83.43 L298.99,83.95 L298.95,84.46 L298.90,84.97 L298.85,85.49 L298.81,86.00 L298.77,86.51 L298.73,87.03 L298.69,87.54 L298.65,88.06 L298.61,88.57 L298.58,89.08 L298.55,89.60 L298.52,90.11 L298.49,90.62 L298.46,91.14 L298.43,91.65 L298.41,92.16 L298.39,92.68 L298.36,93.19 L298.34,93.70 L298.32,94.22 L298.30,94.73 L298.28,95.24 L298.27,95.76 L298.25,96.27 L298.24,96.78 L298.22,97.30 L298.21,97.81 L298.19,98.32 L298.18,98.84 L298.18,99.35 L298.18,99.87 L298.18,100.38 L298.18,100.89 L298.18,101.41 L298.18,101.92 L298.18,102.43 L298.18,102.95 L298.18,103.46 L298.18,103.97 L298.18,104.49 L298.18,105.00 L297.82,105.00 L297.82,104.49 L297.82,103.97 L297.82,103.46 L297.82,102.95 L297.82,102.43 L297.82,101.92 L297.82,101.41 L297.82,100.89 L297.82,100.38 L297.82,99.87 L297.82,99.35 L297.82,98.84 L297.81,98.32 L297.79,97.81 L297.78,97.30 L297.76,96.78 L297.75,96.27 L297.73,95.76 L297.72,95.24 L297.70,94.73 L297.68,94.22 L297.66,93.70 L297.64,93.19 L297.61,92.68 L297.59,92.16 L297.57,91.65 L297.54,91.14 L297.51,90.62 L297.48,90.11 L297.45,89.60 L297.42,89.08 L297.39,88.57 L297.35,88.06 L297.31,87.54 L297.27,87.03 L297.23,86.51 L297.19,86.00 L297.15,85.49 L297.10,84.97 L297.05,84.46 L297.01,83.95 L296.95,83.43 L296.90,82.92 L296.85,82.41 L296.79,81.89 L296.73,81.38 L296.67,80.87 L296.61,80.35 L296.55,79.84 L296.48,79.33 L296.42,78.81 L296.36,78.30 L296.29,77.79 L296.23,77.27 L296.16,76.76 L296.10,76.24 L296.05,75.73 L296.00,75.22 L296.03,74.70 L296.14,74.19 L296.26,73.68 L296.38,73.16 L296.51,72.65 L296.62,72.14 L296.74,71.62 L296.85,71.11 L296.95,70.60 L297.05,70.08 L297.14,69.57 L297.22,69.06 L297.30,68.54 L297.37,68.03 L297.43,67.52 L297.49,67.00 L297.55,66.49 L297.59,65.98 L297.64,65.46 L297.68,64.95 L297.71,64.43 L297.75,63.92 L297.77,63.41 L297.80,62.89 L297.82,62.38 L297.82,61.87 L297.82,61.35 L297.82,60.84 L297.82,60.33 L297.82,59.81 L297.82,59.30 Z" fill="#fac474" stroke="#e3943a" stroke-width="0.7" stroke-linejoin="round"/>
<circle cx="298.00" cy="67" r="1.1" fill="#8a4a0c"/>
<circle cx="297.50" cy="72" r="1.1" fill="#8a4a0c"/>
<circle cx="298.60" cy="75" r="1.1" fill="#8a4a0c"/>
<circle cx="297.70" cy="80" r="1.1" fill="#8a4a0c"/>
<circle cx="298.40" cy="84" r="1.1" fill="#8a4a0c"/>
<circle cx="298.00" cy="90" r="1.1" fill="#8a4a0c"/>
<circle cx="298.00" cy="96" r="1.1" fill="#8a4a0c"/>
<text transform="translate(318.4 37.1)" font-size="11.20" text-anchor="start" font-weight="bold" fill="#000" stroke="#000" stroke-width="0.5">C</text>
<line x1="349.5" y1="53.5" x2="349.5" y2="131" stroke="#111" stroke-width="1.0"/>
<line x1="347.0" y1="130.5" x2="349.5" y2="130.5" stroke="#111" stroke-width="1.0"/>
<text transform="translate(344.7 132.79999999999998)" font-size="6.30" text-anchor="end" font-weight="normal" fill="#222" stroke="#222" stroke-width="0.1">0</text>
<line x1="347.0" y1="115.5" x2="349.5" y2="115.5" stroke="#111" stroke-width="1.0"/>
<text transform="translate(344.7 117.97999999999999)" font-size="6.30" text-anchor="end" font-weight="normal" fill="#222" stroke="#222" stroke-width="0.1">1</text>
<line x1="347.0" y1="101.5" x2="349.5" y2="101.5" stroke="#111" stroke-width="1.0"/>
<text transform="translate(344.7 103.15999999999998)" font-size="6.30" text-anchor="end" font-weight="normal" fill="#222" stroke="#222" stroke-width="0.1">2</text>
<line x1="347.0" y1="86.5" x2="349.5" y2="86.5" stroke="#111" stroke-width="1.0"/>
<text transform="translate(344.7 88.33999999999997)" font-size="6.30" text-anchor="end" font-weight="normal" fill="#222" stroke="#222" stroke-width="0.1">3</text>
<line x1="347.0" y1="71.5" x2="349.5" y2="71.5" stroke="#111" stroke-width="1.0"/>
<text transform="translate(344.7 73.51999999999998)" font-size="6.30" text-anchor="end" font-weight="normal" fill="#222" stroke="#222" stroke-width="0.1">4</text>
<line x1="347.0" y1="56.5" x2="349.5" y2="56.5" stroke="#111" stroke-width="1.0"/>
<text transform="translate(344.7 58.699999999999996)" font-size="6.30" text-anchor="end" font-weight="normal" fill="#222" stroke="#222" stroke-width="0.1">5</text>
<line x1="349.5" y1="131.5" x2="386" y2="131.5" stroke="#111" stroke-width="1.0"/>
<line x1="359.5" y1="131.5" x2="359.5" y2="134.0" stroke="#111" stroke-width="1.0"/>
<line x1="375.5" y1="131.5" x2="375.5" y2="134.0" stroke="#111" stroke-width="1.0"/>
<text transform="translate(359.8 142.6) scale(0.88 1)" font-size="6.78" text-anchor="middle" font-weight="normal" fill="#111" stroke="#111" stroke-width="0.2">PB</text>
<text transform="translate(375.1 142.6) scale(0.88 1)" font-size="6.78" text-anchor="middle" font-weight="normal" fill="#111" stroke="#111" stroke-width="0.2">BM</text>
<text transform="translate(335.3 93.9) rotate(-90) scale(0.88 1)" font-size="6.89" text-anchor="middle" font-weight="normal" fill="#111" stroke="#111" stroke-width="0.3">Ki67 (% positive)</text>
<line x1="359.6" y1="64" x2="375.4" y2="79.5" stroke="#8a8080" stroke-width="0.7"/>
<line x1="359.6" y1="67.5" x2="375.4" y2="73.5" stroke="#9a9a9a" stroke-width="0.7"/>
<line x1="359.6" y1="92.2" x2="375.4" y2="110.2" stroke="#8a7f80" stroke-width="0.7"/>
<line x1="359.6" y1="96.8" x2="375.4" y2="115.8" stroke="#5a5560" stroke-width="0.7"/>
<line x1="359.6" y1="97.7" x2="375.4" y2="118.6" stroke="#6a6070" stroke-width="0.7"/>
<line x1="359.6" y1="99.6" x2="375.4" y2="121.3" stroke="#4a4a55" stroke-width="0.7"/>
<line x1="359.6" y1="104.7" x2="375.4" y2="123.2" stroke="#555" stroke-width="0.7"/>
<circle cx="359.6" cy="64" r="1.15" fill="#15523f"/>
<circle cx="375.4" cy="79.5" r="0.9" fill="#f7941d" fill-opacity="0.75"/>
<circle cx="359.6" cy="67.5" r="1.15" fill="#15523f"/>
<circle cx="375.4" cy="73.5" r="0.9" fill="#f7941d" fill-opacity="0.75"/>
<circle cx="359.6" cy="92.2" r="1.15" fill="#15523f"/>
<circle cx="375.4" cy="110.2" r="0.9" fill="#f7941d" fill-opacity="0.75"/>
<circle cx="359.6" cy="96.8" r="1.15" fill="#15523f"/>
<circle cx="375.4" cy="115.8" r="0.9" fill="#f7941d" fill-opacity="0.75"/>
<circle cx="359.6" cy="97.7" r="1.15" fill="#15523f"/>
<circle cx="375.4" cy="118.6" r="0.9" fill="#f7941d" fill-opacity="0.75"/>
<circle cx="359.6" cy="99.6" r="1.15" fill="#15523f"/>
<circle cx="375.4" cy="121.3" r="0.9" fill="#f7941d" fill-opacity="0.75"/>
<circle cx="359.6" cy="104.7" r="1.15" fill="#15523f"/>
<circle cx="375.4" cy="123.2" r="0.9" fill="#f7941d" fill-opacity="0.75"/>
<path d="M359.7,59.6 V55 H375.5 V69.4" fill="none" stroke="#111" stroke-width="0.9"/>
<text transform="translate(367.2 55.0) scale(0.88 1)" font-size="6.21" text-anchor="middle" font-weight="normal" fill="#111" stroke="#111" stroke-width="0.2" textLength="8.52" lengthAdjust="spacingAndGlyphs">***</text>
<text transform="translate(400.8 36.6)" font-size="11.20" text-anchor="start" font-weight="bold" fill="#000" stroke="#000" stroke-width="0.5">D</text>
<line x1="436.5" y1="51" x2="436.5" y2="130.5" stroke="#111" stroke-width="1.0"/>
<line x1="433.2" y1="54.5" x2="436.5" y2="54.5" stroke="#111" stroke-width="1.0"/>
<text transform="translate(430.9 56.300000000000004)" font-size="6.30" text-anchor="end" font-weight="normal" fill="#222" stroke="#222" stroke-width="0.1">20</text>
<line x1="433.2" y1="69.5" x2="436.5" y2="69.5" stroke="#111" stroke-width="1.0"/>
<text transform="translate(430.9 71.55)" font-size="6.30" text-anchor="end" font-weight="normal" fill="#222" stroke="#222" stroke-width="0.1">15</text>
<line x1="433.2" y1="84.5" x2="436.5" y2="84.5" stroke="#111" stroke-width="1.0"/>
<text transform="translate(430.9 86.8)" font-size="6.30" text-anchor="end" font-weight="normal" fill="#222" stroke="#222" stroke-width="0.1">10</text>
<line x1="433.2" y1="99.5" x2="436.5" y2="99.5" stroke="#111" stroke-width="1.0"/>
<text transform="translate(430.9 102.05)" font-size="6.30" text-anchor="end" font-weight="normal" fill="#222" stroke="#222" stroke-width="0.1">5</text>
<line x1="433.2" y1="115.5" x2="436.5" y2="115.5" stroke="#111" stroke-width="1.0"/>
<text transform="translate(430.9 117.3)" font-size="6.30" text-anchor="end" font-weight="normal" fill="#222" stroke="#222" stroke-width="0.1">0</text>
<line x1="433.2" y1="130.5" x2="436.5" y2="130.5" stroke="#111" stroke-width="1.0"/>
<text transform="translate(430.9 132.54999999999998)" font-size="6.30" text-anchor="end" font-weight="normal" fill="#222" stroke="#222" stroke-width="0.1">-5</text>
<line x1="436" y1="130.5" x2="515" y2="130.5" stroke="#111" stroke-width="1.0"/>
<line x1="444.5" y1="130.5" x2="444.5" y2="133.0" stroke="#111" stroke-width="1.0"/>
<line x1="464.5" y1="130.5" x2="464.5" y2="133.0" stroke="#111" stroke-width="1.0"/>
<line x1="484.5" y1="130.5" x2="484.5" y2="133.0" stroke="#111" stroke-width="1.0"/>
<line x1="504.5" y1="130.5" x2="504.5" y2="133.0" stroke="#111" stroke-width="1.0"/>
<text transform="translate(444.8 142.6) scale(0.88 1)" font-size="6.78" text-anchor="middle" font-weight="normal" fill="#111" stroke="#111" stroke-width="0.2">Naive</text>
<text transform="translate(464.6 142.6) scale(0.88 1)" font-size="6.78" text-anchor="middle" font-weight="normal" fill="#111" stroke="#111" stroke-width="0.2">CM</text>
<text transform="translate(483.9 142.6) scale(0.88 1)" font-size="6.78" text-anchor="middle" font-weight="normal" fill="#111" stroke="#111" stroke-width="0.2">EM</text>
<text transform="translate(503.8 142.6) scale(0.88 1)" font-size="6.78" text-anchor="middle" font-weight="normal" fill="#111" stroke="#111" stroke-width="0.2">EMRA</text>
<text transform="translate(416.6 93.9) rotate(-90) scale(0.88 1)" font-size="6.89" text-anchor="middle" font-weight="normal" fill="#111" stroke="#111" stroke-width="0.3">Ki67 (% positive)</text>
<line x1="437" y1="115.3" x2="515" y2="115.3" stroke="#111" stroke-width="0.9" stroke-dasharray="1.1 1.5"/>
<path d="M440.98,102.60 L440.98,102.77 L440.98,102.94 L440.98,103.11 L440.98,103.28 L440.98,103.45 L440.98,103.62 L440.98,103.79 L440.98,103.96 L441.00,104.13 L441.01,104.30 L441.03,104.47 L441.05,104.64 L441.07,104.81 L441.09,104.98 L441.11,105.14 L441.14,105.31 L441.16,105.48 L441.19,105.65 L441.22,105.82 L441.25,105.99 L441.29,106.16 L441.32,106.33 L441.36,106.50 L441.40,106.67 L441.44,106.84 L441.49,107.01 L441.54,107.18 L441.59,107.35 L441.64,107.52 L441.70,107.69 L441.76,107.86 L441.82,108.03 L441.89,108.20 L441.96,108.37 L442.03,108.54 L442.11,108.71 L442.19,108.88 L442.27,109.05 L442.35,109.22 L442.44,109.39 L442.52,109.56 L442.61,109.73 L442.70,109.90 L442.80,110.07 L442.89,110.23 L442.97,110.40 L443.05,110.57 L443.12,110.74 L443.09,110.91 L443.00,111.08 L442.90,111.25 L442.79,111.42 L442.69,111.59 L442.58,111.76 L442.47,111.93 L442.37,112.10 L442.27,112.27 L442.17,112.44 L442.08,112.61 L441.99,112.78 L441.91,112.95 L441.83,113.12 L441.75,113.29 L441.68,113.46 L441.62,113.63 L441.56,113.80 L441.50,113.97 L441.44,114.14 L441.39,114.31 L441.34,114.48 L441.30,114.65 L441.26,114.82 L441.22,114.99 L441.19,115.16 L441.15,115.32 L441.12,115.49 L441.10,115.66 L441.07,115.83 L441.05,116.00 L441.02,116.17 L441.00,116.34 L440.99,116.51 L440.98,116.68 L440.98,116.85 L440.98,117.02 L440.98,117.19 L440.98,117.36 L440.98,117.53 L440.98,117.70 L440.62,117.70 L440.62,117.53 L440.62,117.36 L440.62,117.19 L440.62,117.02 L440.62,116.85 L440.62,116.68 L440.61,116.51 L440.60,116.34 L440.58,116.17 L440.55,116.00 L440.53,115.83 L440.50,115.66 L440.48,115.49 L440.45,115.32 L440.41,115.16 L440.38,114.99 L440.34,114.82 L440.30,114.65 L440.26,114.48 L440.21,114.31 L440.16,114.14 L440.10,113.97 L440.04,113.80 L439.98,113.63 L439.92,113.46 L439.85,113.29 L439.77,113.12 L439.69,112.95 L439.61,112.78 L439.52,112.61 L439.43,112.44 L439.33,112.27 L439.23,112.10 L439.13,111.93 L439.02,111.76 L438.91,111.59 L438.81,111.42 L438.70,111.25 L438.60,111.08 L438.51,110.91 L438.48,110.74 L438.55,110.57 L438.63,110.40 L438.71,110.23 L438.80,110.07 L438.90,109.90 L438.99,109.73 L439.08,109.56 L439.16,109.39 L439.25,109.22 L439.33,109.05 L439.41,108.88 L439.49,108.71 L439.57,108.54 L439.64,108.37 L439.71,108.20 L439.78,108.03 L439.84,107.86 L439.90,107.69 L439.96,107.52 L440.01,107.35 L440.06,107.18 L440.11,107.01 L440.16,106.84 L440.20,106.67 L440.24,106.50 L440.28,106.33 L440.31,106.16 L440.35,105.99 L440.38,105.82 L440.41,105.65 L440.44,105.48 L440.46,105.31 L440.49,105.14 L440.51,104.98 L440.53,104.81 L440.55,104.64 L440.57,104.47 L440.59,104.30 L440.60,104.13 L440.62,103.96 L440.62,103.79 L440.62,103.62 L440.62,103.45 L440.62,103.28 L440.62,103.11 L440.62,102.94 L440.62,102.77 L440.62,102.60 Z" fill="#6aae9a" stroke="#2a5248" stroke-width="0.7" stroke-linejoin="round"/>
<circle cx="440.80" cy="106" r="1.1" fill="#0a2c23"/>
<circle cx="441.40" cy="109" r="1.1" fill="#0a2c23"/>
<circle cx="440.20" cy="110.5" r="1.1" fill="#0a2c23"/>
<circle cx="441.20" cy="112" r="1.1" fill="#0a2c23"/>
<circle cx="440.50" cy="113" r="1.1" fill="#0a2c23"/>
<path d="M448.68,107.30 L448.68,107.40 L448.68,107.51 L448.68,107.61 L448.68,107.72 L448.68,107.82 L448.68,107.93 L448.68,108.03 L448.68,108.14 L448.70,108.24 L448.72,108.34 L448.74,108.45 L448.77,108.55 L448.79,108.66 L448.82,108.76 L448.85,108.87 L448.88,108.97 L448.92,109.08 L448.96,109.18 L449.00,109.29 L449.04,109.39 L449.09,109.49 L449.14,109.60 L449.19,109.70 L449.25,109.81 L449.31,109.91 L449.37,110.02 L449.44,110.12 L449.52,110.23 L449.59,110.33 L449.67,110.43 L449.76,110.54 L449.85,110.64 L449.94,110.75 L450.03,110.85 L450.13,110.96 L450.23,111.06 L450.32,111.17 L450.42,111.27 L450.51,111.38 L450.58,111.48 L450.55,111.58 L450.48,111.69 L450.41,111.79 L450.33,111.90 L450.25,112.00 L450.17,112.11 L450.09,112.21 L450.01,112.32 L449.93,112.42 L449.86,112.52 L449.78,112.63 L449.71,112.73 L449.65,112.84 L449.58,112.94 L449.52,113.05 L449.46,113.15 L449.40,113.26 L449.34,113.36 L449.29,113.47 L449.24,113.57 L449.19,113.67 L449.15,113.78 L449.11,113.88 L449.07,113.99 L449.03,114.09 L448.99,114.20 L448.96,114.30 L448.93,114.41 L448.90,114.51 L448.87,114.61 L448.85,114.72 L448.82,114.82 L448.80,114.93 L448.78,115.03 L448.76,115.14 L448.74,115.24 L448.72,115.35 L448.70,115.45 L448.69,115.56 L448.68,115.66 L448.68,115.76 L448.68,115.87 L448.68,115.97 L448.68,116.08 L448.68,116.18 L448.68,116.29 L448.68,116.39 L448.68,116.50 L448.68,116.60 L448.32,116.60 L448.32,116.50 L448.32,116.39 L448.32,116.29 L448.32,116.18 L448.32,116.08 L448.32,115.97 L448.32,115.87 L448.32,115.76 L448.32,115.66 L448.31,115.56 L448.30,115.45 L448.28,115.35 L448.26,115.24 L448.24,115.14 L448.22,115.03 L448.20,114.93 L448.18,114.82 L448.15,114.72 L448.13,114.61 L448.10,114.51 L448.07,114.41 L448.04,114.30 L448.01,114.20 L447.97,114.09 L447.93,113.99 L447.89,113.88 L447.85,113.78 L447.81,113.67 L447.76,113.57 L447.71,113.47 L447.66,113.36 L447.60,113.26 L447.54,113.15 L447.48,113.05 L447.42,112.94 L447.35,112.84 L447.29,112.73 L447.22,112.63 L447.14,112.52 L447.07,112.42 L446.99,112.32 L446.91,112.21 L446.83,112.11 L446.75,112.00 L446.67,111.90 L446.59,111.79 L446.52,111.69 L446.45,111.58 L446.42,111.48 L446.49,111.38 L446.58,111.27 L446.68,111.17 L446.77,111.06 L446.87,110.96 L446.97,110.85 L447.06,110.75 L447.15,110.64 L447.24,110.54 L447.33,110.43 L447.41,110.33 L447.48,110.23 L447.56,110.12 L447.63,110.02 L447.69,109.91 L447.75,109.81 L447.81,109.70 L447.86,109.60 L447.91,109.49 L447.96,109.39 L448.00,109.29 L448.04,109.18 L448.08,109.08 L448.12,108.97 L448.15,108.87 L448.18,108.76 L448.21,108.66 L448.23,108.55 L448.26,108.45 L448.28,108.34 L448.30,108.24 L448.32,108.14 L448.32,108.03 L448.32,107.93 L448.32,107.82 L448.32,107.72 L448.32,107.61 L448.32,107.51 L448.32,107.40 L448.32,107.30 Z" fill="#fac474" stroke="#e3943a" stroke-width="0.7" stroke-linejoin="round"/>
<circle cx="448.90" cy="109" r="1.1" fill="#8a4a0c"/>
<circle cx="448.00" cy="111" r="1.1" fill="#8a4a0c"/>
<circle cx="449.10" cy="112.5" r="1.1" fill="#8a4a0c"/>
<circle cx="448.20" cy="114" r="1.1" fill="#8a4a0c"/>
<path d="M461.18,57.40 L461.18,58.19 L461.18,58.98 L461.18,59.77 L461.18,60.56 L461.18,61.35 L461.18,62.14 L461.19,62.93 L461.21,63.72 L461.22,64.51 L461.24,65.30 L461.26,66.09 L461.28,66.88 L461.31,67.67 L461.33,68.46 L461.36,69.25 L461.38,70.04 L461.41,70.83 L461.44,71.62 L461.48,72.41 L461.51,73.20 L461.55,73.99 L461.59,74.78 L461.64,75.57 L461.68,76.36 L461.73,77.15 L461.78,77.94 L461.84,78.73 L461.90,79.52 L461.96,80.31 L462.02,81.10 L462.09,81.89 L462.16,82.68 L462.24,83.47 L462.32,84.26 L462.40,85.05 L462.48,85.84 L462.57,86.63 L462.66,87.42 L462.76,88.21 L462.86,89.00 L462.96,89.79 L463.06,90.58 L463.16,91.37 L463.27,92.16 L463.37,92.94 L463.47,93.73 L463.56,94.52 L463.64,95.31 L463.63,96.10 L463.53,96.89 L463.42,97.68 L463.29,98.47 L463.17,99.26 L463.05,100.05 L462.93,100.84 L462.81,101.63 L462.69,102.42 L462.58,103.21 L462.47,104.00 L462.37,104.79 L462.28,105.58 L462.19,106.37 L462.10,107.16 L462.02,107.95 L461.94,108.74 L461.87,109.53 L461.80,110.32 L461.74,111.11 L461.68,111.90 L461.63,112.69 L461.57,113.48 L461.53,114.27 L461.48,115.06 L461.44,115.85 L461.41,116.64 L461.37,117.43 L461.34,118.22 L461.31,119.01 L461.28,119.80 L461.26,120.59 L461.23,121.38 L461.21,122.17 L461.19,122.96 L461.18,123.75 L461.18,124.54 L461.18,125.33 L461.18,126.12 L461.18,126.91 L461.18,127.70 L460.82,127.70 L460.82,126.91 L460.82,126.12 L460.82,125.33 L460.82,124.54 L460.82,123.75 L460.81,122.96 L460.79,122.17 L460.77,121.38 L460.74,120.59 L460.72,119.80 L460.69,119.01 L460.66,118.22 L460.63,117.43 L460.59,116.64 L460.56,115.85 L460.52,115.06 L460.47,114.27 L460.43,113.48 L460.37,112.69 L460.32,111.90 L460.26,111.11 L460.20,110.32 L460.13,109.53 L460.06,108.74 L459.98,107.95 L459.90,107.16 L459.81,106.37 L459.72,105.58 L459.63,104.79 L459.53,104.00 L459.42,103.21 L459.31,102.42 L459.19,101.63 L459.07,100.84 L458.95,100.05 L458.83,99.26 L458.71,98.47 L458.58,97.68 L458.47,96.89 L458.37,96.10 L458.36,95.31 L458.44,94.52 L458.53,93.73 L458.63,92.94 L458.73,92.16 L458.84,91.37 L458.94,90.58 L459.04,89.79 L459.14,89.00 L459.24,88.21 L459.34,87.42 L459.43,86.63 L459.52,85.84 L459.60,85.05 L459.68,84.26 L459.76,83.47 L459.84,82.68 L459.91,81.89 L459.98,81.10 L460.04,80.31 L460.10,79.52 L460.16,78.73 L460.22,77.94 L460.27,77.15 L460.32,76.36 L460.36,75.57 L460.41,74.78 L460.45,73.99 L460.49,73.20 L460.52,72.41 L460.56,71.62 L460.59,70.83 L460.62,70.04 L460.64,69.25 L460.67,68.46 L460.69,67.67 L460.72,66.88 L460.74,66.09 L460.76,65.30 L460.78,64.51 L460.79,63.72 L460.81,62.93 L460.82,62.14 L460.82,61.35 L460.82,60.56 L460.82,59.77 L460.82,58.98 L460.82,58.19 L460.82,57.40 Z" fill="#6aae9a" stroke="#2a5248" stroke-width="0.7" stroke-linejoin="round"/>
<circle cx="461.00" cy="78" r="1.1" fill="#0a2c23"/>
<circle cx="461.50" cy="88" r="1.1" fill="#0a2c23"/>
<circle cx="460.50" cy="92" r="1.1" fill="#0a2c23"/>
<circle cx="461.30" cy="96" r="1.1" fill="#0a2c23"/>
<circle cx="460.70" cy="99" r="1.1" fill="#0a2c23"/>
<circle cx="461.50" cy="104" r="1.1" fill="#0a2c23"/>
<circle cx="461.00" cy="109" r="1.1" fill="#0a2c23"/>
<path d="M468.78,67.80 L468.78,68.48 L468.78,69.16 L468.78,69.84 L468.78,70.51 L468.78,71.19 L468.79,71.87 L468.81,72.55 L468.83,73.23 L468.86,73.91 L468.88,74.59 L468.91,75.27 L468.94,75.94 L468.98,76.62 L469.02,77.30 L469.06,77.98 L469.10,78.66 L469.15,79.34 L469.20,80.02 L469.26,80.69 L469.32,81.37 L469.38,82.05 L469.45,82.73 L469.53,83.41 L469.61,84.09 L469.69,84.77 L469.79,85.44 L469.88,86.12 L469.98,86.80 L470.09,87.48 L470.20,88.16 L470.32,88.84 L470.44,89.52 L470.56,90.20 L470.69,90.87 L470.81,91.55 L470.93,92.23 L471.04,92.91 L471.08,93.59 L471.01,94.27 L470.93,94.95 L470.85,95.62 L470.76,96.30 L470.67,96.98 L470.58,97.66 L470.49,98.34 L470.40,99.02 L470.31,99.70 L470.22,100.38 L470.14,101.05 L470.06,101.73 L469.98,102.41 L469.90,103.09 L469.83,103.77 L469.76,104.45 L469.70,105.13 L469.63,105.80 L469.57,106.48 L469.51,107.16 L469.46,107.84 L469.41,108.52 L469.36,109.20 L469.31,109.88 L469.26,110.56 L469.22,111.23 L469.18,111.91 L469.14,112.59 L469.11,113.27 L469.08,113.95 L469.04,114.63 L469.01,115.31 L468.99,115.98 L468.96,116.66 L468.94,117.34 L468.91,118.02 L468.89,118.70 L468.87,119.38 L468.85,120.06 L468.83,120.73 L468.82,121.41 L468.80,122.09 L468.79,122.77 L468.78,123.45 L468.78,124.13 L468.78,124.81 L468.78,125.49 L468.78,126.16 L468.78,126.84 L468.78,127.52 L468.78,128.20 L468.42,128.20 L468.42,127.52 L468.42,126.84 L468.42,126.16 L468.42,125.49 L468.42,124.81 L468.42,124.13 L468.42,123.45 L468.41,122.77 L468.40,122.09 L468.38,121.41 L468.37,120.73 L468.35,120.06 L468.33,119.38 L468.31,118.70 L468.29,118.02 L468.26,117.34 L468.24,116.66 L468.21,115.98 L468.19,115.31 L468.16,114.63 L468.12,113.95 L468.09,113.27 L468.06,112.59 L468.02,111.91 L467.98,111.23 L467.94,110.56 L467.89,109.88 L467.84,109.20 L467.79,108.52 L467.74,107.84 L467.69,107.16 L467.63,106.48 L467.57,105.80 L467.50,105.13 L467.44,104.45 L467.37,103.77 L467.30,103.09 L467.22,102.41 L467.14,101.73 L467.06,101.05 L466.98,100.38 L466.89,99.70 L466.80,99.02 L466.71,98.34 L466.62,97.66 L466.53,96.98 L466.44,96.30 L466.35,95.62 L466.27,94.95 L466.19,94.27 L466.12,93.59 L466.16,92.91 L466.27,92.23 L466.39,91.55 L466.51,90.87 L466.64,90.20 L466.76,89.52 L466.88,88.84 L467.00,88.16 L467.11,87.48 L467.22,86.80 L467.32,86.12 L467.41,85.44 L467.51,84.77 L467.59,84.09 L467.67,83.41 L467.75,82.73 L467.82,82.05 L467.88,81.37 L467.94,80.69 L468.00,80.02 L468.05,79.34 L468.10,78.66 L468.14,77.98 L468.18,77.30 L468.22,76.62 L468.26,75.94 L468.29,75.27 L468.32,74.59 L468.34,73.91 L468.37,73.23 L468.39,72.55 L468.41,71.87 L468.42,71.19 L468.42,70.51 L468.42,69.84 L468.42,69.16 L468.42,68.48 L468.42,67.80 Z" fill="#fac474" stroke="#e3943a" stroke-width="0.7" stroke-linejoin="round"/>
<circle cx="468.60" cy="83" r="1.1" fill="#8a4a0c"/>
<circle cx="468.60" cy="89" r="1.1" fill="#8a4a0c"/>
<circle cx="468.60" cy="96" r="1.1" fill="#8a4a0c"/>
<circle cx="468.60" cy="102" r="1.1" fill="#8a4a0c"/>
<circle cx="468.60" cy="107" r="1.1" fill="#8a4a0c"/>
<circle cx="468.60" cy="110" r="1.1" fill="#8a4a0c"/>
<path d="M481.58,72.40 L481.58,72.97 L481.58,73.54 L481.58,74.11 L481.58,74.67 L481.60,75.24 L481.62,75.81 L481.65,76.38 L481.67,76.95 L481.70,77.52 L481.73,78.09 L481.77,78.65 L481.81,79.22 L481.85,79.79 L481.89,80.36 L481.94,80.93 L482.00,81.50 L482.06,82.07 L482.12,82.63 L482.19,83.20 L482.26,83.77 L482.34,84.34 L482.43,84.91 L482.52,85.48 L482.62,86.04 L482.72,86.61 L482.83,87.18 L482.95,87.75 L483.07,88.32 L483.20,88.89 L483.34,89.46 L483.48,90.02 L483.63,90.59 L483.77,91.16 L483.92,91.73 L484.06,92.30 L484.19,92.87 L484.28,93.44 L484.21,94.00 L484.12,94.57 L484.03,95.14 L483.93,95.71 L483.82,96.28 L483.72,96.85 L483.61,97.42 L483.51,97.98 L483.41,98.55 L483.31,99.12 L483.22,99.69 L483.12,100.26 L483.03,100.83 L482.95,101.40 L482.86,101.96 L482.78,102.53 L482.70,103.10 L482.63,103.67 L482.56,104.24 L482.49,104.81 L482.43,105.38 L482.37,105.94 L482.31,106.51 L482.25,107.08 L482.20,107.65 L482.15,108.22 L482.10,108.79 L482.06,109.36 L482.02,109.92 L481.98,110.49 L481.94,111.06 L481.90,111.63 L481.87,112.20 L481.84,112.77 L481.81,113.33 L481.78,113.90 L481.76,114.47 L481.73,115.04 L481.71,115.61 L481.69,116.18 L481.67,116.75 L481.65,117.31 L481.63,117.88 L481.61,118.45 L481.60,119.02 L481.59,119.59 L481.58,120.16 L481.58,120.73 L481.58,121.29 L481.58,121.86 L481.58,122.43 L481.58,123.00 L481.22,123.00 L481.22,122.43 L481.22,121.86 L481.22,121.29 L481.22,120.73 L481.22,120.16 L481.21,119.59 L481.20,119.02 L481.19,118.45 L481.17,117.88 L481.15,117.31 L481.13,116.75 L481.11,116.18 L481.09,115.61 L481.07,115.04 L481.04,114.47 L481.02,113.90 L480.99,113.33 L480.96,112.77 L480.93,112.20 L480.90,111.63 L480.86,111.06 L480.82,110.49 L480.78,109.92 L480.74,109.36 L480.70,108.79 L480.65,108.22 L480.60,107.65 L480.55,107.08 L480.49,106.51 L480.43,105.94 L480.37,105.38 L480.31,104.81 L480.24,104.24 L480.17,103.67 L480.10,103.10 L480.02,102.53 L479.94,101.96 L479.85,101.40 L479.77,100.83 L479.68,100.26 L479.58,99.69 L479.49,99.12 L479.39,98.55 L479.29,97.98 L479.19,97.42 L479.08,96.85 L478.98,96.28 L478.87,95.71 L478.77,95.14 L478.68,94.57 L478.59,94.00 L478.52,93.44 L478.61,92.87 L478.74,92.30 L478.88,91.73 L479.03,91.16 L479.17,90.59 L479.32,90.02 L479.46,89.46 L479.60,88.89 L479.73,88.32 L479.85,87.75 L479.97,87.18 L480.08,86.61 L480.18,86.04 L480.28,85.48 L480.37,84.91 L480.46,84.34 L480.54,83.77 L480.61,83.20 L480.68,82.63 L480.74,82.07 L480.80,81.50 L480.86,80.93 L480.91,80.36 L480.95,79.79 L480.99,79.22 L481.03,78.65 L481.07,78.09 L481.10,77.52 L481.13,76.95 L481.15,76.38 L481.18,75.81 L481.20,75.24 L481.22,74.67 L481.22,74.11 L481.22,73.54 L481.22,72.97 L481.22,72.40 Z" fill="#6aae9a" stroke="#2a5248" stroke-width="0.7" stroke-linejoin="round"/>
<circle cx="481.90" cy="83" r="1.1" fill="#0a2c23"/>
<circle cx="480.90" cy="86" r="1.1" fill="#0a2c23"/>
<circle cx="482.00" cy="91" r="1.1" fill="#0a2c23"/>
<circle cx="480.80" cy="95" r="1.1" fill="#0a2c23"/>
<circle cx="481.80" cy="99" r="1.1" fill="#0a2c23"/>
<circle cx="481.00" cy="102" r="1.1" fill="#0a2c23"/>
<path d="M488.98,94.50 L488.98,94.72 L488.98,94.93 L488.98,95.15 L488.98,95.37 L488.98,95.58 L488.98,95.80 L488.98,96.02 L488.98,96.23 L488.98,96.45 L488.98,96.67 L488.98,96.89 L488.99,97.10 L489.00,97.32 L489.01,97.54 L489.03,97.75 L489.04,97.97 L489.06,98.19 L489.07,98.40 L489.09,98.62 L489.11,98.84 L489.13,99.05 L489.15,99.27 L489.17,99.49 L489.19,99.70 L489.22,99.92 L489.24,100.14 L489.27,100.36 L489.30,100.57 L489.33,100.79 L489.36,101.01 L489.39,101.22 L489.42,101.44 L489.46,101.66 L489.50,101.87 L489.54,102.09 L489.58,102.31 L489.62,102.52 L489.66,102.74 L489.71,102.96 L489.76,103.17 L489.81,103.39 L489.86,103.61 L489.91,103.82 L489.97,104.04 L490.02,104.26 L490.08,104.48 L490.14,104.69 L490.20,104.91 L490.27,105.13 L490.33,105.34 L490.40,105.56 L490.46,105.78 L490.53,105.99 L490.60,106.21 L490.66,106.43 L490.72,106.64 L490.78,106.86 L490.84,107.08 L490.88,107.29 L490.79,107.51 L490.67,107.73 L490.54,107.94 L490.41,108.16 L490.28,108.38 L490.16,108.60 L490.04,108.81 L489.93,109.03 L489.82,109.25 L489.73,109.46 L489.64,109.68 L489.55,109.90 L489.48,110.11 L489.41,110.33 L489.34,110.55 L489.28,110.76 L489.23,110.98 L489.18,111.20 L489.14,111.41 L489.10,111.63 L489.07,111.85 L489.04,112.07 L489.01,112.28 L488.98,112.50 L488.98,112.72 L488.98,112.93 L488.98,113.15 L488.98,113.37 L488.98,113.58 L488.98,113.80 L488.62,113.80 L488.62,113.58 L488.62,113.37 L488.62,113.15 L488.62,112.93 L488.62,112.72 L488.62,112.50 L488.59,112.28 L488.56,112.07 L488.53,111.85 L488.50,111.63 L488.46,111.41 L488.42,111.20 L488.37,110.98 L488.32,110.76 L488.26,110.55 L488.19,110.33 L488.12,110.11 L488.05,109.90 L487.96,109.68 L487.87,109.46 L487.78,109.25 L487.67,109.03 L487.56,108.81 L487.44,108.60 L487.32,108.38 L487.19,108.16 L487.06,107.94 L486.93,107.73 L486.81,107.51 L486.72,107.29 L486.76,107.08 L486.82,106.86 L486.88,106.64 L486.94,106.43 L487.00,106.21 L487.07,105.99 L487.14,105.78 L487.20,105.56 L487.27,105.34 L487.33,105.13 L487.40,104.91 L487.46,104.69 L487.52,104.48 L487.58,104.26 L487.63,104.04 L487.69,103.82 L487.74,103.61 L487.79,103.39 L487.84,103.17 L487.89,102.96 L487.94,102.74 L487.98,102.52 L488.02,102.31 L488.06,102.09 L488.10,101.87 L488.14,101.66 L488.18,101.44 L488.21,101.22 L488.24,101.01 L488.27,100.79 L488.30,100.57 L488.33,100.36 L488.36,100.14 L488.38,99.92 L488.41,99.70 L488.43,99.49 L488.45,99.27 L488.47,99.05 L488.49,98.84 L488.51,98.62 L488.53,98.40 L488.54,98.19 L488.56,97.97 L488.57,97.75 L488.59,97.54 L488.60,97.32 L488.61,97.10 L488.62,96.89 L488.62,96.67 L488.62,96.45 L488.62,96.23 L488.62,96.02 L488.62,95.80 L488.62,95.58 L488.62,95.37 L488.62,95.15 L488.62,94.93 L488.62,94.72 L488.62,94.50 Z" fill="#fac474" stroke="#e3943a" stroke-width="0.7" stroke-linejoin="round"/>
<circle cx="489.30" cy="100" r="1.1" fill="#8a4a0c"/>
<circle cx="488.20" cy="103" r="1.1" fill="#8a4a0c"/>
<circle cx="489.10" cy="106" r="1.1" fill="#8a4a0c"/>
<circle cx="488.50" cy="108" r="1.1" fill="#8a4a0c"/>
<circle cx="489.40" cy="110" r="1.1" fill="#8a4a0c"/>
<path d="M500.58,102.60 L500.58,102.76 L500.58,102.91 L500.58,103.07 L500.58,103.23 L500.58,103.39 L500.58,103.54 L500.58,103.70 L500.58,103.86 L500.58,104.02 L500.58,104.17 L500.58,104.33 L500.58,104.49 L500.59,104.64 L500.60,104.80 L500.62,104.96 L500.63,105.12 L500.65,105.27 L500.66,105.43 L500.68,105.59 L500.69,105.75 L500.71,105.90 L500.73,106.06 L500.75,106.22 L500.77,106.38 L500.80,106.53 L500.82,106.69 L500.85,106.85 L500.87,107.00 L500.90,107.16 L500.93,107.32 L500.96,107.48 L500.99,107.63 L501.02,107.79 L501.06,107.95 L501.10,108.11 L501.13,108.26 L501.17,108.42 L501.22,108.58 L501.26,108.73 L501.30,108.89 L501.35,109.05 L501.40,109.21 L501.45,109.36 L501.50,109.52 L501.55,109.68 L501.61,109.84 L501.67,109.99 L501.73,110.15 L501.79,110.31 L501.85,110.47 L501.91,110.62 L501.97,110.78 L502.03,110.94 L502.10,111.09 L502.16,111.25 L502.22,111.41 L502.28,111.57 L502.34,111.72 L502.39,111.88 L502.40,112.04 L502.30,112.20 L502.17,112.35 L502.04,112.51 L501.91,112.67 L501.79,112.82 L501.67,112.98 L501.55,113.14 L501.44,113.30 L501.34,113.45 L501.25,113.61 L501.17,113.77 L501.09,113.93 L501.01,114.08 L500.95,114.24 L500.89,114.40 L500.83,114.56 L500.79,114.71 L500.74,114.87 L500.70,115.03 L500.67,115.18 L500.64,115.34 L500.61,115.50 L500.58,115.66 L500.58,115.81 L500.58,115.97 L500.58,116.13 L500.58,116.29 L500.58,116.44 L500.58,116.60 L500.22,116.60 L500.22,116.44 L500.22,116.29 L500.22,116.13 L500.22,115.97 L500.22,115.81 L500.22,115.66 L500.19,115.50 L500.16,115.34 L500.13,115.18 L500.10,115.03 L500.06,114.87 L500.01,114.71 L499.97,114.56 L499.91,114.40 L499.85,114.24 L499.79,114.08 L499.71,113.93 L499.63,113.77 L499.55,113.61 L499.46,113.45 L499.36,113.30 L499.25,113.14 L499.13,112.98 L499.01,112.82 L498.89,112.67 L498.76,112.51 L498.63,112.35 L498.50,112.20 L498.40,112.04 L498.41,111.88 L498.46,111.72 L498.52,111.57 L498.58,111.41 L498.64,111.25 L498.70,111.09 L498.77,110.94 L498.83,110.78 L498.89,110.62 L498.95,110.47 L499.01,110.31 L499.07,110.15 L499.13,109.99 L499.19,109.84 L499.25,109.68 L499.30,109.52 L499.35,109.36 L499.40,109.21 L499.45,109.05 L499.50,108.89 L499.54,108.73 L499.58,108.58 L499.63,108.42 L499.67,108.26 L499.70,108.11 L499.74,107.95 L499.78,107.79 L499.81,107.63 L499.84,107.48 L499.87,107.32 L499.90,107.16 L499.93,107.00 L499.95,106.85 L499.98,106.69 L500.00,106.53 L500.03,106.38 L500.05,106.22 L500.07,106.06 L500.09,105.90 L500.11,105.75 L500.12,105.59 L500.14,105.43 L500.15,105.27 L500.17,105.12 L500.18,104.96 L500.20,104.80 L500.21,104.64 L500.22,104.49 L500.22,104.33 L500.22,104.17 L500.22,104.02 L500.22,103.86 L500.22,103.70 L500.22,103.54 L500.22,103.39 L500.22,103.23 L500.22,103.07 L500.22,102.91 L500.22,102.76 L500.22,102.60 Z" fill="#6aae9a" stroke="#2a5248" stroke-width="0.7" stroke-linejoin="round"/>
<circle cx="500.40" cy="105" r="1.1" fill="#0a2c23"/>
<circle cx="501.00" cy="110" r="1.1" fill="#0a2c23"/>
<circle cx="499.80" cy="112" r="1.1" fill="#0a2c23"/>
<circle cx="500.70" cy="113.5" r="1.1" fill="#0a2c23"/>
<path d="M508.18,108.40 L508.18,108.49 L508.18,108.57 L508.18,108.66 L508.18,108.74 L508.18,108.83 L508.18,108.91 L508.18,109.00 L508.18,109.08 L508.18,109.17 L508.18,109.25 L508.18,109.34 L508.18,109.42 L508.18,109.51 L508.20,109.60 L508.21,109.68 L508.23,109.77 L508.24,109.85 L508.26,109.94 L508.28,110.02 L508.29,110.11 L508.31,110.19 L508.34,110.28 L508.36,110.36 L508.38,110.45 L508.41,110.53 L508.43,110.62 L508.46,110.71 L508.49,110.79 L508.52,110.88 L508.56,110.96 L508.59,111.05 L508.63,111.13 L508.66,111.22 L508.70,111.30 L508.75,111.39 L508.79,111.47 L508.83,111.56 L508.88,111.64 L508.93,111.73 L508.98,111.82 L509.03,111.90 L509.09,111.99 L509.15,112.07 L509.20,112.16 L509.26,112.24 L509.32,112.33 L509.38,112.41 L509.44,112.50 L509.51,112.58 L509.57,112.67 L509.63,112.76 L509.68,112.84 L509.73,112.93 L509.76,113.01 L509.69,113.10 L509.60,113.18 L509.51,113.27 L509.42,113.35 L509.32,113.44 L509.23,113.52 L509.14,113.61 L509.06,113.69 L508.97,113.78 L508.90,113.87 L508.82,113.95 L508.76,114.04 L508.69,114.12 L508.63,114.21 L508.58,114.29 L508.53,114.38 L508.48,114.46 L508.44,114.55 L508.40,114.63 L508.36,114.72 L508.32,114.80 L508.29,114.89 L508.26,114.98 L508.24,115.06 L508.22,115.15 L508.19,115.23 L508.18,115.32 L508.18,115.40 L508.18,115.49 L508.18,115.57 L508.18,115.66 L508.18,115.74 L508.18,115.83 L508.18,115.91 L508.18,116.00 L507.82,116.00 L507.82,115.91 L507.82,115.83 L507.82,115.74 L507.82,115.66 L507.82,115.57 L507.82,115.49 L507.82,115.40 L507.82,115.32 L507.81,115.23 L507.78,115.15 L507.76,115.06 L507.74,114.98 L507.71,114.89 L507.68,114.80 L507.64,114.72 L507.60,114.63 L507.56,114.55 L507.52,114.46 L507.47,114.38 L507.42,114.29 L507.37,114.21 L507.31,114.12 L507.24,114.04 L507.18,113.95 L507.10,113.87 L507.03,113.78 L506.94,113.69 L506.86,113.61 L506.77,113.52 L506.68,113.44 L506.58,113.35 L506.49,113.27 L506.40,113.18 L506.31,113.10 L506.24,113.01 L506.27,112.93 L506.32,112.84 L506.37,112.76 L506.43,112.67 L506.49,112.58 L506.56,112.50 L506.62,112.41 L506.68,112.33 L506.74,112.24 L506.80,112.16 L506.85,112.07 L506.91,111.99 L506.97,111.90 L507.02,111.82 L507.07,111.73 L507.12,111.64 L507.17,111.56 L507.21,111.47 L507.25,111.39 L507.30,111.30 L507.34,111.22 L507.37,111.13 L507.41,111.05 L507.44,110.96 L507.48,110.88 L507.51,110.79 L507.54,110.71 L507.57,110.62 L507.59,110.53 L507.62,110.45 L507.64,110.36 L507.66,110.28 L507.69,110.19 L507.71,110.11 L507.72,110.02 L507.74,109.94 L507.76,109.85 L507.77,109.77 L507.79,109.68 L507.80,109.60 L507.82,109.51 L507.82,109.42 L507.82,109.34 L507.82,109.25 L507.82,109.17 L507.82,109.08 L507.82,109.00 L507.82,108.91 L507.82,108.83 L507.82,108.74 L507.82,108.66 L507.82,108.57 L507.82,108.49 L507.82,108.40 Z" fill="#fac474" stroke="#e3943a" stroke-width="0.7" stroke-linejoin="round"/>
<circle cx="508.00" cy="110" r="1.1" fill="#8a4a0c"/>
<circle cx="508.50" cy="113" r="1.1" fill="#8a4a0c"/>
<path d="M480.2,67.8 V48.1 H488.8 V89.9" fill="none" stroke="#111" stroke-width="0.9"/>
<text transform="translate(484.4 48.1) scale(0.88 1)" font-size="6.21" text-anchor="middle" font-weight="normal" fill="#111" stroke="#111" stroke-width="0.2" textLength="5.68" lengthAdjust="spacingAndGlyphs">**</text>
<text transform="translate(6.6 168.6)" font-size="11.20" text-anchor="start" font-weight="bold" fill="#000" stroke="#000" stroke-width="0.5">E</text>
<line x1="48.5" y1="170" x2="48.5" y2="256" stroke="#111" stroke-width="1.0"/>
<line x1="45.2" y1="173.5" x2="48.5" y2="173.5" stroke="#111" stroke-width="1.0"/>
<text transform="translate(42.900000000000006 175.79999999999998)" font-size="6.30" text-anchor="end" font-weight="normal" fill="#222" stroke="#222" stroke-width="0.1">1250</text>
<line x1="45.2" y1="187.5" x2="48.5" y2="187.5" stroke="#111" stroke-width="1.0"/>
<text transform="translate(42.900000000000006 189.57999999999998)" font-size="6.30" text-anchor="end" font-weight="normal" fill="#222" stroke="#222" stroke-width="0.1">1000</text>
<line x1="45.2" y1="201.5" x2="48.5" y2="201.5" stroke="#111" stroke-width="1.0"/>
<text transform="translate(42.900000000000006 203.35999999999999)" font-size="6.30" text-anchor="end" font-weight="normal" fill="#222" stroke="#222" stroke-width="0.1">750</text>
<line x1="45.2" y1="215.5" x2="48.5" y2="215.5" stroke="#111" stroke-width="1.0"/>
<text transform="translate(42.900000000000006 217.14)" font-size="6.30" text-anchor="end" font-weight="normal" fill="#222" stroke="#222" stroke-width="0.1">500</text>
<line x1="45.2" y1="228.5" x2="48.5" y2="228.5" stroke="#111" stroke-width="1.0"/>
<text transform="translate(42.900000000000006 230.92)" font-size="6.30" text-anchor="end" font-weight="normal" fill="#222" stroke="#222" stroke-width="0.1">250</text>
<line x1="45.2" y1="242.5" x2="48.5" y2="242.5" stroke="#111" stroke-width="1.0"/>
<text transform="translate(42.900000000000006 244.7)" font-size="6.30" text-anchor="end" font-weight="normal" fill="#222" stroke="#222" stroke-width="0.1">0</text>
<line x1="48" y1="256.5" x2="130.5" y2="256.5" stroke="#111" stroke-width="1.0"/>
<line x1="57.5" y1="256.5" x2="57.5" y2="259.0" stroke="#111" stroke-width="1.0"/>
<line x1="79.5" y1="256.5" x2="79.5" y2="259.0" stroke="#111" stroke-width="1.0"/>
<line x1="99.5" y1="256.5" x2="99.5" y2="259.0" stroke="#111" stroke-width="1.0"/>
<line x1="121.5" y1="256.5" x2="121.5" y2="259.0" stroke="#111" stroke-width="1.0"/>
<text transform="translate(57.3 268.2) scale(0.88 1)" font-size="6.78" text-anchor="middle" font-weight="normal" fill="#111" stroke="#111" stroke-width="0.2">Naive</text>
<text transform="translate(78 268.2) scale(0.88 1)" font-size="6.78" text-anchor="middle" font-weight="normal" fill="#111" stroke="#111" stroke-width="0.2">CM</text>
<text transform="translate(100.5 268.2) scale(0.88 1)" font-size="6.78" text-anchor="middle" font-weight="normal" fill="#111" stroke="#111" stroke-width="0.2">EM</text>
<text transform="translate(120.9 268.2) scale(0.88 1)" font-size="6.78" text-anchor="middle" font-weight="normal" fill="#111" stroke="#111" stroke-width="0.2">EMRA</text>
<text transform="translate(21 208.7) rotate(-90) scale(0.88 1)" font-size="6.89" text-anchor="middle" font-weight="normal" fill="#111" stroke="#111" stroke-width="0.3">BNIP3 (MFI)</text>
<line x1="48" y1="242.6" x2="130" y2="242.6" stroke="#111" stroke-width="0.9" stroke-dasharray="1.1 1.5"/>
<path d="M53.78,209.50 L53.78,209.84 L53.78,210.18 L53.78,210.52 L53.78,210.86 L53.78,211.20 L53.78,211.54 L53.78,211.88 L53.79,212.21 L53.80,212.55 L53.82,212.89 L53.84,213.23 L53.86,213.57 L53.88,213.91 L53.91,214.25 L53.94,214.59 L53.96,214.93 L54.00,215.27 L54.03,215.61 L54.06,215.95 L54.10,216.29 L54.14,216.63 L54.19,216.97 L54.23,217.30 L54.28,217.64 L54.33,217.98 L54.39,218.32 L54.45,218.66 L54.51,219.00 L54.58,219.34 L54.65,219.68 L54.72,220.02 L54.80,220.36 L54.88,220.70 L54.96,221.04 L55.05,221.38 L55.14,221.72 L55.23,222.06 L55.33,222.39 L55.42,222.73 L55.52,223.07 L55.61,223.41 L55.70,223.75 L55.79,224.09 L55.84,224.43 L55.78,224.77 L55.69,225.11 L55.60,225.45 L55.51,225.79 L55.42,226.13 L55.33,226.47 L55.23,226.81 L55.14,227.14 L55.06,227.48 L54.97,227.82 L54.89,228.16 L54.81,228.50 L54.73,228.84 L54.66,229.18 L54.59,229.52 L54.53,229.86 L54.47,230.20 L54.41,230.54 L54.35,230.88 L54.30,231.22 L54.25,231.56 L54.20,231.90 L54.16,232.23 L54.12,232.57 L54.08,232.91 L54.05,233.25 L54.01,233.59 L53.98,233.93 L53.95,234.27 L53.93,234.61 L53.90,234.95 L53.88,235.29 L53.86,235.63 L53.84,235.97 L53.82,236.31 L53.80,236.65 L53.78,236.99 L53.78,237.32 L53.78,237.66 L53.78,238.00 L53.78,238.34 L53.78,238.68 L53.78,239.02 L53.78,239.36 L53.78,239.70 L53.42,239.70 L53.42,239.36 L53.42,239.02 L53.42,238.68 L53.42,238.34 L53.42,238.00 L53.42,237.66 L53.42,237.32 L53.42,236.99 L53.40,236.65 L53.38,236.31 L53.36,235.97 L53.34,235.63 L53.32,235.29 L53.30,234.95 L53.27,234.61 L53.25,234.27 L53.22,233.93 L53.19,233.59 L53.15,233.25 L53.12,232.91 L53.08,232.57 L53.04,232.23 L53.00,231.90 L52.95,231.56 L52.90,231.22 L52.85,230.88 L52.79,230.54 L52.73,230.20 L52.67,229.86 L52.61,229.52 L52.54,229.18 L52.47,228.84 L52.39,228.50 L52.31,228.16 L52.23,227.82 L52.14,227.48 L52.06,227.14 L51.97,226.81 L51.87,226.47 L51.78,226.13 L51.69,225.79 L51.60,225.45 L51.51,225.11 L51.42,224.77 L51.36,224.43 L51.41,224.09 L51.50,223.75 L51.59,223.41 L51.68,223.07 L51.78,222.73 L51.87,222.39 L51.97,222.06 L52.06,221.72 L52.15,221.38 L52.24,221.04 L52.32,220.70 L52.40,220.36 L52.48,220.02 L52.55,219.68 L52.62,219.34 L52.69,219.00 L52.75,218.66 L52.81,218.32 L52.87,217.98 L52.92,217.64 L52.97,217.30 L53.01,216.97 L53.06,216.63 L53.10,216.29 L53.14,215.95 L53.17,215.61 L53.20,215.27 L53.24,214.93 L53.26,214.59 L53.29,214.25 L53.32,213.91 L53.34,213.57 L53.36,213.23 L53.38,212.89 L53.40,212.55 L53.41,212.21 L53.42,211.88 L53.42,211.54 L53.42,211.20 L53.42,210.86 L53.42,210.52 L53.42,210.18 L53.42,209.84 L53.42,209.50 Z" fill="#6aae9a" stroke="#2a5248" stroke-width="0.7" stroke-linejoin="round"/>
<circle cx="53.60" cy="214" r="1.1" fill="#0a2c23"/>
<circle cx="54.10" cy="222" r="1.1" fill="#0a2c23"/>
<circle cx="53.10" cy="224" r="1.1" fill="#0a2c23"/>
<circle cx="54.00" cy="225.5" r="1.1" fill="#0a2c23"/>
<circle cx="53.20" cy="227" r="1.1" fill="#0a2c23"/>
<circle cx="53.60" cy="233" r="1.1" fill="#0a2c23"/>
<path d="M61.68,221.50 L61.68,221.67 L61.68,221.85 L61.68,222.02 L61.68,222.19 L61.68,222.37 L61.69,222.54 L61.72,222.71 L61.76,222.88 L61.79,223.06 L61.84,223.23 L61.89,223.40 L61.94,223.58 L62.00,223.75 L62.07,223.92 L62.15,224.10 L62.23,224.27 L62.32,224.44 L62.42,224.61 L62.54,224.79 L62.65,224.96 L62.78,225.13 L62.91,225.31 L63.05,225.48 L63.19,225.65 L63.32,225.83 L63.43,226.00 L63.39,226.17 L63.35,226.34 L63.30,226.52 L63.24,226.69 L63.19,226.86 L63.13,227.04 L63.08,227.21 L63.03,227.38 L62.97,227.56 L62.92,227.73 L62.88,227.90 L62.83,228.08 L62.79,228.25 L62.76,228.42 L62.73,228.59 L62.70,228.77 L62.69,228.94 L62.67,229.11 L62.67,229.29 L62.68,229.46 L62.69,229.63 L62.72,229.81 L62.75,229.98 L62.79,230.15 L62.84,230.32 L62.90,230.50 L62.97,230.67 L63.04,230.84 L63.12,231.02 L63.21,231.19 L63.29,231.36 L63.37,231.54 L63.45,231.71 L63.53,231.88 L63.59,232.06 L63.65,232.23 L63.69,232.40 L63.72,232.57 L63.74,232.75 L63.74,232.92 L63.72,233.09 L63.69,233.27 L63.63,233.44 L63.57,233.61 L63.49,233.79 L63.39,233.96 L63.29,234.13 L63.18,234.30 L63.06,234.48 L62.94,234.65 L62.82,234.82 L62.70,235.00 L62.58,235.17 L62.46,235.34 L62.35,235.52 L62.25,235.69 L62.16,235.86 L62.07,236.03 L61.99,236.21 L61.93,236.38 L61.86,236.55 L61.81,236.73 L61.76,236.90 L61.24,236.90 L61.19,236.73 L61.14,236.55 L61.07,236.38 L61.01,236.21 L60.93,236.03 L60.84,235.86 L60.75,235.69 L60.65,235.52 L60.54,235.34 L60.42,235.17 L60.30,235.00 L60.18,234.82 L60.06,234.65 L59.94,234.48 L59.82,234.30 L59.71,234.13 L59.61,233.96 L59.51,233.79 L59.43,233.61 L59.37,233.44 L59.31,233.27 L59.28,233.09 L59.26,232.92 L59.26,232.75 L59.28,232.57 L59.31,232.40 L59.35,232.23 L59.41,232.06 L59.47,231.88 L59.55,231.71 L59.63,231.54 L59.71,231.36 L59.79,231.19 L59.88,231.02 L59.96,230.84 L60.03,230.67 L60.10,230.50 L60.16,230.32 L60.21,230.15 L60.25,229.98 L60.28,229.81 L60.31,229.63 L60.32,229.46 L60.33,229.29 L60.33,229.11 L60.31,228.94 L60.30,228.77 L60.27,228.59 L60.24,228.42 L60.21,228.25 L60.17,228.08 L60.12,227.90 L60.08,227.73 L60.03,227.56 L59.97,227.38 L59.92,227.21 L59.87,227.04 L59.81,226.86 L59.76,226.69 L59.70,226.52 L59.65,226.34 L59.61,226.17 L59.57,226.00 L59.68,225.83 L59.81,225.65 L59.95,225.48 L60.09,225.31 L60.22,225.13 L60.35,224.96 L60.46,224.79 L60.58,224.61 L60.68,224.44 L60.77,224.27 L60.85,224.10 L60.93,223.92 L61.00,223.75 L61.06,223.58 L61.11,223.40 L61.16,223.23 L61.21,223.06 L61.24,222.88 L61.28,222.71 L61.31,222.54 L61.32,222.37 L61.32,222.19 L61.32,222.02 L61.32,221.85 L61.32,221.67 L61.32,221.50 Z" fill="#fac474" stroke="#e3943a" stroke-width="0.7" stroke-linejoin="round"/>
<circle cx="61.50" cy="223" r="1.1" fill="#8a4a0c"/>
<circle cx="62.30" cy="226" r="1.1" fill="#8a4a0c"/>
<circle cx="60.70" cy="226.5" r="1.1" fill="#8a4a0c"/>
<circle cx="62.30" cy="232.5" r="1.1" fill="#8a4a0c"/>
<circle cx="60.70" cy="233.5" r="1.1" fill="#8a4a0c"/>
<path d="M74.78,204.00 L74.78,204.40 L74.78,204.80 L74.78,205.20 L74.78,205.60 L74.78,206.01 L74.78,206.41 L74.78,206.81 L74.79,207.21 L74.81,207.61 L74.82,208.01 L74.84,208.41 L74.86,208.81 L74.88,209.21 L74.91,209.62 L74.93,210.02 L74.96,210.42 L74.99,210.82 L75.02,211.22 L75.05,211.62 L75.08,212.02 L75.12,212.42 L75.16,212.82 L75.20,213.23 L75.24,213.63 L75.29,214.03 L75.34,214.43 L75.39,214.83 L75.45,215.23 L75.51,215.63 L75.57,216.03 L75.64,216.43 L75.70,216.84 L75.78,217.24 L75.85,217.64 L75.93,218.04 L76.01,218.44 L76.10,218.84 L76.19,219.24 L76.28,219.64 L76.37,220.04 L76.46,220.45 L76.56,220.85 L76.65,221.25 L76.75,221.65 L76.84,222.05 L76.93,222.45 L77.00,222.85 L76.98,223.25 L76.89,223.66 L76.78,224.06 L76.68,224.46 L76.57,224.86 L76.46,225.26 L76.35,225.66 L76.25,226.06 L76.15,226.46 L76.05,226.86 L75.95,227.27 L75.86,227.67 L75.78,228.07 L75.69,228.47 L75.62,228.87 L75.54,229.27 L75.47,229.67 L75.41,230.07 L75.35,230.47 L75.29,230.88 L75.24,231.28 L75.19,231.68 L75.14,232.08 L75.10,232.48 L75.06,232.88 L75.02,233.28 L74.99,233.68 L74.96,234.08 L74.93,234.49 L74.90,234.89 L74.87,235.29 L74.85,235.69 L74.83,236.09 L74.81,236.49 L74.79,236.89 L74.78,237.29 L74.78,237.69 L74.78,238.10 L74.78,238.50 L74.78,238.90 L74.78,239.30 L74.78,239.70 L74.42,239.70 L74.42,239.30 L74.42,238.90 L74.42,238.50 L74.42,238.10 L74.42,237.69 L74.42,237.29 L74.41,236.89 L74.39,236.49 L74.37,236.09 L74.35,235.69 L74.33,235.29 L74.30,234.89 L74.27,234.49 L74.24,234.08 L74.21,233.68 L74.18,233.28 L74.14,232.88 L74.10,232.48 L74.06,232.08 L74.01,231.68 L73.96,231.28 L73.91,230.88 L73.85,230.47 L73.79,230.07 L73.73,229.67 L73.66,229.27 L73.58,228.87 L73.51,228.47 L73.42,228.07 L73.34,227.67 L73.25,227.27 L73.15,226.86 L73.05,226.46 L72.95,226.06 L72.85,225.66 L72.74,225.26 L72.63,224.86 L72.52,224.46 L72.42,224.06 L72.31,223.66 L72.22,223.25 L72.20,222.85 L72.27,222.45 L72.36,222.05 L72.45,221.65 L72.55,221.25 L72.64,220.85 L72.74,220.45 L72.83,220.04 L72.92,219.64 L73.01,219.24 L73.10,218.84 L73.19,218.44 L73.27,218.04 L73.35,217.64 L73.42,217.24 L73.50,216.84 L73.56,216.43 L73.63,216.03 L73.69,215.63 L73.75,215.23 L73.81,214.83 L73.86,214.43 L73.91,214.03 L73.96,213.63 L74.00,213.23 L74.04,212.82 L74.08,212.42 L74.12,212.02 L74.15,211.62 L74.18,211.22 L74.21,210.82 L74.24,210.42 L74.27,210.02 L74.29,209.62 L74.32,209.21 L74.34,208.81 L74.36,208.41 L74.38,208.01 L74.39,207.61 L74.41,207.21 L74.42,206.81 L74.42,206.41 L74.42,206.01 L74.42,205.60 L74.42,205.20 L74.42,204.80 L74.42,204.40 L74.42,204.00 Z" fill="#6aae9a" stroke="#2a5248" stroke-width="0.7" stroke-linejoin="round"/>
<circle cx="74.60" cy="210" r="1.1" fill="#0a2c23"/>
<circle cx="75.10" cy="220" r="1.1" fill="#0a2c23"/>
<circle cx="74.10" cy="222" r="1.1" fill="#0a2c23"/>
<circle cx="75.10" cy="223.5" r="1.1" fill="#0a2c23"/>
<circle cx="74.10" cy="225" r="1.1" fill="#0a2c23"/>
<circle cx="74.60" cy="235" r="1.1" fill="#0a2c23"/>
<path d="M82.98,185.40 L82.98,186.09 L82.98,186.78 L82.98,187.47 L82.98,188.16 L82.98,188.85 L82.98,189.54 L82.99,190.23 L83.00,190.92 L83.02,191.61 L83.04,192.30 L83.06,192.99 L83.08,193.68 L83.11,194.37 L83.13,195.06 L83.16,195.75 L83.19,196.44 L83.22,197.13 L83.25,197.82 L83.29,198.51 L83.33,199.20 L83.37,199.89 L83.41,200.58 L83.46,201.27 L83.51,201.96 L83.56,202.65 L83.62,203.34 L83.68,204.03 L83.74,204.72 L83.81,205.41 L83.88,206.10 L83.95,206.79 L84.03,207.48 L84.11,208.17 L84.20,208.86 L84.29,209.55 L84.38,210.24 L84.47,210.93 L84.57,211.62 L84.67,212.31 L84.78,213.00 L84.88,213.69 L84.99,214.38 L85.10,215.07 L85.20,215.76 L85.30,216.44 L85.36,217.13 L85.30,217.82 L85.24,218.51 L85.17,219.20 L85.11,219.89 L85.06,220.58 L85.02,221.27 L85.00,221.96 L85.00,222.65 L85.00,223.34 L85.03,224.03 L85.06,224.72 L85.09,225.41 L85.13,226.10 L85.16,226.79 L85.19,227.48 L85.19,228.17 L85.18,228.86 L85.15,229.55 L85.09,230.24 L85.01,230.93 L84.91,231.62 L84.78,232.31 L84.64,233.00 L84.48,233.69 L84.32,234.38 L84.16,235.07 L83.99,235.76 L83.84,236.45 L83.70,237.14 L83.57,237.83 L83.45,238.52 L83.35,239.21 L83.26,239.90 L83.19,240.59 L83.13,241.28 L83.08,241.97 L83.04,242.66 L83.00,243.35 L82.98,244.04 L82.98,244.73 L82.98,245.42 L82.98,246.11 L82.98,246.80 L82.62,246.80 L82.62,246.11 L82.62,245.42 L82.62,244.73 L82.62,244.04 L82.60,243.35 L82.56,242.66 L82.52,241.97 L82.47,241.28 L82.41,240.59 L82.34,239.90 L82.25,239.21 L82.15,238.52 L82.03,237.83 L81.90,237.14 L81.76,236.45 L81.61,235.76 L81.44,235.07 L81.28,234.38 L81.12,233.69 L80.96,233.00 L80.82,232.31 L80.69,231.62 L80.59,230.93 L80.51,230.24 L80.45,229.55 L80.42,228.86 L80.41,228.17 L80.41,227.48 L80.44,226.79 L80.47,226.10 L80.51,225.41 L80.54,224.72 L80.57,224.03 L80.60,223.34 L80.60,222.65 L80.60,221.96 L80.58,221.27 L80.54,220.58 L80.49,219.89 L80.43,219.20 L80.36,218.51 L80.30,217.82 L80.24,217.13 L80.30,216.44 L80.40,215.76 L80.50,215.07 L80.61,214.38 L80.72,213.69 L80.82,213.00 L80.93,212.31 L81.03,211.62 L81.13,210.93 L81.22,210.24 L81.31,209.55 L81.40,208.86 L81.49,208.17 L81.57,207.48 L81.65,206.79 L81.72,206.10 L81.79,205.41 L81.86,204.72 L81.92,204.03 L81.98,203.34 L82.04,202.65 L82.09,201.96 L82.14,201.27 L82.19,200.58 L82.23,199.89 L82.27,199.20 L82.31,198.51 L82.35,197.82 L82.38,197.13 L82.41,196.44 L82.44,195.75 L82.47,195.06 L82.49,194.37 L82.52,193.68 L82.54,192.99 L82.56,192.30 L82.58,191.61 L82.60,190.92 L82.61,190.23 L82.62,189.54 L82.62,188.85 L82.62,188.16 L82.62,187.47 L82.62,186.78 L82.62,186.09 L82.62,185.40 Z" fill="#fac474" stroke="#e3943a" stroke-width="0.7" stroke-linejoin="round"/>
<circle cx="82.80" cy="194" r="1.1" fill="#8a4a0c"/>
<circle cx="82.80" cy="206" r="1.1" fill="#8a4a0c"/>
<circle cx="83.30" cy="214" r="1.1" fill="#8a4a0c"/>
<circle cx="82.30" cy="217" r="1.1" fill="#8a4a0c"/>
<circle cx="82.80" cy="222" r="1.1" fill="#8a4a0c"/>
<circle cx="82.80" cy="230" r="1.1" fill="#8a4a0c"/>
<circle cx="82.80" cy="236" r="1.1" fill="#8a4a0c"/>
<path d="M96.08,205.00 L96.08,205.40 L96.08,205.79 L96.08,206.19 L96.08,206.58 L96.08,206.98 L96.08,207.37 L96.09,207.77 L96.11,208.16 L96.13,208.56 L96.15,208.96 L96.17,209.35 L96.20,209.75 L96.22,210.14 L96.25,210.54 L96.29,210.93 L96.32,211.33 L96.36,211.72 L96.40,212.12 L96.44,212.51 L96.49,212.91 L96.54,213.31 L96.59,213.70 L96.65,214.10 L96.71,214.49 L96.77,214.89 L96.84,215.28 L96.91,215.68 L96.99,216.07 L97.07,216.47 L97.15,216.87 L97.24,217.26 L97.34,217.66 L97.44,218.05 L97.54,218.45 L97.64,218.84 L97.75,219.24 L97.86,219.63 L97.96,220.03 L98.07,220.42 L98.17,220.82 L98.27,221.22 L98.30,221.61 L98.23,222.01 L98.14,222.40 L98.05,222.80 L97.96,223.19 L97.86,223.59 L97.77,223.98 L97.67,224.38 L97.58,224.78 L97.49,225.17 L97.40,225.57 L97.32,225.96 L97.23,226.36 L97.15,226.75 L97.08,227.15 L97.01,227.54 L96.94,227.94 L96.87,228.33 L96.81,228.73 L96.75,229.13 L96.69,229.52 L96.64,229.92 L96.59,230.31 L96.54,230.71 L96.50,231.10 L96.46,231.50 L96.42,231.89 L96.38,232.29 L96.35,232.69 L96.32,233.08 L96.29,233.48 L96.26,233.87 L96.23,234.27 L96.21,234.66 L96.18,235.06 L96.16,235.45 L96.14,235.85 L96.12,236.24 L96.11,236.64 L96.09,237.04 L96.08,237.43 L96.08,237.83 L96.08,238.22 L96.08,238.62 L96.08,239.01 L96.08,239.41 L96.08,239.80 L96.08,240.20 L95.72,240.20 L95.72,239.80 L95.72,239.41 L95.72,239.01 L95.72,238.62 L95.72,238.22 L95.72,237.83 L95.72,237.43 L95.71,237.04 L95.69,236.64 L95.68,236.24 L95.66,235.85 L95.64,235.45 L95.62,235.06 L95.59,234.66 L95.57,234.27 L95.54,233.87 L95.51,233.48 L95.48,233.08 L95.45,232.69 L95.42,232.29 L95.38,231.89 L95.34,231.50 L95.30,231.10 L95.26,230.71 L95.21,230.31 L95.16,229.92 L95.11,229.52 L95.05,229.13 L94.99,228.73 L94.93,228.33 L94.86,227.94 L94.79,227.54 L94.72,227.15 L94.65,226.75 L94.57,226.36 L94.48,225.96 L94.40,225.57 L94.31,225.17 L94.22,224.78 L94.13,224.38 L94.03,223.98 L93.94,223.59 L93.84,223.19 L93.75,222.80 L93.66,222.40 L93.57,222.01 L93.50,221.61 L93.53,221.22 L93.63,220.82 L93.73,220.42 L93.84,220.03 L93.94,219.63 L94.05,219.24 L94.16,218.84 L94.26,218.45 L94.36,218.05 L94.46,217.66 L94.56,217.26 L94.65,216.87 L94.73,216.47 L94.81,216.07 L94.89,215.68 L94.96,215.28 L95.03,214.89 L95.09,214.49 L95.15,214.10 L95.21,213.70 L95.26,213.31 L95.31,212.91 L95.36,212.51 L95.40,212.12 L95.44,211.72 L95.48,211.33 L95.51,210.93 L95.55,210.54 L95.58,210.14 L95.60,209.75 L95.63,209.35 L95.65,208.96 L95.67,208.56 L95.69,208.16 L95.71,207.77 L95.72,207.37 L95.72,206.98 L95.72,206.58 L95.72,206.19 L95.72,205.79 L95.72,205.40 L95.72,205.00 Z" fill="#6aae9a" stroke="#2a5248" stroke-width="0.7" stroke-linejoin="round"/>
<circle cx="95.90" cy="212" r="1.1" fill="#0a2c23"/>
<circle cx="96.40" cy="216" r="1.1" fill="#0a2c23"/>
<circle cx="95.40" cy="220" r="1.1" fill="#0a2c23"/>
<circle cx="96.40" cy="222" r="1.1" fill="#0a2c23"/>
<circle cx="95.40" cy="224" r="1.1" fill="#0a2c23"/>
<circle cx="96.20" cy="227" r="1.1" fill="#0a2c23"/>
<circle cx="95.90" cy="231" r="1.1" fill="#0a2c23"/>
<path d="M104.18,217.00 L104.18,217.22 L104.18,217.45 L104.18,217.67 L104.18,217.89 L104.18,218.12 L104.18,218.34 L104.18,218.57 L104.19,218.79 L104.21,219.01 L104.23,219.24 L104.26,219.46 L104.29,219.68 L104.32,219.91 L104.35,220.13 L104.39,220.35 L104.43,220.58 L104.47,220.80 L104.51,221.02 L104.56,221.25 L104.62,221.47 L104.68,221.70 L104.74,221.92 L104.81,222.14 L104.88,222.37 L104.96,222.59 L105.04,222.81 L105.13,223.04 L105.22,223.26 L105.32,223.48 L105.42,223.71 L105.52,223.93 L105.63,224.16 L105.73,224.38 L105.84,224.60 L105.93,224.83 L105.99,225.05 L105.95,225.27 L105.90,225.50 L105.85,225.72 L105.80,225.94 L105.76,226.17 L105.71,226.39 L105.67,226.61 L105.64,226.84 L105.62,227.06 L105.60,227.29 L105.59,227.51 L105.59,227.73 L105.59,227.96 L105.60,228.18 L105.63,228.40 L105.66,228.63 L105.69,228.85 L105.73,229.07 L105.78,229.30 L105.83,229.52 L105.88,229.74 L105.93,229.97 L105.98,230.19 L106.03,230.42 L106.07,230.64 L106.11,230.86 L106.14,231.09 L106.15,231.31 L106.16,231.53 L106.15,231.76 L106.14,231.98 L106.11,232.20 L106.07,232.43 L106.01,232.65 L105.94,232.88 L105.87,233.10 L105.78,233.32 L105.69,233.55 L105.59,233.77 L105.49,233.99 L105.38,234.22 L105.27,234.44 L105.16,234.66 L105.06,234.89 L104.95,235.11 L104.86,235.33 L104.76,235.56 L104.68,235.78 L104.59,236.01 L104.52,236.23 L104.45,236.45 L104.39,236.68 L104.34,236.90 L103.66,236.90 L103.61,236.68 L103.55,236.45 L103.48,236.23 L103.41,236.01 L103.32,235.78 L103.24,235.56 L103.14,235.33 L103.05,235.11 L102.94,234.89 L102.84,234.66 L102.73,234.44 L102.62,234.22 L102.51,233.99 L102.41,233.77 L102.31,233.55 L102.22,233.32 L102.13,233.10 L102.06,232.88 L101.99,232.65 L101.93,232.43 L101.89,232.20 L101.86,231.98 L101.85,231.76 L101.84,231.53 L101.85,231.31 L101.86,231.09 L101.89,230.86 L101.93,230.64 L101.97,230.42 L102.02,230.19 L102.07,229.97 L102.12,229.74 L102.17,229.52 L102.22,229.30 L102.27,229.07 L102.31,228.85 L102.34,228.63 L102.37,228.40 L102.40,228.18 L102.41,227.96 L102.41,227.73 L102.41,227.51 L102.40,227.29 L102.38,227.06 L102.36,226.84 L102.33,226.61 L102.29,226.39 L102.24,226.17 L102.20,225.94 L102.15,225.72 L102.10,225.50 L102.05,225.27 L102.01,225.05 L102.07,224.83 L102.16,224.60 L102.27,224.38 L102.37,224.16 L102.48,223.93 L102.58,223.71 L102.68,223.48 L102.78,223.26 L102.87,223.04 L102.96,222.81 L103.04,222.59 L103.12,222.37 L103.19,222.14 L103.26,221.92 L103.32,221.70 L103.38,221.47 L103.44,221.25 L103.49,221.02 L103.53,220.80 L103.57,220.58 L103.61,220.35 L103.65,220.13 L103.68,219.91 L103.71,219.68 L103.74,219.46 L103.77,219.24 L103.79,219.01 L103.81,218.79 L103.82,218.57 L103.82,218.34 L103.82,218.12 L103.82,217.89 L103.82,217.67 L103.82,217.45 L103.82,217.22 L103.82,217.00 Z" fill="#fac474" stroke="#e3943a" stroke-width="0.7" stroke-linejoin="round"/>
<circle cx="104.00" cy="221" r="1.1" fill="#8a4a0c"/>
<circle cx="104.60" cy="226" r="1.1" fill="#8a4a0c"/>
<circle cx="103.40" cy="228" r="1.1" fill="#8a4a0c"/>
<circle cx="104.60" cy="232" r="1.1" fill="#8a4a0c"/>
<circle cx="103.40" cy="233" r="1.1" fill="#8a4a0c"/>
<path d="M117.38,208.40 L117.38,208.76 L117.38,209.11 L117.38,209.47 L117.38,209.83 L117.38,210.19 L117.38,210.54 L117.39,210.90 L117.40,211.26 L117.42,211.62 L117.44,211.97 L117.46,212.33 L117.49,212.69 L117.51,213.04 L117.54,213.40 L117.57,213.76 L117.60,214.12 L117.64,214.47 L117.68,214.83 L117.72,215.19 L117.76,215.55 L117.81,215.90 L117.86,216.26 L117.91,216.62 L117.97,216.98 L118.03,217.33 L118.09,217.69 L118.16,218.05 L118.23,218.40 L118.31,218.76 L118.39,219.12 L118.47,219.48 L118.56,219.83 L118.65,220.19 L118.74,220.55 L118.84,220.91 L118.94,221.26 L119.05,221.62 L119.15,221.98 L119.26,222.33 L119.36,222.69 L119.46,223.05 L119.55,223.41 L119.60,223.76 L119.53,224.12 L119.44,224.48 L119.35,224.84 L119.25,225.19 L119.16,225.55 L119.06,225.91 L118.96,226.27 L118.87,226.62 L118.77,226.98 L118.68,227.34 L118.60,227.69 L118.51,228.05 L118.43,228.41 L118.36,228.77 L118.29,229.12 L118.22,229.48 L118.15,229.84 L118.09,230.20 L118.03,230.55 L117.97,230.91 L117.92,231.27 L117.87,231.62 L117.82,231.98 L117.78,232.34 L117.74,232.70 L117.70,233.05 L117.66,233.41 L117.63,233.77 L117.60,234.13 L117.57,234.48 L117.54,234.84 L117.51,235.20 L117.49,235.56 L117.47,235.91 L117.45,236.27 L117.43,236.63 L117.41,236.98 L117.39,237.34 L117.38,237.70 L117.38,238.06 L117.38,238.41 L117.38,238.77 L117.38,239.13 L117.38,239.49 L117.38,239.84 L117.38,240.20 L117.02,240.20 L117.02,239.84 L117.02,239.49 L117.02,239.13 L117.02,238.77 L117.02,238.41 L117.02,238.06 L117.02,237.70 L117.01,237.34 L116.99,236.98 L116.97,236.63 L116.95,236.27 L116.93,235.91 L116.91,235.56 L116.89,235.20 L116.86,234.84 L116.83,234.48 L116.80,234.13 L116.77,233.77 L116.74,233.41 L116.70,233.05 L116.66,232.70 L116.62,232.34 L116.58,231.98 L116.53,231.62 L116.48,231.27 L116.43,230.91 L116.37,230.55 L116.31,230.20 L116.25,229.84 L116.18,229.48 L116.11,229.12 L116.04,228.77 L115.97,228.41 L115.89,228.05 L115.80,227.69 L115.72,227.34 L115.63,226.98 L115.53,226.62 L115.44,226.27 L115.34,225.91 L115.24,225.55 L115.15,225.19 L115.05,224.84 L114.96,224.48 L114.87,224.12 L114.80,223.76 L114.85,223.41 L114.94,223.05 L115.04,222.69 L115.14,222.33 L115.25,221.98 L115.35,221.62 L115.46,221.26 L115.56,220.91 L115.66,220.55 L115.75,220.19 L115.84,219.83 L115.93,219.48 L116.01,219.12 L116.09,218.76 L116.17,218.40 L116.24,218.05 L116.31,217.69 L116.37,217.33 L116.43,216.98 L116.49,216.62 L116.54,216.26 L116.59,215.90 L116.64,215.55 L116.68,215.19 L116.72,214.83 L116.76,214.47 L116.80,214.12 L116.83,213.76 L116.86,213.40 L116.89,213.04 L116.91,212.69 L116.94,212.33 L116.96,211.97 L116.98,211.62 L117.00,211.26 L117.01,210.90 L117.02,210.54 L117.02,210.19 L117.02,209.83 L117.02,209.47 L117.02,209.11 L117.02,208.76 L117.02,208.40 Z" fill="#6aae9a" stroke="#2a5248" stroke-width="0.7" stroke-linejoin="round"/>
<circle cx="117.20" cy="217" r="1.1" fill="#0a2c23"/>
<circle cx="117.70" cy="222" r="1.1" fill="#0a2c23"/>
<circle cx="116.70" cy="224" r="1.1" fill="#0a2c23"/>
<circle cx="117.60" cy="226" r="1.1" fill="#0a2c23"/>
<circle cx="116.90" cy="229" r="1.1" fill="#0a2c23"/>
<path d="M125.68,222.60 L125.68,222.76 L125.68,222.92 L125.68,223.08 L125.68,223.24 L125.68,223.40 L125.70,223.56 L125.72,223.72 L125.76,223.89 L125.79,224.05 L125.84,224.21 L125.88,224.37 L125.93,224.53 L125.99,224.69 L126.06,224.85 L126.13,225.01 L126.21,225.17 L126.29,225.33 L126.39,225.49 L126.49,225.65 L126.61,225.81 L126.73,225.97 L126.86,226.13 L126.99,226.30 L127.13,226.46 L127.28,226.62 L127.42,226.78 L127.54,226.94 L127.56,227.10 L127.52,227.26 L127.47,227.42 L127.42,227.58 L127.37,227.74 L127.32,227.90 L127.27,228.06 L127.23,228.22 L127.19,228.38 L127.16,228.54 L127.12,228.71 L127.10,228.87 L127.08,229.03 L127.07,229.19 L127.06,229.35 L127.06,229.51 L127.06,229.67 L127.08,229.83 L127.10,229.99 L127.13,230.15 L127.16,230.31 L127.20,230.47 L127.24,230.63 L127.29,230.79 L127.34,230.96 L127.39,231.12 L127.44,231.28 L127.50,231.44 L127.55,231.60 L127.60,231.76 L127.64,231.92 L127.67,232.08 L127.70,232.24 L127.73,232.40 L127.74,232.56 L127.74,232.72 L127.73,232.88 L127.71,233.04 L127.68,233.20 L127.64,233.37 L127.59,233.53 L127.53,233.69 L127.46,233.85 L127.39,234.01 L127.30,234.17 L127.21,234.33 L127.12,234.49 L127.02,234.65 L126.92,234.81 L126.82,234.97 L126.72,235.13 L126.62,235.29 L126.52,235.45 L126.43,235.61 L126.34,235.78 L126.25,235.94 L126.17,236.10 L126.10,236.26 L126.03,236.42 L125.97,236.58 L125.91,236.74 L125.86,236.90 L125.14,236.90 L125.09,236.74 L125.03,236.58 L124.97,236.42 L124.90,236.26 L124.83,236.10 L124.75,235.94 L124.66,235.78 L124.57,235.61 L124.48,235.45 L124.38,235.29 L124.28,235.13 L124.18,234.97 L124.08,234.81 L123.98,234.65 L123.88,234.49 L123.79,234.33 L123.70,234.17 L123.61,234.01 L123.54,233.85 L123.47,233.69 L123.41,233.53 L123.36,233.37 L123.32,233.20 L123.29,233.04 L123.27,232.88 L123.26,232.72 L123.26,232.56 L123.27,232.40 L123.30,232.24 L123.33,232.08 L123.36,231.92 L123.40,231.76 L123.45,231.60 L123.50,231.44 L123.56,231.28 L123.61,231.12 L123.66,230.96 L123.71,230.79 L123.76,230.63 L123.80,230.47 L123.84,230.31 L123.87,230.15 L123.90,229.99 L123.92,229.83 L123.94,229.67 L123.94,229.51 L123.94,229.35 L123.93,229.19 L123.92,229.03 L123.90,228.87 L123.88,228.71 L123.84,228.54 L123.81,228.38 L123.77,228.22 L123.73,228.06 L123.68,227.90 L123.63,227.74 L123.58,227.58 L123.53,227.42 L123.48,227.26 L123.44,227.10 L123.46,226.94 L123.58,226.78 L123.72,226.62 L123.87,226.46 L124.01,226.30 L124.14,226.13 L124.27,225.97 L124.39,225.81 L124.51,225.65 L124.61,225.49 L124.71,225.33 L124.79,225.17 L124.87,225.01 L124.94,224.85 L125.01,224.69 L125.07,224.53 L125.12,224.37 L125.16,224.21 L125.21,224.05 L125.24,223.89 L125.28,223.72 L125.30,223.56 L125.32,223.40 L125.32,223.24 L125.32,223.08 L125.32,222.92 L125.32,222.76 L125.32,222.60 Z" fill="#fac474" stroke="#e3943a" stroke-width="0.7" stroke-linejoin="round"/>
<circle cx="125.50" cy="225" r="1.1" fill="#8a4a0c"/>
<circle cx="126.20" cy="227.5" r="1.1" fill="#8a4a0c"/>
<circle cx="124.80" cy="232" r="1.1" fill="#8a4a0c"/>
<circle cx="126.10" cy="233.5" r="1.1" fill="#8a4a0c"/>
<text transform="translate(146.7 169)" font-size="11.20" text-anchor="start" font-weight="bold" fill="#000" stroke="#000" stroke-width="0.5">F</text>
<text transform="translate(164.6 212.7) rotate(-90) scale(0.88 1)" font-size="6.78" text-anchor="middle" font-weight="normal" fill="#111" stroke="#111" stroke-width="0.3">% of CD8<tspan font-size="3.8" dy="-2">+</tspan><tspan dy="2"> T cells</tspan></text>
<rect x="169.5" y="176.5" width="74.0" height="74.0" fill="#fff" stroke="#222" stroke-width="1.1"/>
<path d="M170.0,226.7 L191.50,226.70 L191.75,226.70 L192.00,226.70 L192.25,226.70 L192.50,226.70 L192.75,226.70 L193.00,226.70 L193.25,226.70 L193.50,226.70 L193.75,226.70 L194.00,226.69 L194.25,226.68 L194.50,226.64 L194.75,226.57 L195.00,226.43 L195.25,226.21 L195.50,225.88 L195.75,225.41 L196.00,224.80 L196.25,224.07 L196.50,223.24 L196.75,222.32 L197.00,221.35 L197.25,220.32 L197.50,219.27 L197.75,218.19 L198.00,217.08 L198.25,215.96 L198.50,214.82 L198.75,213.67 L199.00,212.50 L199.25,211.31 L199.50,210.12 L199.75,208.91 L200.00,207.69 L200.25,206.47 L200.50,205.23 L200.75,203.98 L201.00,202.72 L201.25,201.46 L201.50,200.18 L201.75,198.90 L202.00,197.62 L202.25,196.34 L202.50,195.08 L202.75,193.88 L203.00,192.80 L203.25,191.92 L203.50,191.35 L203.75,191.20 L204.00,191.54 L204.25,192.38 L204.50,193.68 L204.75,195.35 L205.00,197.27 L205.25,199.35 L205.50,201.50 L205.75,203.67 L206.00,205.83 L206.25,207.97 L206.50,210.08 L206.75,212.15 L207.00,214.17 L207.25,216.13 L207.50,218.00 L207.75,219.77 L208.00,221.39 L208.25,222.82 L208.50,224.02 L208.75,224.96 L209.00,225.65 L209.25,226.12 L209.50,226.40 L209.75,226.56 L210.00,226.64 L210.25,226.68 L210.50,226.69 L210.75,226.70 L211.00,226.70 L211.25,226.70 L211.50,226.70 L211.75,226.70 L212.00,226.70 L212.25,226.70 L212.50,226.70 L243.0,226.7 Z" fill="#d9eee6" fill-opacity="1" stroke="none"/>
<path d="M170.0,226.7 L191.50,226.70 L191.75,226.70 L192.00,226.70 L192.25,226.70 L192.50,226.70 L192.75,226.70 L193.00,226.70 L193.25,226.70 L193.50,226.70 L193.75,226.70 L194.00,226.69 L194.25,226.68 L194.50,226.64 L194.75,226.57 L195.00,226.43 L195.25,226.21 L195.50,225.88 L195.75,225.41 L196.00,224.80 L196.25,224.07 L196.50,223.24 L196.75,222.32 L197.00,221.35 L197.25,220.32 L197.50,219.27 L197.75,218.19 L198.00,217.08 L198.25,215.96 L198.50,214.82 L198.75,213.67 L199.00,212.50 L199.25,211.31 L199.50,210.12 L199.75,208.91 L200.00,207.69 L200.25,206.47 L200.50,205.23 L200.75,203.98 L201.00,202.72 L201.25,201.46 L201.50,200.18 L201.75,198.90 L202.00,197.62 L202.25,196.34 L202.50,195.08 L202.75,193.88 L203.00,192.80 L203.25,191.92 L203.50,191.35 L203.75,191.20 L204.00,191.54 L204.25,192.38 L204.50,193.68 L204.75,195.35 L205.00,197.27 L205.25,199.35 L205.50,201.50 L205.75,203.67 L206.00,205.83 L206.25,207.97 L206.50,210.08 L206.75,212.15 L207.00,214.17 L207.25,216.13 L207.50,218.00 L207.75,219.77 L208.00,221.39 L208.25,222.82 L208.50,224.02 L208.75,224.96 L209.00,225.65 L209.25,226.12 L209.50,226.40 L209.75,226.56 L210.00,226.64 L210.25,226.68 L210.50,226.69 L210.75,226.70 L211.00,226.70 L211.25,226.70 L211.50,226.70 L211.75,226.70 L212.00,226.70 L212.25,226.70 L212.50,226.70 L243.0,226.7" fill="none" stroke="#a9d6c6" stroke-width="0.8"/>
<path d="M190,250.5 L190.60,250.50 L190.85,250.50 L191.10,250.50 L191.35,250.50 L191.60,250.50 L191.85,250.50 L192.10,250.50 L192.35,250.50 L192.60,250.50 L192.85,250.50 L193.10,250.48 L193.35,250.46 L193.60,250.40 L193.85,250.28 L194.10,250.05 L194.35,249.68 L194.60,249.11 L194.85,248.33 L195.10,247.31 L195.35,246.09 L195.60,244.69 L195.85,243.15 L196.10,241.51 L196.35,239.79 L196.60,238.02 L196.85,236.20 L197.10,234.34 L197.35,232.46 L197.60,230.54 L197.85,228.60 L198.10,226.64 L198.35,224.65 L198.60,222.65 L198.85,220.62 L199.10,218.58 L199.35,216.53 L199.60,214.49 L199.85,212.50 L200.10,210.63 L200.35,208.98 L200.60,207.71 L200.85,206.97 L201.10,206.90 L201.35,207.55 L201.60,208.90 L201.85,210.84 L202.10,213.20 L202.35,215.82 L202.60,218.59 L202.85,221.41 L203.10,224.22 L203.35,227.01 L203.60,229.76 L203.85,232.45 L204.10,235.08 L204.35,237.61 L204.60,240.03 L204.85,242.28 L205.10,244.31 L205.35,246.07 L205.60,247.51 L205.85,248.61 L206.10,249.39 L206.35,249.90 L206.60,250.20 L206.85,250.37 L207.10,250.45 L207.35,250.48 L207.60,250.49 L207.85,250.50 L208.10,250.50 L208.35,250.50 L208.60,250.50 L208.85,250.50 L209.10,250.50 L209.35,250.50 L209.60,250.50 L243.0,250.5 Z" fill="#a6d7c5" fill-opacity="1" stroke="none"/>
<path d="M190,250.5 L190.60,250.50 L190.85,250.50 L191.10,250.50 L191.35,250.50 L191.60,250.50 L191.85,250.50 L192.10,250.50 L192.35,250.50 L192.60,250.50 L192.85,250.50 L193.10,250.48 L193.35,250.46 L193.60,250.40 L193.85,250.28 L194.10,250.05 L194.35,249.68 L194.60,249.11 L194.85,248.33 L195.10,247.31 L195.35,246.09 L195.60,244.69 L195.85,243.15 L196.10,241.51 L196.35,239.79 L196.60,238.02 L196.85,236.20 L197.10,234.34 L197.35,232.46 L197.60,230.54 L197.85,228.60 L198.10,226.64 L198.35,224.65 L198.60,222.65 L198.85,220.62 L199.10,218.58 L199.35,216.53 L199.60,214.49 L199.85,212.50 L200.10,210.63 L200.35,208.98 L200.60,207.71 L200.85,206.97 L201.10,206.90 L201.35,207.55 L201.60,208.90 L201.85,210.84 L202.10,213.20 L202.35,215.82 L202.60,218.59 L202.85,221.41 L203.10,224.22 L203.35,227.01 L203.60,229.76 L203.85,232.45 L204.10,235.08 L204.35,237.61 L204.60,240.03 L204.85,242.28 L205.10,244.31 L205.35,246.07 L205.60,247.51 L205.85,248.61 L206.10,249.39 L206.35,249.90 L206.60,250.20 L206.85,250.37 L207.10,250.45 L207.35,250.48 L207.60,250.49 L207.85,250.50 L208.10,250.50 L208.35,250.50 L208.60,250.50 L208.85,250.50 L209.10,250.50 L209.35,250.50 L209.60,250.50 L243.0,250.5" fill="none" stroke="#1a5240" stroke-width="0.85"/>
<text transform="translate(172.7 184.8) scale(0.88 1)" font-size="6.78" text-anchor="start" font-weight="normal" fill="#3c9a80" stroke="#3c9a80" stroke-width="0.2" textLength="10.57" lengthAdjust="spacingAndGlyphs">PB</text>
<text transform="translate(238.6 184.2) scale(0.88 1)" font-size="6.78" text-anchor="end" font-weight="normal" fill="#222" stroke="#222" stroke-width="0.2" textLength="18.86" lengthAdjust="spacingAndGlyphs">Ki67+</text>
<text transform="translate(238.6 235.4) scale(0.88 1)" font-size="6.78" text-anchor="end" font-weight="normal" fill="#222" stroke="#222" stroke-width="0.2" textLength="18.18" lengthAdjust="spacingAndGlyphs">Ki67−</text>
<rect x="250.5" y="176.5" width="74.0" height="74.0" fill="#fff" stroke="#222" stroke-width="1.1"/>
<path d="M251.0,226.2 L271.20,226.20 L271.45,226.20 L271.70,226.20 L271.95,226.20 L272.20,226.20 L272.45,226.20 L272.70,226.20 L272.95,226.20 L273.20,226.20 L273.45,226.20 L273.70,226.19 L273.95,226.18 L274.20,226.14 L274.45,226.07 L274.70,225.95 L274.95,225.74 L275.20,225.42 L275.45,224.98 L275.70,224.41 L275.95,223.72 L276.20,222.93 L276.45,222.07 L276.70,221.14 L276.95,220.18 L277.20,219.18 L277.45,218.16 L277.70,217.12 L277.95,216.06 L278.20,214.98 L278.45,213.89 L278.70,212.79 L278.95,211.67 L279.20,210.54 L279.45,209.40 L279.70,208.25 L279.95,207.09 L280.20,205.92 L280.45,204.74 L280.70,203.55 L280.95,202.36 L281.20,201.16 L281.45,199.98 L281.70,198.81 L281.95,197.71 L282.20,196.74 L282.45,195.96 L282.70,195.49 L282.95,195.40 L283.20,195.73 L283.45,196.48 L283.70,197.59 L283.95,198.98 L284.20,200.54 L284.45,202.21 L284.70,203.92 L284.95,205.63 L285.20,207.35 L285.45,209.04 L285.70,210.71 L285.95,212.36 L286.20,213.98 L286.45,215.57 L286.70,217.11 L286.95,218.61 L287.20,220.03 L287.45,221.36 L287.70,222.55 L287.95,223.59 L288.20,224.44 L288.45,225.09 L288.70,225.55 L288.95,225.85 L289.20,226.03 L289.45,226.12 L289.70,226.17 L289.95,226.19 L290.20,226.20 L290.45,226.20 L290.70,226.20 L290.95,226.20 L291.20,226.20 L291.45,226.20 L291.70,226.20 L291.95,226.20 L292.20,226.20 L324.0,226.2 Z" fill="#fde6c8" fill-opacity="1" stroke="none"/>
<path d="M251.0,226.2 L271.20,226.20 L271.45,226.20 L271.70,226.20 L271.95,226.20 L272.20,226.20 L272.45,226.20 L272.70,226.20 L272.95,226.20 L273.20,226.20 L273.45,226.20 L273.70,226.19 L273.95,226.18 L274.20,226.14 L274.45,226.07 L274.70,225.95 L274.95,225.74 L275.20,225.42 L275.45,224.98 L275.70,224.41 L275.95,223.72 L276.20,222.93 L276.45,222.07 L276.70,221.14 L276.95,220.18 L277.20,219.18 L277.45,218.16 L277.70,217.12 L277.95,216.06 L278.20,214.98 L278.45,213.89 L278.70,212.79 L278.95,211.67 L279.20,210.54 L279.45,209.40 L279.70,208.25 L279.95,207.09 L280.20,205.92 L280.45,204.74 L280.70,203.55 L280.95,202.36 L281.20,201.16 L281.45,199.98 L281.70,198.81 L281.95,197.71 L282.20,196.74 L282.45,195.96 L282.70,195.49 L282.95,195.40 L283.20,195.73 L283.45,196.48 L283.70,197.59 L283.95,198.98 L284.20,200.54 L284.45,202.21 L284.70,203.92 L284.95,205.63 L285.20,207.35 L285.45,209.04 L285.70,210.71 L285.95,212.36 L286.20,213.98 L286.45,215.57 L286.70,217.11 L286.95,218.61 L287.20,220.03 L287.45,221.36 L287.70,222.55 L287.95,223.59 L288.20,224.44 L288.45,225.09 L288.70,225.55 L288.95,225.85 L289.20,226.03 L289.45,226.12 L289.70,226.17 L289.95,226.19 L290.20,226.20 L290.45,226.20 L290.70,226.20 L290.95,226.20 L291.20,226.20 L291.45,226.20 L291.70,226.20 L291.95,226.20 L292.20,226.20 L324.0,226.2" fill="none" stroke="#f6d0a2" stroke-width="0.8"/>
<path d="M265,250.5 L264.20,250.50 L264.45,250.50 L264.70,250.50 L264.95,250.50 L265.20,250.50 L265.45,250.50 L265.70,250.50 L265.95,250.50 L266.20,250.50 L266.45,250.50 L266.70,250.49 L266.95,250.48 L267.20,250.45 L267.45,250.39 L267.70,250.27 L267.95,250.08 L268.20,249.79 L268.45,249.39 L268.70,248.87 L268.95,248.24 L269.20,247.52 L269.45,246.74 L269.70,245.89 L269.95,245.02 L270.20,244.11 L270.45,243.18 L270.70,242.23 L270.95,241.26 L271.20,240.28 L271.45,239.29 L271.70,238.28 L271.95,237.26 L272.20,236.24 L272.45,235.20 L272.70,234.15 L272.95,233.09 L273.20,232.03 L273.45,230.96 L273.70,229.87 L273.95,228.78 L274.20,227.69 L274.45,226.58 L274.70,225.47 L274.95,224.36 L275.20,223.23 L275.45,222.11 L275.70,220.97 L275.95,219.83 L276.20,218.68 L276.45,217.53 L276.70,216.37 L276.95,215.21 L277.20,214.05 L277.45,212.89 L277.70,211.74 L277.95,210.63 L278.20,209.60 L278.45,208.74 L278.70,208.14 L278.95,207.90 L279.20,208.12 L279.45,208.84 L279.70,210.03 L279.95,211.63 L280.20,213.52 L280.45,215.59 L280.70,217.76 L280.95,219.97 L281.20,222.18 L281.45,224.38 L281.70,226.56 L281.95,228.72 L282.20,230.84 L282.45,232.93 L282.70,234.99 L282.95,237.00 L283.20,238.97 L283.45,240.86 L283.70,242.67 L283.95,244.35 L284.20,245.87 L284.45,247.19 L284.70,248.26 L284.95,249.09 L285.20,249.67 L285.45,250.05 L285.70,250.28 L285.95,250.40 L286.20,250.46 L286.45,250.49 L286.70,250.50 L286.95,250.50 L287.20,250.50 L287.45,250.50 L287.70,250.50 L287.95,250.50 L288.20,250.50 L288.45,250.50 L288.70,250.50 L324.0,250.5 Z" fill="#f9c88c" fill-opacity="1" stroke="none"/>
<path d="M265,250.5 L264.20,250.50 L264.45,250.50 L264.70,250.50 L264.95,250.50 L265.20,250.50 L265.45,250.50 L265.70,250.50 L265.95,250.50 L266.20,250.50 L266.45,250.50 L266.70,250.49 L266.95,250.48 L267.20,250.45 L267.45,250.39 L267.70,250.27 L267.95,250.08 L268.20,249.79 L268.45,249.39 L268.70,248.87 L268.95,248.24 L269.20,247.52 L269.45,246.74 L269.70,245.89 L269.95,245.02 L270.20,244.11 L270.45,243.18 L270.70,242.23 L270.95,241.26 L271.20,240.28 L271.45,239.29 L271.70,238.28 L271.95,237.26 L272.20,236.24 L272.45,235.20 L272.70,234.15 L272.95,233.09 L273.20,232.03 L273.45,230.96 L273.70,229.87 L273.95,228.78 L274.20,227.69 L274.45,226.58 L274.70,225.47 L274.95,224.36 L275.20,223.23 L275.45,222.11 L275.70,220.97 L275.95,219.83 L276.20,218.68 L276.45,217.53 L276.70,216.37 L276.95,215.21 L277.20,214.05 L277.45,212.89 L277.70,211.74 L277.95,210.63 L278.20,209.60 L278.45,208.74 L278.70,208.14 L278.95,207.90 L279.20,208.12 L279.45,208.84 L279.70,210.03 L279.95,211.63 L280.20,213.52 L280.45,215.59 L280.70,217.76 L280.95,219.97 L281.20,222.18 L281.45,224.38 L281.70,226.56 L281.95,228.72 L282.20,230.84 L282.45,232.93 L282.70,234.99 L282.95,237.00 L283.20,238.97 L283.45,240.86 L283.70,242.67 L283.95,244.35 L284.20,245.87 L284.45,247.19 L284.70,248.26 L284.95,249.09 L285.20,249.67 L285.45,250.05 L285.70,250.28 L285.95,250.40 L286.20,250.46 L286.45,250.49 L286.70,250.50 L286.95,250.50 L287.20,250.50 L287.45,250.50 L287.70,250.50 L287.95,250.50 L288.20,250.50 L288.45,250.50 L288.70,250.50 L324.0,250.5" fill="none" stroke="#d07e1a" stroke-width="0.85"/>
<text transform="translate(254.3 184.8) scale(0.88 1)" font-size="6.78" text-anchor="start" font-weight="normal" fill="#f2a040" stroke="#f2a040" stroke-width="0.2" textLength="9.43" lengthAdjust="spacingAndGlyphs">BM</text>
<text transform="translate(321.2 184.2) scale(0.88 1)" font-size="6.78" text-anchor="end" font-weight="normal" fill="#222" stroke="#222" stroke-width="0.2" textLength="20.45" lengthAdjust="spacingAndGlyphs">Ki67+</text>
<text transform="translate(321.2 235) scale(0.88 1)" font-size="6.78" text-anchor="end" font-weight="normal" fill="#222" stroke="#222" stroke-width="0.2" textLength="19.89" lengthAdjust="spacingAndGlyphs">Ki67−</text>
<line x1="171.0" y1="250.5" x2="171.0" y2="252.7" stroke="#333" stroke-width="0.55"/>
<line x1="172.9" y1="250.5" x2="172.9" y2="251.9" stroke="#333" stroke-width="0.55"/>
<line x1="174.8" y1="250.5" x2="174.8" y2="251.9" stroke="#333" stroke-width="0.55"/>
<line x1="176.7" y1="250.5" x2="176.7" y2="251.9" stroke="#333" stroke-width="0.55"/>
<line x1="178.6" y1="250.5" x2="178.6" y2="251.9" stroke="#333" stroke-width="0.55"/>
<line x1="180.5" y1="250.5" x2="180.5" y2="252.7" stroke="#333" stroke-width="0.55"/>
<line x1="182.4" y1="250.5" x2="182.4" y2="251.9" stroke="#333" stroke-width="0.55"/>
<line x1="184.3" y1="250.5" x2="184.3" y2="251.9" stroke="#333" stroke-width="0.55"/>
<line x1="186.2" y1="250.5" x2="186.2" y2="251.9" stroke="#333" stroke-width="0.55"/>
<line x1="188.1" y1="250.5" x2="188.1" y2="251.9" stroke="#333" stroke-width="0.55"/>
<line x1="190.0" y1="250.5" x2="190.0" y2="252.7" stroke="#333" stroke-width="0.55"/>
<line x1="191.9" y1="250.5" x2="191.9" y2="251.9" stroke="#333" stroke-width="0.55"/>
<line x1="193.8" y1="250.5" x2="193.8" y2="251.9" stroke="#333" stroke-width="0.55"/>
<line x1="195.7" y1="250.5" x2="195.7" y2="251.9" stroke="#333" stroke-width="0.55"/>
<line x1="197.6" y1="250.5" x2="197.6" y2="251.9" stroke="#333" stroke-width="0.55"/>
<line x1="199.5" y1="250.5" x2="199.5" y2="252.7" stroke="#333" stroke-width="0.55"/>
<line x1="201.4" y1="250.5" x2="201.4" y2="251.9" stroke="#333" stroke-width="0.55"/>
<line x1="203.3" y1="250.5" x2="203.3" y2="251.9" stroke="#333" stroke-width="0.55"/>
<line x1="205.2" y1="250.5" x2="205.2" y2="251.9" stroke="#333" stroke-width="0.55"/>
<line x1="207.1" y1="250.5" x2="207.1" y2="251.9" stroke="#333" stroke-width="0.55"/>
<line x1="209.0" y1="250.5" x2="209.0" y2="252.7" stroke="#333" stroke-width="0.55"/>
<line x1="210.9" y1="250.5" x2="210.9" y2="251.9" stroke="#333" stroke-width="0.55"/>
<line x1="212.8" y1="250.5" x2="212.8" y2="251.9" stroke="#333" stroke-width="0.55"/>
<line x1="214.7" y1="250.5" x2="214.7" y2="251.9" stroke="#333" stroke-width="0.55"/>
<line x1="216.6" y1="250.5" x2="216.6" y2="251.9" stroke="#333" stroke-width="0.55"/>
<line x1="218.5" y1="250.5" x2="218.5" y2="252.7" stroke="#333" stroke-width="0.55"/>
<line x1="220.4" y1="250.5" x2="220.4" y2="251.9" stroke="#333" stroke-width="0.55"/>
<line x1="222.3" y1="250.5" x2="222.3" y2="251.9" stroke="#333" stroke-width="0.55"/>
<line x1="224.2" y1="250.5" x2="224.2" y2="251.9" stroke="#333" stroke-width="0.55"/>
<line x1="226.1" y1="250.5" x2="226.1" y2="251.9" stroke="#333" stroke-width="0.55"/>
<line x1="228.0" y1="250.5" x2="228.0" y2="252.7" stroke="#333" stroke-width="0.55"/>
<line x1="229.9" y1="250.5" x2="229.9" y2="251.9" stroke="#333" stroke-width="0.55"/>
<line x1="231.8" y1="250.5" x2="231.8" y2="251.9" stroke="#333" stroke-width="0.55"/>
<line x1="233.7" y1="250.5" x2="233.7" y2="251.9" stroke="#333" stroke-width="0.55"/>
<line x1="235.6" y1="250.5" x2="235.6" y2="251.9" stroke="#333" stroke-width="0.55"/>
<line x1="237.5" y1="250.5" x2="237.5" y2="252.7" stroke="#333" stroke-width="0.55"/>
<line x1="239.4" y1="250.5" x2="239.4" y2="251.9" stroke="#333" stroke-width="0.55"/>
<line x1="241.3" y1="250.5" x2="241.3" y2="251.9" stroke="#333" stroke-width="0.55"/>
<line x1="252.0" y1="250.5" x2="252.0" y2="252.7" stroke="#333" stroke-width="0.55"/>
<line x1="253.9" y1="250.5" x2="253.9" y2="251.9" stroke="#333" stroke-width="0.55"/>
<line x1="255.8" y1="250.5" x2="255.8" y2="251.9" stroke="#333" stroke-width="0.55"/>
<line x1="257.7" y1="250.5" x2="257.7" y2="251.9" stroke="#333" stroke-width="0.55"/>
<line x1="259.6" y1="250.5" x2="259.6" y2="251.9" stroke="#333" stroke-width="0.55"/>
<line x1="261.5" y1="250.5" x2="261.5" y2="252.7" stroke="#333" stroke-width="0.55"/>
<line x1="263.4" y1="250.5" x2="263.4" y2="251.9" stroke="#333" stroke-width="0.55"/>
<line x1="265.3" y1="250.5" x2="265.3" y2="251.9" stroke="#333" stroke-width="0.55"/>
<line x1="267.2" y1="250.5" x2="267.2" y2="251.9" stroke="#333" stroke-width="0.55"/>
<line x1="269.1" y1="250.5" x2="269.1" y2="251.9" stroke="#333" stroke-width="0.55"/>
<line x1="271.0" y1="250.5" x2="271.0" y2="252.7" stroke="#333" stroke-width="0.55"/>
<line x1="272.9" y1="250.5" x2="272.9" y2="251.9" stroke="#333" stroke-width="0.55"/>
<line x1="274.8" y1="250.5" x2="274.8" y2="251.9" stroke="#333" stroke-width="0.55"/>
<line x1="276.7" y1="250.5" x2="276.7" y2="251.9" stroke="#333" stroke-width="0.55"/>
<line x1="278.6" y1="250.5" x2="278.6" y2="251.9" stroke="#333" stroke-width="0.55"/>
<line x1="280.5" y1="250.5" x2="280.5" y2="252.7" stroke="#333" stroke-width="0.55"/>
<line x1="282.4" y1="250.5" x2="282.4" y2="251.9" stroke="#333" stroke-width="0.55"/>
<line x1="284.3" y1="250.5" x2="284.3" y2="251.9" stroke="#333" stroke-width="0.55"/>
<line x1="286.2" y1="250.5" x2="286.2" y2="251.9" stroke="#333" stroke-width="0.55"/>
<line x1="288.1" y1="250.5" x2="288.1" y2="251.9" stroke="#333" stroke-width="0.55"/>
<line x1="290.0" y1="250.5" x2="290.0" y2="252.7" stroke="#333" stroke-width="0.55"/>
<line x1="291.9" y1="250.5" x2="291.9" y2="251.9" stroke="#333" stroke-width="0.55"/>
<line x1="293.8" y1="250.5" x2="293.8" y2="251.9" stroke="#333" stroke-width="0.55"/>
<line x1="295.7" y1="250.5" x2="295.7" y2="251.9" stroke="#333" stroke-width="0.55"/>
<line x1="297.6" y1="250.5" x2="297.6" y2="251.9" stroke="#333" stroke-width="0.55"/>
<line x1="299.5" y1="250.5" x2="299.5" y2="252.7" stroke="#333" stroke-width="0.55"/>
<line x1="301.4" y1="250.5" x2="301.4" y2="251.9" stroke="#333" stroke-width="0.55"/>
<line x1="303.3" y1="250.5" x2="303.3" y2="251.9" stroke="#333" stroke-width="0.55"/>
<line x1="305.2" y1="250.5" x2="305.2" y2="251.9" stroke="#333" stroke-width="0.55"/>
<line x1="307.1" y1="250.5" x2="307.1" y2="251.9" stroke="#333" stroke-width="0.55"/>
<line x1="309.0" y1="250.5" x2="309.0" y2="252.7" stroke="#333" stroke-width="0.55"/>
<line x1="310.9" y1="250.5" x2="310.9" y2="251.9" stroke="#333" stroke-width="0.55"/>
<line x1="312.8" y1="250.5" x2="312.8" y2="251.9" stroke="#333" stroke-width="0.55"/>
<line x1="314.7" y1="250.5" x2="314.7" y2="251.9" stroke="#333" stroke-width="0.55"/>
<line x1="316.6" y1="250.5" x2="316.6" y2="251.9" stroke="#333" stroke-width="0.55"/>
<line x1="318.5" y1="250.5" x2="318.5" y2="252.7" stroke="#333" stroke-width="0.55"/>
<line x1="320.4" y1="250.5" x2="320.4" y2="251.9" stroke="#333" stroke-width="0.55"/>
<line x1="322.3" y1="250.5" x2="322.3" y2="251.9" stroke="#333" stroke-width="0.55"/>
<text transform="translate(172.8 263.4)" font-size="6.40" text-anchor="start" font-weight="bold" fill="#222" textLength="17.60" lengthAdjust="spacingAndGlyphs">BNIP3</text>
<line x1="192.7" y1="261.5" x2="318" y2="261.5" stroke="#111" stroke-width="1.1"/>
<path d="M317,259.5 L321.8,261.5 L317,263.5 Z" fill="#111"/>
<text transform="translate(340.6 169.2)" font-size="11.20" text-anchor="start" font-weight="bold" fill="#000" stroke="#000" stroke-width="0.5">G</text>
<text transform="translate(377.5 169.4)" font-size="8.20" text-anchor="start" font-weight="normal" fill="#111" stroke="#111" stroke-width="0.15">Total CD8<tspan font-size="5.2" dy="-3.2">+</tspan></text>
<text transform="translate(474.7 169.4)" font-size="8.20" text-anchor="middle" font-weight="normal" fill="#111" stroke="#111" stroke-width="0.15">EM</text>
<line x1="381.5" y1="179" x2="381.5" y2="256.3" stroke="#111" stroke-width="1.0"/>
<line x1="378.2" y1="182.5" x2="381.5" y2="182.5" stroke="#111" stroke-width="1.0"/>
<text transform="translate(374.59999999999997 184.7)" font-size="6.30" text-anchor="end" font-weight="normal" fill="#222" stroke="#222" stroke-width="0.1">4</text>
<line x1="378.2" y1="201.5" x2="381.5" y2="201.5" stroke="#111" stroke-width="1.0"/>
<text transform="translate(374.59999999999997 203.125)" font-size="6.30" text-anchor="end" font-weight="normal" fill="#222" stroke="#222" stroke-width="0.1">3</text>
<line x1="378.2" y1="219.5" x2="381.5" y2="219.5" stroke="#111" stroke-width="1.0"/>
<text transform="translate(374.59999999999997 221.54999999999998)" font-size="6.30" text-anchor="end" font-weight="normal" fill="#222" stroke="#222" stroke-width="0.1">2</text>
<line x1="378.2" y1="237.5" x2="381.5" y2="237.5" stroke="#111" stroke-width="1.0"/>
<text transform="translate(374.59999999999997 239.975)" font-size="6.30" text-anchor="end" font-weight="normal" fill="#222" stroke="#222" stroke-width="0.1">1</text>
<line x1="378.2" y1="256.5" x2="381.5" y2="256.5" stroke="#111" stroke-width="1.0"/>
<text transform="translate(374.59999999999997 258.40000000000003)" font-size="6.30" text-anchor="end" font-weight="normal" fill="#222" stroke="#222" stroke-width="0.1">0</text>
<line x1="381.5" y1="256.5" x2="414.0" y2="256.5" stroke="#111" stroke-width="1.0"/>
<line x1="389.5" y1="256.5" x2="389.5" y2="259.0" stroke="#111" stroke-width="1.0"/>
<line x1="405.5" y1="256.5" x2="405.5" y2="259.0" stroke="#111" stroke-width="1.0"/>
<text transform="translate(389.9 267.7) scale(0.88 1)" font-size="6.78" text-anchor="middle" font-weight="normal" fill="#111" stroke="#111" stroke-width="0.2">PB</text>
<text transform="translate(405.3 267.7) scale(0.88 1)" font-size="6.78" text-anchor="middle" font-weight="normal" fill="#111" stroke="#111" stroke-width="0.2">BM</text>
<path d="M389.9,206.5 V180.8 H405.3 V191.5" fill="none" stroke="#111" stroke-width="0.9"/>
<text transform="translate(397.6 181.0) scale(0.88 1)" font-size="6.21" text-anchor="middle" font-weight="normal" fill="#111" stroke="#111" stroke-width="0.2">*</text>
<path d="M390.08,212.00 L390.08,212.45 L390.08,212.90 L390.08,213.35 L390.08,213.80 L390.08,214.25 L390.08,214.70 L390.08,215.15 L390.08,215.60 L390.08,216.04 L390.08,216.49 L390.08,216.94 L390.08,217.39 L390.08,217.84 L390.08,218.29 L390.09,218.74 L390.12,219.19 L390.17,219.64 L390.22,220.09 L390.27,220.54 L390.34,220.99 L390.41,221.44 L390.49,221.89 L390.58,222.34 L390.68,222.79 L390.79,223.24 L390.91,223.69 L391.04,224.13 L391.17,224.58 L391.32,225.03 L391.47,225.48 L391.63,225.93 L391.80,226.38 L391.97,226.83 L392.14,227.28 L392.32,227.73 L392.49,228.18 L392.66,228.63 L392.83,229.08 L392.98,229.53 L393.13,229.98 L393.27,230.43 L393.39,230.88 L393.50,231.33 L393.58,231.78 L393.65,232.22 L393.70,232.67 L393.73,233.12 L393.74,233.57 L393.73,234.02 L393.70,234.47 L393.65,234.92 L393.58,235.37 L393.50,235.82 L393.41,236.27 L393.30,236.72 L393.17,237.17 L393.04,237.62 L392.90,238.07 L392.75,238.52 L392.60,238.97 L392.44,239.42 L392.28,239.87 L392.12,240.31 L391.96,240.76 L391.80,241.21 L391.65,241.66 L391.50,242.11 L391.35,242.56 L391.22,243.01 L391.09,243.46 L390.97,243.91 L390.85,244.36 L390.75,244.81 L390.65,245.26 L390.56,245.71 L390.48,246.16 L390.40,246.61 L390.34,247.06 L390.28,247.51 L390.22,247.96 L390.18,248.40 L390.14,248.85 L390.10,249.30 L390.08,249.75 L390.08,250.20 L390.08,250.65 L390.08,251.10 L390.08,251.55 L390.08,252.00 L389.72,252.00 L389.72,251.55 L389.72,251.10 L389.72,250.65 L389.72,250.20 L389.72,249.75 L389.70,249.30 L389.66,248.85 L389.62,248.40 L389.58,247.96 L389.52,247.51 L389.46,247.06 L389.40,246.61 L389.32,246.16 L389.24,245.71 L389.15,245.26 L389.05,244.81 L388.95,244.36 L388.83,243.91 L388.71,243.46 L388.58,243.01 L388.45,242.56 L388.30,242.11 L388.15,241.66 L388.00,241.21 L387.84,240.76 L387.68,240.31 L387.52,239.87 L387.36,239.42 L387.20,238.97 L387.05,238.52 L386.90,238.07 L386.76,237.62 L386.63,237.17 L386.50,236.72 L386.39,236.27 L386.30,235.82 L386.22,235.37 L386.15,234.92 L386.10,234.47 L386.07,234.02 L386.06,233.57 L386.07,233.12 L386.10,232.67 L386.15,232.22 L386.22,231.78 L386.30,231.33 L386.41,230.88 L386.53,230.43 L386.67,229.98 L386.82,229.53 L386.97,229.08 L387.14,228.63 L387.31,228.18 L387.48,227.73 L387.66,227.28 L387.83,226.83 L388.00,226.38 L388.17,225.93 L388.33,225.48 L388.48,225.03 L388.63,224.58 L388.76,224.13 L388.89,223.69 L389.01,223.24 L389.12,222.79 L389.22,222.34 L389.31,221.89 L389.39,221.44 L389.46,220.99 L389.53,220.54 L389.58,220.09 L389.63,219.64 L389.68,219.19 L389.71,218.74 L389.72,218.29 L389.72,217.84 L389.72,217.39 L389.72,216.94 L389.72,216.49 L389.72,216.04 L389.72,215.60 L389.72,215.15 L389.72,214.70 L389.72,214.25 L389.72,213.80 L389.72,213.35 L389.72,212.90 L389.72,212.45 L389.72,212.00 Z" fill="#6aae9a" stroke="#2a5248" stroke-width="0.7" stroke-linejoin="round"/>
<circle cx="389.90" cy="223.5" r="1.1" fill="#0a2c23"/>
<circle cx="390.50" cy="228" r="1.1" fill="#0a2c23"/>
<circle cx="389.30" cy="231.2" r="1.1" fill="#0a2c23"/>
<circle cx="388.40" cy="233.5" r="1.1" fill="#0a2c23"/>
<circle cx="391.40" cy="233.5" r="1.1" fill="#0a2c23"/>
<circle cx="389.90" cy="236.5" r="1.1" fill="#0a2c23"/>
<path d="M405.48,191.00 L405.48,191.64 L405.48,192.28 L405.48,192.92 L405.51,193.56 L405.57,194.20 L405.64,194.84 L405.71,195.48 L405.80,196.12 L405.89,196.76 L405.98,197.40 L406.08,198.04 L406.18,198.69 L406.28,199.33 L406.37,199.97 L406.45,200.61 L406.51,201.25 L406.56,201.89 L406.59,202.53 L406.61,203.17 L406.60,203.81 L406.58,204.45 L406.54,205.09 L406.48,205.73 L406.42,206.37 L406.36,207.01 L406.29,207.65 L406.23,208.29 L406.18,208.93 L406.13,209.57 L406.11,210.21 L406.10,210.85 L406.11,211.49 L406.13,212.13 L406.18,212.78 L406.25,213.42 L406.34,214.06 L406.45,214.70 L406.57,215.34 L406.71,215.98 L406.87,216.62 L407.04,217.26 L407.23,217.90 L407.42,218.54 L407.62,219.18 L407.82,219.82 L408.02,220.46 L408.23,221.10 L408.42,221.74 L408.61,222.38 L408.79,223.02 L408.96,223.66 L409.11,224.30 L409.24,224.94 L409.35,225.58 L409.44,226.22 L409.50,226.87 L409.53,227.51 L409.54,228.15 L409.52,228.79 L409.46,229.43 L409.38,230.07 L409.27,230.71 L409.14,231.35 L408.98,231.99 L408.81,232.63 L408.61,233.27 L408.41,233.91 L408.20,234.55 L407.98,235.19 L407.76,235.83 L407.54,236.47 L407.33,237.11 L407.12,237.75 L406.92,238.39 L406.74,239.03 L406.56,239.67 L406.40,240.31 L406.25,240.96 L406.12,241.60 L406.00,242.24 L405.89,242.88 L405.80,243.52 L405.72,244.16 L405.65,244.80 L405.58,245.44 L405.53,246.08 L405.49,246.72 L405.48,247.36 L405.48,248.00 L405.12,248.00 L405.12,247.36 L405.11,246.72 L405.07,246.08 L405.02,245.44 L404.95,244.80 L404.88,244.16 L404.80,243.52 L404.71,242.88 L404.60,242.24 L404.48,241.60 L404.35,240.96 L404.20,240.31 L404.04,239.67 L403.86,239.03 L403.68,238.39 L403.48,237.75 L403.27,237.11 L403.06,236.47 L402.84,235.83 L402.62,235.19 L402.40,234.55 L402.19,233.91 L401.99,233.27 L401.79,232.63 L401.62,231.99 L401.46,231.35 L401.33,230.71 L401.22,230.07 L401.14,229.43 L401.08,228.79 L401.06,228.15 L401.07,227.51 L401.10,226.87 L401.16,226.22 L401.25,225.58 L401.36,224.94 L401.49,224.30 L401.64,223.66 L401.81,223.02 L401.99,222.38 L402.18,221.74 L402.37,221.10 L402.58,220.46 L402.78,219.82 L402.98,219.18 L403.18,218.54 L403.37,217.90 L403.56,217.26 L403.73,216.62 L403.89,215.98 L404.03,215.34 L404.15,214.70 L404.26,214.06 L404.35,213.42 L404.42,212.78 L404.47,212.13 L404.49,211.49 L404.50,210.85 L404.49,210.21 L404.47,209.57 L404.42,208.93 L404.37,208.29 L404.31,207.65 L404.24,207.01 L404.18,206.37 L404.12,205.73 L404.06,205.09 L404.02,204.45 L404.00,203.81 L403.99,203.17 L404.01,202.53 L404.04,201.89 L404.09,201.25 L404.15,200.61 L404.23,199.97 L404.32,199.33 L404.42,198.69 L404.52,198.04 L404.62,197.40 L404.71,196.76 L404.80,196.12 L404.89,195.48 L404.96,194.84 L405.03,194.20 L405.09,193.56 L405.12,192.92 L405.12,192.28 L405.12,191.64 L405.12,191.00 Z" fill="#fac474" stroke="#e3943a" stroke-width="0.7" stroke-linejoin="round"/>
<circle cx="405.30" cy="201" r="1.1" fill="#8a4a0c"/>
<circle cx="405.30" cy="207.3" r="1.1" fill="#8a4a0c"/>
<circle cx="404.80" cy="218.8" r="1.1" fill="#8a4a0c"/>
<circle cx="406.80" cy="225" r="1.1" fill="#8a4a0c"/>
<circle cx="404.10" cy="227.3" r="1.1" fill="#8a4a0c"/>
<circle cx="405.30" cy="234.2" r="1.1" fill="#8a4a0c"/>
<text transform="translate(354.8 219.2) rotate(-90)" font-size="5.70" text-anchor="middle" font-weight="normal" fill="#111" stroke="#111" stroke-width="0.3">Fold change BNIP3</text>
<text transform="translate(360.3 219.0) rotate(-90)" font-size="5.70" text-anchor="middle" font-weight="normal" fill="#111" stroke="#111" stroke-width="0.3">(Ki67+ vs. Ki67−)</text>
<line x1="457.5" y1="179" x2="457.5" y2="256.3" stroke="#111" stroke-width="1.0"/>
<line x1="454.2" y1="181.5" x2="457.5" y2="181.5" stroke="#111" stroke-width="1.0"/>
<text transform="translate(450.59999999999997 184.0)" font-size="6.30" text-anchor="end" font-weight="normal" fill="#222" stroke="#222" stroke-width="0.1">4</text>
<line x1="454.2" y1="200.5" x2="457.5" y2="200.5" stroke="#111" stroke-width="1.0"/>
<text transform="translate(450.59999999999997 202.6)" font-size="6.30" text-anchor="end" font-weight="normal" fill="#222" stroke="#222" stroke-width="0.1">3</text>
<line x1="454.2" y1="219.5" x2="457.5" y2="219.5" stroke="#111" stroke-width="1.0"/>
<text transform="translate(450.59999999999997 221.20000000000002)" font-size="6.30" text-anchor="end" font-weight="normal" fill="#222" stroke="#222" stroke-width="0.1">2</text>
<line x1="454.2" y1="237.5" x2="457.5" y2="237.5" stroke="#111" stroke-width="1.0"/>
<text transform="translate(450.59999999999997 239.8)" font-size="6.30" text-anchor="end" font-weight="normal" fill="#222" stroke="#222" stroke-width="0.1">1</text>
<line x1="454.2" y1="256.5" x2="457.5" y2="256.5" stroke="#111" stroke-width="1.0"/>
<text transform="translate(450.59999999999997 258.40000000000003)" font-size="6.30" text-anchor="end" font-weight="normal" fill="#222" stroke="#222" stroke-width="0.1">0</text>
<line x1="457.4" y1="256.5" x2="489.9" y2="256.5" stroke="#111" stroke-width="1.0"/>
<line x1="467.5" y1="256.5" x2="467.5" y2="259.0" stroke="#111" stroke-width="1.0"/>
<line x1="482.5" y1="256.5" x2="482.5" y2="259.0" stroke="#111" stroke-width="1.0"/>
<text transform="translate(467.3 267.7) scale(0.88 1)" font-size="6.78" text-anchor="middle" font-weight="normal" fill="#111" stroke="#111" stroke-width="0.2">PB</text>
<text transform="translate(482.7 267.7) scale(0.88 1)" font-size="6.78" text-anchor="middle" font-weight="normal" fill="#111" stroke="#111" stroke-width="0.2">BM</text>
<path d="M467.3,208.1 V179.9 H482.7 V195.7" fill="none" stroke="#111" stroke-width="0.9"/>
<text transform="translate(475.0 180.1) scale(0.88 1)" font-size="6.21" text-anchor="middle" font-weight="normal" fill="#111" stroke="#111" stroke-width="0.2">*</text>
<path d="M467.48,212.00 L467.48,212.43 L467.48,212.85 L467.48,213.28 L467.48,213.71 L467.48,214.13 L467.48,214.56 L467.48,214.99 L467.48,215.42 L467.48,215.84 L467.48,216.27 L467.48,216.70 L467.48,217.12 L467.48,217.55 L467.48,217.98 L467.48,218.40 L467.52,218.83 L467.56,219.26 L467.61,219.69 L467.67,220.11 L467.74,220.54 L467.82,220.97 L467.90,221.39 L468.00,221.82 L468.11,222.25 L468.23,222.67 L468.36,223.10 L468.50,223.53 L468.65,223.96 L468.82,224.38 L468.99,224.81 L469.17,225.24 L469.35,225.66 L469.55,226.09 L469.74,226.52 L469.94,226.94 L470.13,227.37 L470.32,227.80 L470.50,228.22 L470.68,228.65 L470.84,229.08 L470.99,229.51 L471.12,229.93 L471.23,230.36 L471.33,230.79 L471.39,231.21 L471.44,231.64 L471.46,232.07 L471.46,232.49 L471.43,232.92 L471.39,233.35 L471.32,233.78 L471.24,234.20 L471.13,234.63 L471.02,235.06 L470.88,235.48 L470.74,235.91 L470.58,236.34 L470.42,236.76 L470.24,237.19 L470.07,237.62 L469.89,238.04 L469.71,238.47 L469.53,238.90 L469.36,239.33 L469.18,239.75 L469.02,240.18 L468.86,240.61 L468.71,241.03 L468.56,241.46 L468.43,241.89 L468.30,242.31 L468.19,242.74 L468.08,243.17 L467.99,243.60 L467.90,244.02 L467.82,244.45 L467.75,244.88 L467.68,245.30 L467.63,245.73 L467.58,246.16 L467.54,246.58 L467.50,247.01 L467.48,247.44 L467.48,247.87 L467.48,248.29 L467.48,248.72 L467.48,249.15 L467.48,249.57 L467.48,250.00 L467.12,250.00 L467.12,249.57 L467.12,249.15 L467.12,248.72 L467.12,248.29 L467.12,247.87 L467.12,247.44 L467.10,247.01 L467.06,246.58 L467.02,246.16 L466.97,245.73 L466.92,245.30 L466.85,244.88 L466.78,244.45 L466.70,244.02 L466.61,243.60 L466.52,243.17 L466.41,242.74 L466.30,242.31 L466.17,241.89 L466.04,241.46 L465.89,241.03 L465.74,240.61 L465.58,240.18 L465.42,239.75 L465.24,239.33 L465.07,238.90 L464.89,238.47 L464.71,238.04 L464.53,237.62 L464.36,237.19 L464.18,236.76 L464.02,236.34 L463.86,235.91 L463.72,235.48 L463.58,235.06 L463.47,234.63 L463.36,234.20 L463.28,233.78 L463.21,233.35 L463.17,232.92 L463.14,232.49 L463.14,232.07 L463.16,231.64 L463.21,231.21 L463.27,230.79 L463.37,230.36 L463.48,229.93 L463.61,229.51 L463.76,229.08 L463.92,228.65 L464.10,228.22 L464.28,227.80 L464.47,227.37 L464.66,226.94 L464.86,226.52 L465.05,226.09 L465.25,225.66 L465.43,225.24 L465.61,224.81 L465.78,224.38 L465.95,223.96 L466.10,223.53 L466.24,223.10 L466.37,222.67 L466.49,222.25 L466.60,221.82 L466.70,221.39 L466.78,220.97 L466.86,220.54 L466.93,220.11 L466.99,219.69 L467.04,219.26 L467.08,218.83 L467.12,218.40 L467.12,217.98 L467.12,217.55 L467.12,217.12 L467.12,216.70 L467.12,216.27 L467.12,215.84 L467.12,215.42 L467.12,214.99 L467.12,214.56 L467.12,214.13 L467.12,213.71 L467.12,213.28 L467.12,212.85 L467.12,212.43 L467.12,212.00 Z" fill="#6aae9a" stroke="#2a5248" stroke-width="0.7" stroke-linejoin="round"/>
<circle cx="467.30" cy="222" r="1.1" fill="#0a2c23"/>
<circle cx="467.90" cy="227" r="1.1" fill="#0a2c23"/>
<circle cx="466.50" cy="230" r="1.1" fill="#0a2c23"/>
<circle cx="465.70" cy="232.2" r="1.1" fill="#0a2c23"/>
<circle cx="468.90" cy="232.2" r="1.1" fill="#0a2c23"/>
<circle cx="467.70" cy="235" r="1.1" fill="#0a2c23"/>
<circle cx="467.30" cy="238" r="1.1" fill="#0a2c23"/>
<path d="M482.88,196.60 L482.88,197.18 L482.88,197.76 L482.88,198.33 L482.88,198.91 L482.88,199.49 L482.88,200.07 L482.88,200.64 L482.88,201.22 L482.88,201.80 L482.88,202.38 L482.88,202.95 L482.88,203.53 L482.88,204.11 L482.88,204.69 L482.88,205.26 L482.88,205.84 L482.88,206.42 L482.88,207.00 L482.91,207.57 L482.94,208.15 L482.98,208.73 L483.03,209.31 L483.08,209.88 L483.14,210.46 L483.20,211.04 L483.27,211.62 L483.34,212.19 L483.43,212.77 L483.52,213.35 L483.61,213.93 L483.72,214.50 L483.83,215.08 L483.95,215.66 L484.08,216.24 L484.21,216.81 L484.35,217.39 L484.50,217.97 L484.65,218.55 L484.80,219.12 L484.96,219.70 L485.11,220.28 L485.27,220.86 L485.43,221.43 L485.59,222.01 L485.74,222.59 L485.89,223.17 L486.03,223.74 L486.16,224.32 L486.28,224.90 L486.39,225.48 L486.49,226.05 L486.58,226.63 L486.65,227.21 L486.71,227.79 L486.75,228.36 L486.77,228.94 L486.78,229.52 L486.77,230.10 L486.72,230.67 L486.65,231.25 L486.56,231.83 L486.44,232.41 L486.30,232.98 L486.15,233.56 L485.98,234.14 L485.79,234.72 L485.60,235.29 L485.40,235.87 L485.19,236.45 L484.99,237.03 L484.79,237.60 L484.59,238.18 L484.40,238.76 L484.22,239.34 L484.05,239.91 L483.89,240.49 L483.74,241.07 L483.61,241.65 L483.48,242.22 L483.37,242.80 L483.27,243.38 L483.18,243.96 L483.11,244.53 L483.04,245.11 L482.98,245.69 L482.93,246.27 L482.89,246.84 L482.88,247.42 L482.88,248.00 L482.52,248.00 L482.52,247.42 L482.51,246.84 L482.47,246.27 L482.42,245.69 L482.36,245.11 L482.29,244.53 L482.22,243.96 L482.13,243.38 L482.03,242.80 L481.92,242.22 L481.79,241.65 L481.66,241.07 L481.51,240.49 L481.35,239.91 L481.18,239.34 L481.00,238.76 L480.81,238.18 L480.61,237.60 L480.41,237.03 L480.21,236.45 L480.00,235.87 L479.80,235.29 L479.61,234.72 L479.42,234.14 L479.25,233.56 L479.10,232.98 L478.96,232.41 L478.84,231.83 L478.75,231.25 L478.68,230.67 L478.63,230.10 L478.62,229.52 L478.63,228.94 L478.65,228.36 L478.69,227.79 L478.75,227.21 L478.82,226.63 L478.91,226.05 L479.01,225.48 L479.12,224.90 L479.24,224.32 L479.37,223.74 L479.51,223.17 L479.66,222.59 L479.81,222.01 L479.97,221.43 L480.13,220.86 L480.29,220.28 L480.44,219.70 L480.60,219.12 L480.75,218.55 L480.90,217.97 L481.05,217.39 L481.19,216.81 L481.32,216.24 L481.45,215.66 L481.57,215.08 L481.68,214.50 L481.79,213.93 L481.88,213.35 L481.97,212.77 L482.06,212.19 L482.13,211.62 L482.20,211.04 L482.26,210.46 L482.32,209.88 L482.37,209.31 L482.42,208.73 L482.46,208.15 L482.49,207.57 L482.52,207.00 L482.52,206.42 L482.52,205.84 L482.52,205.26 L482.52,204.69 L482.52,204.11 L482.52,203.53 L482.52,202.95 L482.52,202.38 L482.52,201.80 L482.52,201.22 L482.52,200.64 L482.52,200.07 L482.52,199.49 L482.52,198.91 L482.52,198.33 L482.52,197.76 L482.52,197.18 L482.52,196.60 Z" fill="#fac474" stroke="#e3943a" stroke-width="0.7" stroke-linejoin="round"/>
<circle cx="482.70" cy="211.7" r="1.1" fill="#8a4a0c"/>
<circle cx="482.70" cy="217.9" r="1.1" fill="#8a4a0c"/>
<circle cx="481.70" cy="226.8" r="1.1" fill="#8a4a0c"/>
<circle cx="483.90" cy="228.6" r="1.1" fill="#8a4a0c"/>
<circle cx="481.90" cy="231.3" r="1.1" fill="#8a4a0c"/>
<circle cx="483.70" cy="234" r="1.1" fill="#8a4a0c"/>
<circle cx="482.70" cy="238.4" r="1.1" fill="#8a4a0c"/>
<text transform="translate(431.8 219.8) rotate(-90)" font-size="5.70" text-anchor="middle" font-weight="normal" fill="#111" stroke="#111" stroke-width="0.3">Fold change BNIP3</text>
<text transform="translate(437.3 219.0) rotate(-90)" font-size="5.70" text-anchor="middle" font-weight="normal" fill="#111" stroke="#111" stroke-width="0.3">(Ki67+ vs. Ki67−)</text>
<text transform="translate(6.5 295.3)" font-size="11.20" text-anchor="start" font-weight="bold" fill="#000" stroke="#000" stroke-width="0.5">H</text>
<rect x="31.5" y="307.5" width="72.0" height="72.0" fill="#fff" stroke="#222" stroke-width="1"/>
<path d="M46.7,379.5 L46.70,379.49 L46.93,379.48 L47.17,379.47 L47.40,379.46 L47.63,379.44 L47.86,379.42 L48.10,379.39 L48.33,379.35 L48.56,379.30 L48.80,379.24 L49.03,379.15 L49.26,379.04 L49.49,378.90 L49.73,378.72 L49.96,378.50 L50.19,378.23 L50.43,377.89 L50.66,377.49 L50.89,377.00 L51.13,376.41 L51.36,375.72 L51.59,374.91 L51.82,373.97 L52.06,372.90 L52.29,371.68 L52.52,370.31 L52.76,368.78 L52.99,367.10 L53.22,365.27 L53.45,363.30 L53.69,361.20 L53.92,359.00 L54.15,356.72 L54.39,354.39 L54.62,352.04 L54.85,349.71 L55.08,347.43 L55.32,345.27 L55.55,343.24 L55.78,341.41 L56.02,339.80 L56.25,338.46 L56.48,337.40 L56.72,336.67 L56.95,336.27 L57.18,336.24 L57.41,336.73 L57.65,337.79 L57.88,339.37 L58.11,341.41 L58.35,343.83 L58.58,346.55 L58.81,349.47 L59.04,352.51 L59.28,355.56 L59.51,358.55 L59.74,361.42 L59.98,364.10 L60.21,366.56 L60.44,368.78 L60.67,370.73 L60.91,372.43 L61.14,373.87 L61.37,375.08 L61.61,376.08 L61.84,376.89 L62.07,377.53 L62.31,378.04 L62.54,378.43 L62.77,378.72 L63.00,378.94 L63.24,379.11 L63.47,379.23 L63.70,379.31 L63.94,379.37 L64.17,379.42 L64.40,379.44 L64.63,379.46 L64.87,379.48 L65.10,379.49 L65.1,379.5 Z" fill="#f9cd95" fill-opacity="1" stroke="none"/>
<path d="M46.7,379.5 L46.70,379.49 L46.93,379.48 L47.17,379.47 L47.40,379.46 L47.63,379.44 L47.86,379.42 L48.10,379.39 L48.33,379.35 L48.56,379.30 L48.80,379.24 L49.03,379.15 L49.26,379.04 L49.49,378.90 L49.73,378.72 L49.96,378.50 L50.19,378.23 L50.43,377.89 L50.66,377.49 L50.89,377.00 L51.13,376.41 L51.36,375.72 L51.59,374.91 L51.82,373.97 L52.06,372.90 L52.29,371.68 L52.52,370.31 L52.76,368.78 L52.99,367.10 L53.22,365.27 L53.45,363.30 L53.69,361.20 L53.92,359.00 L54.15,356.72 L54.39,354.39 L54.62,352.04 L54.85,349.71 L55.08,347.43 L55.32,345.27 L55.55,343.24 L55.78,341.41 L56.02,339.80 L56.25,338.46 L56.48,337.40 L56.72,336.67 L56.95,336.27 L57.18,336.24 L57.41,336.73 L57.65,337.79 L57.88,339.37 L58.11,341.41 L58.35,343.83 L58.58,346.55 L58.81,349.47 L59.04,352.51 L59.28,355.56 L59.51,358.55 L59.74,361.42 L59.98,364.10 L60.21,366.56 L60.44,368.78 L60.67,370.73 L60.91,372.43 L61.14,373.87 L61.37,375.08 L61.61,376.08 L61.84,376.89 L62.07,377.53 L62.31,378.04 L62.54,378.43 L62.77,378.72 L63.00,378.94 L63.24,379.11 L63.47,379.23 L63.70,379.31 L63.94,379.37 L64.17,379.42 L64.40,379.44 L64.63,379.46 L64.87,379.48 L65.10,379.49 L65.1,379.5" fill="none" stroke="#e8953a" stroke-width="0.7"/>
<path d="M50.8,356.1 L50.80,356.09 L51.02,356.08 L51.24,356.07 L51.45,356.06 L51.67,356.04 L51.89,356.02 L52.11,355.99 L52.32,355.95 L52.54,355.89 L52.76,355.82 L52.98,355.73 L53.19,355.62 L53.41,355.47 L53.63,355.28 L53.85,355.04 L54.07,354.75 L54.28,354.39 L54.50,353.96 L54.72,353.43 L54.94,352.81 L55.15,352.07 L55.37,351.21 L55.59,350.21 L55.81,349.06 L56.03,347.76 L56.24,346.30 L56.46,344.69 L56.68,342.91 L56.90,340.98 L57.11,338.91 L57.33,336.71 L57.55,334.42 L57.77,332.05 L57.98,329.64 L58.20,327.23 L58.42,324.86 L58.64,322.57 L58.86,320.41 L59.07,318.42 L59.29,316.64 L59.51,315.12 L59.73,313.89 L59.94,312.98 L60.16,312.42 L60.38,312.20 L60.60,312.38 L60.82,313.17 L61.03,314.48 L61.25,316.28 L61.47,318.49 L61.69,321.03 L61.90,323.81 L62.12,326.74 L62.34,329.74 L62.56,332.72 L62.77,335.60 L62.99,338.33 L63.21,340.86 L63.43,343.15 L63.65,345.18 L63.86,346.95 L64.08,348.47 L64.30,349.73 L64.52,350.77 L64.73,351.60 L64.95,352.25 L65.17,352.74 L65.39,353.11 L65.61,353.37 L65.82,353.55 L66.04,353.67 L66.26,353.74 L66.48,353.78 L66.69,353.80 L66.91,353.82 L67.13,353.83 L67.35,353.85 L67.56,353.87 L67.78,353.90 L68.00,353.95 L72.0,356.1 Z" fill="#9fd3c6" fill-opacity="0.6" stroke="none"/>
<path d="M50.8,356.1 L50.80,356.09 L51.02,356.08 L51.24,356.07 L51.45,356.06 L51.67,356.04 L51.89,356.02 L52.11,355.99 L52.32,355.95 L52.54,355.89 L52.76,355.82 L52.98,355.73 L53.19,355.62 L53.41,355.47 L53.63,355.28 L53.85,355.04 L54.07,354.75 L54.28,354.39 L54.50,353.96 L54.72,353.43 L54.94,352.81 L55.15,352.07 L55.37,351.21 L55.59,350.21 L55.81,349.06 L56.03,347.76 L56.24,346.30 L56.46,344.69 L56.68,342.91 L56.90,340.98 L57.11,338.91 L57.33,336.71 L57.55,334.42 L57.77,332.05 L57.98,329.64 L58.20,327.23 L58.42,324.86 L58.64,322.57 L58.86,320.41 L59.07,318.42 L59.29,316.64 L59.51,315.12 L59.73,313.89 L59.94,312.98 L60.16,312.42 L60.38,312.20 L60.60,312.38 L60.82,313.17 L61.03,314.48 L61.25,316.28 L61.47,318.49 L61.69,321.03 L61.90,323.81 L62.12,326.74 L62.34,329.74 L62.56,332.72 L62.77,335.60 L62.99,338.33 L63.21,340.86 L63.43,343.15 L63.65,345.18 L63.86,346.95 L64.08,348.47 L64.30,349.73 L64.52,350.77 L64.73,351.60 L64.95,352.25 L65.17,352.74 L65.39,353.11 L65.61,353.37 L65.82,353.55 L66.04,353.67 L66.26,353.74 L66.48,353.78 L66.69,353.80 L66.91,353.82 L67.13,353.83 L67.35,353.85 L67.56,353.87 L67.78,353.90 L68.00,353.95 L72.0,356.1" fill="none" stroke="#27705f" stroke-width="0.75"/>
<line x1="32.0" y1="356.1" x2="50.8" y2="356.1" stroke="#3d8a78" stroke-width="0.9"/>
<line x1="72.0" y1="356.1" x2="103.0" y2="356.1" stroke="#3d8a78" stroke-width="0.9"/>
<text transform="translate(89.6 314.3) scale(0.88 1)" font-size="7.01" text-anchor="start" font-weight="normal" fill="#4b9a86" stroke="#4b9a86" stroke-width="0.2" textLength="9.66" lengthAdjust="spacingAndGlyphs">PB</text>
<text transform="translate(89.6 361.9) scale(0.88 1)" font-size="7.01" text-anchor="start" font-weight="normal" fill="#f0a040" stroke="#f0a040" stroke-width="0.2" textLength="9.66" lengthAdjust="spacingAndGlyphs">BM</text>
<line x1="33.5" y1="379.5" x2="33.5" y2="380.8" stroke="#333" stroke-width="0.55"/>
<line x1="35.4" y1="379.5" x2="35.4" y2="380.8" stroke="#333" stroke-width="0.55"/>
<line x1="37.3" y1="379.5" x2="37.3" y2="380.8" stroke="#333" stroke-width="0.55"/>
<line x1="39.2" y1="379.5" x2="39.2" y2="380.8" stroke="#333" stroke-width="0.55"/>
<line x1="41.1" y1="379.5" x2="41.1" y2="381.6" stroke="#333" stroke-width="0.55"/>
<line x1="43.0" y1="379.5" x2="43.0" y2="380.8" stroke="#333" stroke-width="0.55"/>
<line x1="44.9" y1="379.5" x2="44.9" y2="380.8" stroke="#333" stroke-width="0.55"/>
<line x1="46.8" y1="379.5" x2="46.8" y2="380.8" stroke="#333" stroke-width="0.55"/>
<line x1="48.7" y1="379.5" x2="48.7" y2="380.8" stroke="#333" stroke-width="0.55"/>
<line x1="50.6" y1="379.5" x2="50.6" y2="381.6" stroke="#333" stroke-width="0.55"/>
<line x1="52.5" y1="379.5" x2="52.5" y2="380.8" stroke="#333" stroke-width="0.55"/>
<line x1="54.4" y1="379.5" x2="54.4" y2="380.8" stroke="#333" stroke-width="0.55"/>
<line x1="56.3" y1="379.5" x2="56.3" y2="380.8" stroke="#333" stroke-width="0.55"/>
<line x1="58.2" y1="379.5" x2="58.2" y2="380.8" stroke="#333" stroke-width="0.55"/>
<line x1="60.1" y1="379.5" x2="60.1" y2="381.6" stroke="#333" stroke-width="0.55"/>
<line x1="62.0" y1="379.5" x2="62.0" y2="380.8" stroke="#333" stroke-width="0.55"/>
<line x1="63.9" y1="379.5" x2="63.9" y2="380.8" stroke="#333" stroke-width="0.55"/>
<line x1="65.8" y1="379.5" x2="65.8" y2="380.8" stroke="#333" stroke-width="0.55"/>
<line x1="67.7" y1="379.5" x2="67.7" y2="380.8" stroke="#333" stroke-width="0.55"/>
<line x1="69.6" y1="379.5" x2="69.6" y2="381.6" stroke="#333" stroke-width="0.55"/>
<line x1="71.5" y1="379.5" x2="71.5" y2="380.8" stroke="#333" stroke-width="0.55"/>
<line x1="73.4" y1="379.5" x2="73.4" y2="380.8" stroke="#333" stroke-width="0.55"/>
<line x1="75.3" y1="379.5" x2="75.3" y2="380.8" stroke="#333" stroke-width="0.55"/>
<line x1="77.2" y1="379.5" x2="77.2" y2="380.8" stroke="#333" stroke-width="0.55"/>
<line x1="79.1" y1="379.5" x2="79.1" y2="381.6" stroke="#333" stroke-width="0.55"/>
<line x1="81.0" y1="379.5" x2="81.0" y2="380.8" stroke="#333" stroke-width="0.55"/>
<line x1="82.9" y1="379.5" x2="82.9" y2="380.8" stroke="#333" stroke-width="0.55"/>
<line x1="84.8" y1="379.5" x2="84.8" y2="380.8" stroke="#333" stroke-width="0.55"/>
<line x1="86.7" y1="379.5" x2="86.7" y2="380.8" stroke="#333" stroke-width="0.55"/>
<line x1="88.6" y1="379.5" x2="88.6" y2="381.6" stroke="#333" stroke-width="0.55"/>
<line x1="90.5" y1="379.5" x2="90.5" y2="380.8" stroke="#333" stroke-width="0.55"/>
<line x1="92.4" y1="379.5" x2="92.4" y2="380.8" stroke="#333" stroke-width="0.55"/>
<line x1="94.3" y1="379.5" x2="94.3" y2="380.8" stroke="#333" stroke-width="0.55"/>
<line x1="96.2" y1="379.5" x2="96.2" y2="380.8" stroke="#333" stroke-width="0.55"/>
<line x1="98.1" y1="379.5" x2="98.1" y2="381.6" stroke="#333" stroke-width="0.55"/>
<line x1="100.0" y1="379.5" x2="100.0" y2="380.8" stroke="#333" stroke-width="0.55"/>
<line x1="101.9" y1="379.5" x2="101.9" y2="380.8" stroke="#333" stroke-width="0.55"/>
<text transform="translate(24.4 344.5) rotate(-90) scale(0.88 1)" font-size="6.78" text-anchor="middle" font-weight="normal" fill="#111" stroke="#111" stroke-width="0.3">% of EM CD8<tspan font-size="3.8" dy="-2">+</tspan><tspan dy="2"> cells</tspan></text>
<text transform="translate(33.5 392.4)" font-size="6.60" text-anchor="start" font-weight="bold" fill="#222" textLength="13.50" lengthAdjust="spacingAndGlyphs">Rheb</text>
<line x1="49.4" y1="390.2" x2="89.8" y2="390.2" stroke="#111" stroke-width="0.9"/>
<path d="M88.3,388.3 L92.8,390.2 L88.3,392.1 Z" fill="#111"/>
<line x1="150.5" y1="302" x2="150.5" y2="389.7" stroke="#111" stroke-width="1.0"/>
<line x1="147.2" y1="304.5" x2="150.5" y2="304.5" stroke="#111" stroke-width="1.0"/>
<text transform="translate(144.89999999999998 306.90000000000003)" font-size="6.30" text-anchor="end" font-weight="normal" fill="#222" stroke="#222" stroke-width="0.1">200</text>
<line x1="147.2" y1="326.5" x2="150.5" y2="326.5" stroke="#111" stroke-width="1.0"/>
<text transform="translate(144.89999999999998 328.125)" font-size="6.30" text-anchor="end" font-weight="normal" fill="#222" stroke="#222" stroke-width="0.1">150</text>
<line x1="147.2" y1="347.5" x2="150.5" y2="347.5" stroke="#111" stroke-width="1.0"/>
<text transform="translate(144.89999999999998 349.35)" font-size="6.30" text-anchor="end" font-weight="normal" fill="#222" stroke="#222" stroke-width="0.1">100</text>
<line x1="147.2" y1="368.5" x2="150.5" y2="368.5" stroke="#111" stroke-width="1.0"/>
<text transform="translate(144.89999999999998 370.575)" font-size="6.30" text-anchor="end" font-weight="normal" fill="#222" stroke="#222" stroke-width="0.1">50</text>
<line x1="147.2" y1="389.5" x2="150.5" y2="389.5" stroke="#111" stroke-width="1.0"/>
<text transform="translate(144.89999999999998 391.8)" font-size="6.30" text-anchor="end" font-weight="normal" fill="#222" stroke="#222" stroke-width="0.1">0</text>
<line x1="150" y1="389.5" x2="234" y2="389.5" stroke="#111" stroke-width="1.0"/>
<line x1="158.5" y1="389.5" x2="158.5" y2="392.0" stroke="#111" stroke-width="1.0"/>
<line x1="179.5" y1="389.5" x2="179.5" y2="392.0" stroke="#111" stroke-width="1.0"/>
<line x1="202.5" y1="389.5" x2="202.5" y2="392.0" stroke="#111" stroke-width="1.0"/>
<line x1="224.5" y1="389.5" x2="224.5" y2="392.0" stroke="#111" stroke-width="1.0"/>
<text transform="translate(158.6 401.9) scale(0.88 1)" font-size="6.78" text-anchor="middle" font-weight="normal" fill="#111" stroke="#111" stroke-width="0.2">Naive</text>
<text transform="translate(180.4 401.9) scale(0.88 1)" font-size="6.78" text-anchor="middle" font-weight="normal" fill="#111" stroke="#111" stroke-width="0.2">CM</text>
<text transform="translate(202.6 401.9) scale(0.88 1)" font-size="6.78" text-anchor="middle" font-weight="normal" fill="#111" stroke="#111" stroke-width="0.2">EM</text>
<text transform="translate(224.6 401.9) scale(0.88 1)" font-size="6.78" text-anchor="middle" font-weight="normal" fill="#111" stroke="#111" stroke-width="0.2">EMRA</text>
<text transform="translate(120.9 345.5) rotate(-90) scale(0.88 1)" font-size="6.55" text-anchor="middle" font-weight="normal" fill="#111" stroke="#111" stroke-width="0.3">Rheb (normalised MFI)</text>
<path d="M154.58,331.40 L154.58,331.68 L154.58,331.96 L154.58,332.23 L154.58,332.51 L154.58,332.79 L154.58,333.07 L154.60,333.34 L154.62,333.62 L154.65,333.90 L154.68,334.18 L154.70,334.45 L154.74,334.73 L154.77,335.01 L154.81,335.29 L154.85,335.56 L154.90,335.84 L154.95,336.12 L155.00,336.40 L155.06,336.67 L155.12,336.95 L155.19,337.23 L155.26,337.51 L155.34,337.78 L155.42,338.06 L155.51,338.34 L155.60,338.62 L155.70,338.89 L155.81,339.17 L155.92,339.45 L156.03,339.73 L156.15,340.00 L156.27,340.28 L156.39,340.56 L156.51,340.84 L156.62,341.11 L156.72,341.39 L156.72,341.67 L156.65,341.95 L156.58,342.22 L156.50,342.50 L156.41,342.78 L156.33,343.06 L156.25,343.33 L156.16,343.61 L156.08,343.89 L156.00,344.17 L155.92,344.44 L155.85,344.72 L155.77,345.00 L155.70,345.28 L155.63,345.55 L155.56,345.83 L155.50,346.11 L155.44,346.39 L155.38,346.66 L155.32,346.94 L155.27,347.22 L155.22,347.50 L155.17,347.77 L155.12,348.05 L155.08,348.33 L155.04,348.61 L155.00,348.88 L154.96,349.16 L154.93,349.44 L154.89,349.72 L154.86,349.99 L154.83,350.27 L154.80,350.55 L154.78,350.83 L154.75,351.10 L154.73,351.38 L154.71,351.66 L154.69,351.94 L154.67,352.21 L154.65,352.49 L154.63,352.77 L154.62,353.05 L154.60,353.32 L154.59,353.60 L154.58,353.88 L154.58,354.16 L154.58,354.43 L154.58,354.71 L154.58,354.99 L154.58,355.27 L154.58,355.54 L154.58,355.82 L154.58,356.10 L154.22,356.10 L154.22,355.82 L154.22,355.54 L154.22,355.27 L154.22,354.99 L154.22,354.71 L154.22,354.43 L154.22,354.16 L154.22,353.88 L154.21,353.60 L154.20,353.32 L154.18,353.05 L154.17,352.77 L154.15,352.49 L154.13,352.21 L154.11,351.94 L154.09,351.66 L154.07,351.38 L154.05,351.10 L154.02,350.83 L154.00,350.55 L153.97,350.27 L153.94,349.99 L153.91,349.72 L153.87,349.44 L153.84,349.16 L153.80,348.88 L153.76,348.61 L153.72,348.33 L153.68,348.05 L153.63,347.77 L153.58,347.50 L153.53,347.22 L153.48,346.94 L153.42,346.66 L153.36,346.39 L153.30,346.11 L153.24,345.83 L153.17,345.55 L153.10,345.28 L153.03,345.00 L152.95,344.72 L152.88,344.44 L152.80,344.17 L152.72,343.89 L152.64,343.61 L152.55,343.33 L152.47,343.06 L152.39,342.78 L152.30,342.50 L152.22,342.22 L152.15,341.95 L152.08,341.67 L152.08,341.39 L152.18,341.11 L152.29,340.84 L152.41,340.56 L152.53,340.28 L152.65,340.00 L152.77,339.73 L152.88,339.45 L152.99,339.17 L153.10,338.89 L153.20,338.62 L153.29,338.34 L153.38,338.06 L153.46,337.78 L153.54,337.51 L153.61,337.23 L153.68,336.95 L153.74,336.67 L153.80,336.40 L153.85,336.12 L153.90,335.84 L153.95,335.56 L153.99,335.29 L154.03,335.01 L154.06,334.73 L154.10,334.45 L154.12,334.18 L154.15,333.90 L154.18,333.62 L154.20,333.34 L154.22,333.07 L154.22,332.79 L154.22,332.51 L154.22,332.23 L154.22,331.96 L154.22,331.68 L154.22,331.40 Z" fill="#6aae9a" stroke="#2a5248" stroke-width="0.7" stroke-linejoin="round"/>
<circle cx="154.40" cy="336" r="1.1" fill="#0a2c23"/>
<circle cx="155.20" cy="340" r="1.1" fill="#0a2c23"/>
<circle cx="153.60" cy="341.5" r="1.1" fill="#0a2c23"/>
<circle cx="155.00" cy="342.5" r="1.1" fill="#0a2c23"/>
<circle cx="153.80" cy="345" r="1.1" fill="#0a2c23"/>
<circle cx="154.40" cy="350" r="1.1" fill="#0a2c23"/>
<path d="M161.98,337.00 L161.98,337.25 L161.98,337.51 L161.98,337.76 L161.98,338.01 L161.98,338.26 L161.98,338.52 L161.98,338.77 L162.00,339.02 L162.02,339.28 L162.04,339.53 L162.07,339.78 L162.09,340.03 L162.12,340.29 L162.15,340.54 L162.19,340.79 L162.22,341.04 L162.26,341.30 L162.31,341.55 L162.35,341.80 L162.40,342.06 L162.45,342.31 L162.51,342.56 L162.57,342.81 L162.63,343.07 L162.70,343.32 L162.78,343.57 L162.85,343.83 L162.94,344.08 L163.02,344.33 L163.11,344.58 L163.21,344.84 L163.31,345.09 L163.41,345.34 L163.52,345.60 L163.62,345.85 L163.73,346.10 L163.84,346.35 L163.94,346.61 L164.03,346.86 L164.04,347.11 L163.97,347.37 L163.90,347.62 L163.82,347.87 L163.73,348.12 L163.64,348.38 L163.56,348.63 L163.47,348.88 L163.39,349.13 L163.31,349.39 L163.23,349.64 L163.15,349.89 L163.08,350.15 L163.01,350.40 L162.94,350.65 L162.87,350.90 L162.81,351.16 L162.75,351.41 L162.69,351.66 L162.63,351.92 L162.58,352.17 L162.53,352.42 L162.49,352.67 L162.44,352.93 L162.40,353.18 L162.36,353.43 L162.32,353.69 L162.29,353.94 L162.25,354.19 L162.22,354.44 L162.19,354.70 L162.17,354.95 L162.14,355.20 L162.12,355.46 L162.09,355.71 L162.07,355.96 L162.05,356.21 L162.04,356.47 L162.02,356.72 L162.00,356.97 L161.99,357.22 L161.98,357.48 L161.98,357.73 L161.98,357.98 L161.98,358.24 L161.98,358.49 L161.98,358.74 L161.98,358.99 L161.98,359.25 L161.98,359.50 L161.62,359.50 L161.62,359.25 L161.62,358.99 L161.62,358.74 L161.62,358.49 L161.62,358.24 L161.62,357.98 L161.62,357.73 L161.62,357.48 L161.61,357.22 L161.60,356.97 L161.58,356.72 L161.56,356.47 L161.55,356.21 L161.53,355.96 L161.51,355.71 L161.48,355.46 L161.46,355.20 L161.43,354.95 L161.41,354.70 L161.38,354.44 L161.35,354.19 L161.31,353.94 L161.28,353.69 L161.24,353.43 L161.20,353.18 L161.16,352.93 L161.11,352.67 L161.07,352.42 L161.02,352.17 L160.97,351.92 L160.91,351.66 L160.85,351.41 L160.79,351.16 L160.73,350.90 L160.66,350.65 L160.59,350.40 L160.52,350.15 L160.45,349.89 L160.37,349.64 L160.29,349.39 L160.21,349.13 L160.13,348.88 L160.04,348.63 L159.96,348.38 L159.87,348.12 L159.78,347.87 L159.70,347.62 L159.63,347.37 L159.56,347.11 L159.57,346.86 L159.66,346.61 L159.76,346.35 L159.87,346.10 L159.98,345.85 L160.08,345.60 L160.19,345.34 L160.29,345.09 L160.39,344.84 L160.49,344.58 L160.58,344.33 L160.66,344.08 L160.75,343.83 L160.82,343.57 L160.90,343.32 L160.97,343.07 L161.03,342.81 L161.09,342.56 L161.15,342.31 L161.20,342.06 L161.25,341.80 L161.29,341.55 L161.34,341.30 L161.38,341.04 L161.41,340.79 L161.45,340.54 L161.48,340.29 L161.51,340.03 L161.53,339.78 L161.56,339.53 L161.58,339.28 L161.60,339.02 L161.62,338.77 L161.62,338.52 L161.62,338.26 L161.62,338.01 L161.62,337.76 L161.62,337.51 L161.62,337.25 L161.62,337.00 Z" fill="#fac474" stroke="#e3943a" stroke-width="0.7" stroke-linejoin="round"/>
<circle cx="161.80" cy="341" r="1.1" fill="#8a4a0c"/>
<circle cx="162.50" cy="345" r="1.1" fill="#8a4a0c"/>
<circle cx="161.10" cy="347" r="1.1" fill="#8a4a0c"/>
<circle cx="162.40" cy="348.5" r="1.1" fill="#8a4a0c"/>
<circle cx="161.20" cy="352" r="1.1" fill="#8a4a0c"/>
<circle cx="161.80" cy="354" r="1.1" fill="#8a4a0c"/>
<path d="M176.58,321.30 L176.58,321.75 L176.58,322.21 L176.58,322.66 L176.58,323.12 L176.58,323.57 L176.58,324.02 L176.59,324.48 L176.60,324.93 L176.62,325.39 L176.63,325.84 L176.65,326.29 L176.67,326.75 L176.69,327.20 L176.71,327.66 L176.74,328.11 L176.76,328.56 L176.79,329.02 L176.81,329.47 L176.84,329.92 L176.88,330.38 L176.91,330.83 L176.94,331.29 L176.98,331.74 L177.02,332.19 L177.06,332.65 L177.11,333.10 L177.16,333.56 L177.21,334.01 L177.26,334.46 L177.31,334.92 L177.37,335.37 L177.43,335.83 L177.50,336.28 L177.56,336.73 L177.63,337.19 L177.71,337.64 L177.78,338.10 L177.86,338.55 L177.95,339.00 L178.03,339.46 L178.12,339.91 L178.21,340.37 L178.30,340.82 L178.40,341.27 L178.50,341.73 L178.59,342.18 L178.69,342.63 L178.79,343.09 L178.89,343.54 L178.98,344.00 L179.06,344.45 L179.12,344.90 L179.03,345.36 L178.90,345.81 L178.77,346.27 L178.63,346.72 L178.49,347.17 L178.36,347.63 L178.22,348.08 L178.10,348.54 L177.97,348.99 L177.86,349.44 L177.75,349.90 L177.64,350.35 L177.54,350.81 L177.45,351.26 L177.37,351.71 L177.29,352.17 L177.21,352.62 L177.14,353.08 L177.08,353.53 L177.02,353.98 L176.96,354.44 L176.91,354.89 L176.86,355.34 L176.82,355.80 L176.78,356.25 L176.75,356.71 L176.71,357.16 L176.68,357.61 L176.66,358.07 L176.63,358.52 L176.61,358.98 L176.59,359.43 L176.58,359.88 L176.58,360.34 L176.58,360.79 L176.58,361.25 L176.58,361.70 L176.22,361.70 L176.22,361.25 L176.22,360.79 L176.22,360.34 L176.22,359.88 L176.21,359.43 L176.19,358.98 L176.17,358.52 L176.14,358.07 L176.12,357.61 L176.09,357.16 L176.05,356.71 L176.02,356.25 L175.98,355.80 L175.94,355.34 L175.89,354.89 L175.84,354.44 L175.78,353.98 L175.72,353.53 L175.66,353.08 L175.59,352.62 L175.51,352.17 L175.43,351.71 L175.35,351.26 L175.26,350.81 L175.16,350.35 L175.05,349.90 L174.94,349.44 L174.83,348.99 L174.70,348.54 L174.58,348.08 L174.44,347.63 L174.31,347.17 L174.17,346.72 L174.03,346.27 L173.90,345.81 L173.77,345.36 L173.68,344.90 L173.74,344.45 L173.82,344.00 L173.91,343.54 L174.01,343.09 L174.11,342.63 L174.21,342.18 L174.30,341.73 L174.40,341.27 L174.50,340.82 L174.59,340.37 L174.68,339.91 L174.77,339.46 L174.85,339.00 L174.94,338.55 L175.02,338.10 L175.09,337.64 L175.17,337.19 L175.24,336.73 L175.30,336.28 L175.37,335.83 L175.43,335.37 L175.49,334.92 L175.54,334.46 L175.59,334.01 L175.64,333.56 L175.69,333.10 L175.74,332.65 L175.78,332.19 L175.82,331.74 L175.86,331.29 L175.89,330.83 L175.92,330.38 L175.96,329.92 L175.99,329.47 L176.01,329.02 L176.04,328.56 L176.06,328.11 L176.09,327.66 L176.11,327.20 L176.13,326.75 L176.15,326.29 L176.17,325.84 L176.18,325.39 L176.20,324.93 L176.21,324.48 L176.22,324.02 L176.22,323.57 L176.22,323.12 L176.22,322.66 L176.22,322.21 L176.22,321.75 L176.22,321.30 Z" fill="#6aae9a" stroke="#2a5248" stroke-width="0.7" stroke-linejoin="round"/>
<circle cx="176.40" cy="331" r="1.1" fill="#0a2c23"/>
<circle cx="177.00" cy="337" r="1.1" fill="#0a2c23"/>
<circle cx="175.80" cy="340" r="1.1" fill="#0a2c23"/>
<circle cx="177.20" cy="343" r="1.1" fill="#0a2c23"/>
<circle cx="175.90" cy="346" r="1.1" fill="#0a2c23"/>
<circle cx="176.80" cy="349" r="1.1" fill="#0a2c23"/>
<path d="M185.18,327.00 L185.18,327.34 L185.18,327.68 L185.18,328.02 L185.18,328.36 L185.18,328.70 L185.18,329.04 L185.19,329.38 L185.20,329.71 L185.22,330.05 L185.24,330.39 L185.27,330.73 L185.29,331.07 L185.32,331.41 L185.34,331.75 L185.37,332.09 L185.41,332.43 L185.44,332.77 L185.48,333.11 L185.52,333.45 L185.56,333.79 L185.61,334.13 L185.66,334.47 L185.71,334.80 L185.77,335.14 L185.83,335.48 L185.90,335.82 L185.96,336.16 L186.04,336.50 L186.11,336.84 L186.19,337.18 L186.28,337.52 L186.37,337.86 L186.46,338.20 L186.55,338.54 L186.65,338.88 L186.76,339.22 L186.86,339.56 L186.97,339.89 L187.07,340.23 L187.18,340.57 L187.28,340.91 L187.36,341.25 L187.40,341.59 L187.33,341.93 L187.24,342.27 L187.15,342.61 L187.05,342.95 L186.95,343.29 L186.85,343.63 L186.76,343.97 L186.66,344.31 L186.57,344.64 L186.48,344.98 L186.40,345.32 L186.31,345.66 L186.23,346.00 L186.16,346.34 L186.08,346.68 L186.01,347.02 L185.95,347.36 L185.89,347.70 L185.83,348.04 L185.77,348.38 L185.72,348.72 L185.67,349.06 L185.62,349.40 L185.58,349.73 L185.54,350.07 L185.50,350.41 L185.46,350.75 L185.43,351.09 L185.40,351.43 L185.37,351.77 L185.34,352.11 L185.31,352.45 L185.29,352.79 L185.27,353.13 L185.25,353.47 L185.23,353.81 L185.21,354.15 L185.19,354.49 L185.18,354.82 L185.18,355.16 L185.18,355.50 L185.18,355.84 L185.18,356.18 L185.18,356.52 L185.18,356.86 L185.18,357.20 L184.82,357.20 L184.82,356.86 L184.82,356.52 L184.82,356.18 L184.82,355.84 L184.82,355.50 L184.82,355.16 L184.82,354.82 L184.81,354.49 L184.79,354.15 L184.77,353.81 L184.75,353.47 L184.73,353.13 L184.71,352.79 L184.69,352.45 L184.66,352.11 L184.63,351.77 L184.60,351.43 L184.57,351.09 L184.54,350.75 L184.50,350.41 L184.46,350.07 L184.42,349.73 L184.38,349.40 L184.33,349.06 L184.28,348.72 L184.23,348.38 L184.17,348.04 L184.11,347.70 L184.05,347.36 L183.99,347.02 L183.92,346.68 L183.84,346.34 L183.77,346.00 L183.69,345.66 L183.60,345.32 L183.52,344.98 L183.43,344.64 L183.34,344.31 L183.24,343.97 L183.15,343.63 L183.05,343.29 L182.95,342.95 L182.85,342.61 L182.76,342.27 L182.67,341.93 L182.60,341.59 L182.64,341.25 L182.72,340.91 L182.82,340.57 L182.93,340.23 L183.03,339.89 L183.14,339.56 L183.24,339.22 L183.35,338.88 L183.45,338.54 L183.54,338.20 L183.63,337.86 L183.72,337.52 L183.81,337.18 L183.89,336.84 L183.96,336.50 L184.04,336.16 L184.10,335.82 L184.17,335.48 L184.23,335.14 L184.29,334.80 L184.34,334.47 L184.39,334.13 L184.44,333.79 L184.48,333.45 L184.52,333.11 L184.56,332.77 L184.59,332.43 L184.63,332.09 L184.66,331.75 L184.68,331.41 L184.71,331.07 L184.73,330.73 L184.76,330.39 L184.78,330.05 L184.80,329.71 L184.81,329.38 L184.82,329.04 L184.82,328.70 L184.82,328.36 L184.82,328.02 L184.82,327.68 L184.82,327.34 L184.82,327.00 Z" fill="#fac474" stroke="#e3943a" stroke-width="0.7" stroke-linejoin="round"/>
<circle cx="185.00" cy="334" r="1.1" fill="#8a4a0c"/>
<circle cx="185.60" cy="338" r="1.1" fill="#8a4a0c"/>
<circle cx="184.40" cy="341" r="1.1" fill="#8a4a0c"/>
<circle cx="185.50" cy="345" r="1.1" fill="#8a4a0c"/>
<circle cx="184.50" cy="349" r="1.1" fill="#8a4a0c"/>
<path d="M198.58,337.00 L198.58,337.33 L198.58,337.66 L198.58,337.98 L198.58,338.31 L198.59,338.64 L198.62,338.97 L198.64,339.30 L198.68,339.62 L198.71,339.95 L198.75,340.28 L198.79,340.61 L198.84,340.94 L198.90,341.27 L198.96,341.59 L199.02,341.92 L199.09,342.25 L199.17,342.58 L199.26,342.91 L199.35,343.23 L199.45,343.56 L199.56,343.89 L199.68,344.22 L199.80,344.55 L199.93,344.87 L200.07,345.20 L200.22,345.53 L200.37,345.86 L200.52,346.19 L200.67,346.51 L200.81,346.84 L200.88,347.17 L200.82,347.50 L200.76,347.83 L200.68,348.16 L200.61,348.48 L200.53,348.81 L200.45,349.14 L200.37,349.47 L200.29,349.80 L200.21,350.12 L200.13,350.45 L200.05,350.78 L199.98,351.11 L199.91,351.44 L199.84,351.76 L199.77,352.09 L199.70,352.42 L199.64,352.75 L199.58,353.08 L199.52,353.40 L199.46,353.73 L199.41,354.06 L199.35,354.39 L199.30,354.72 L199.25,355.04 L199.21,355.37 L199.16,355.70 L199.12,356.03 L199.08,356.36 L199.04,356.69 L199.01,357.01 L198.97,357.34 L198.94,357.67 L198.91,358.00 L198.88,358.33 L198.85,358.65 L198.82,358.98 L198.80,359.31 L198.78,359.64 L198.75,359.97 L198.73,360.29 L198.71,360.62 L198.69,360.95 L198.67,361.28 L198.66,361.61 L198.64,361.93 L198.63,362.26 L198.61,362.59 L198.60,362.92 L198.59,363.25 L198.58,363.58 L198.58,363.90 L198.58,364.23 L198.58,364.56 L198.58,364.89 L198.58,365.22 L198.58,365.54 L198.58,365.87 L198.58,366.20 L198.22,366.20 L198.22,365.87 L198.22,365.54 L198.22,365.22 L198.22,364.89 L198.22,364.56 L198.22,364.23 L198.22,363.90 L198.22,363.58 L198.21,363.25 L198.20,362.92 L198.19,362.59 L198.17,362.26 L198.16,361.93 L198.14,361.61 L198.13,361.28 L198.11,360.95 L198.09,360.62 L198.07,360.29 L198.05,359.97 L198.02,359.64 L198.00,359.31 L197.98,358.98 L197.95,358.65 L197.92,358.33 L197.89,358.00 L197.86,357.67 L197.83,357.34 L197.79,357.01 L197.76,356.69 L197.72,356.36 L197.68,356.03 L197.64,355.70 L197.59,355.37 L197.55,355.04 L197.50,354.72 L197.45,354.39 L197.39,354.06 L197.34,353.73 L197.28,353.40 L197.22,353.08 L197.16,352.75 L197.10,352.42 L197.03,352.09 L196.96,351.76 L196.89,351.44 L196.82,351.11 L196.75,350.78 L196.67,350.45 L196.59,350.12 L196.51,349.80 L196.43,349.47 L196.35,349.14 L196.27,348.81 L196.19,348.48 L196.12,348.16 L196.04,347.83 L195.98,347.50 L195.92,347.17 L195.99,346.84 L196.13,346.51 L196.28,346.19 L196.43,345.86 L196.58,345.53 L196.73,345.20 L196.87,344.87 L197.00,344.55 L197.12,344.22 L197.24,343.89 L197.35,343.56 L197.45,343.23 L197.54,342.91 L197.63,342.58 L197.71,342.25 L197.78,341.92 L197.84,341.59 L197.90,341.27 L197.96,340.94 L198.01,340.61 L198.05,340.28 L198.09,339.95 L198.12,339.62 L198.16,339.30 L198.18,338.97 L198.21,338.64 L198.22,338.31 L198.22,337.98 L198.22,337.66 L198.22,337.33 L198.22,337.00 Z" fill="#6aae9a" stroke="#2a5248" stroke-width="0.7" stroke-linejoin="round"/>
<circle cx="198.40" cy="342" r="1.1" fill="#0a2c23"/>
<circle cx="199.10" cy="345" r="1.1" fill="#0a2c23"/>
<circle cx="197.70" cy="347" r="1.1" fill="#0a2c23"/>
<circle cx="198.90" cy="349" r="1.1" fill="#0a2c23"/>
<circle cx="197.90" cy="351" r="1.1" fill="#0a2c23"/>
<circle cx="198.40" cy="354" r="1.1" fill="#0a2c23"/>
<path d="M206.18,348.30 L206.18,348.43 L206.18,348.55 L206.18,348.68 L206.18,348.80 L206.18,348.93 L206.18,349.06 L206.18,349.18 L206.18,349.31 L206.18,349.43 L206.19,349.56 L206.20,349.68 L206.22,349.81 L206.24,349.94 L206.25,350.06 L206.27,350.19 L206.29,350.31 L206.31,350.44 L206.33,350.57 L206.36,350.69 L206.38,350.82 L206.41,350.94 L206.43,351.07 L206.46,351.19 L206.50,351.32 L206.53,351.45 L206.56,351.57 L206.60,351.70 L206.64,351.82 L206.68,351.95 L206.72,352.08 L206.77,352.20 L206.82,352.33 L206.86,352.45 L206.92,352.58 L206.97,352.70 L207.03,352.83 L207.09,352.96 L207.15,353.08 L207.21,353.21 L207.28,353.33 L207.35,353.46 L207.42,353.59 L207.50,353.71 L207.57,353.84 L207.65,353.96 L207.73,354.09 L207.81,354.21 L207.88,354.34 L207.96,354.47 L208.04,354.59 L208.12,354.72 L208.18,354.84 L208.24,354.97 L208.19,355.10 L208.09,355.22 L207.97,355.35 L207.86,355.47 L207.74,355.60 L207.62,355.72 L207.51,355.85 L207.40,355.98 L207.30,356.10 L207.20,356.23 L207.10,356.35 L207.01,356.48 L206.93,356.61 L206.85,356.73 L206.78,356.86 L206.71,356.98 L206.65,357.11 L206.59,357.23 L206.54,357.36 L206.49,357.49 L206.44,357.61 L206.40,357.74 L206.36,357.86 L206.33,357.99 L206.30,358.12 L206.27,358.24 L206.24,358.37 L206.22,358.49 L206.20,358.62 L206.18,358.74 L206.18,358.87 L206.18,359.00 L206.18,359.12 L206.18,359.25 L206.18,359.37 L206.18,359.50 L205.82,359.50 L205.82,359.37 L205.82,359.25 L205.82,359.12 L205.82,359.00 L205.82,358.87 L205.82,358.74 L205.80,358.62 L205.78,358.49 L205.76,358.37 L205.73,358.24 L205.70,358.12 L205.67,357.99 L205.64,357.86 L205.60,357.74 L205.56,357.61 L205.51,357.49 L205.46,357.36 L205.41,357.23 L205.35,357.11 L205.29,356.98 L205.22,356.86 L205.15,356.73 L205.07,356.61 L204.99,356.48 L204.90,356.35 L204.80,356.23 L204.70,356.10 L204.60,355.98 L204.49,355.85 L204.38,355.72 L204.26,355.60 L204.14,355.47 L204.03,355.35 L203.91,355.22 L203.81,355.10 L203.76,354.97 L203.82,354.84 L203.88,354.72 L203.96,354.59 L204.04,354.47 L204.12,354.34 L204.19,354.21 L204.27,354.09 L204.35,353.96 L204.43,353.84 L204.50,353.71 L204.58,353.59 L204.65,353.46 L204.72,353.33 L204.79,353.21 L204.85,353.08 L204.91,352.96 L204.97,352.83 L205.03,352.70 L205.08,352.58 L205.14,352.45 L205.18,352.33 L205.23,352.20 L205.28,352.08 L205.32,351.95 L205.36,351.82 L205.40,351.70 L205.44,351.57 L205.47,351.45 L205.50,351.32 L205.54,351.19 L205.57,351.07 L205.59,350.94 L205.62,350.82 L205.64,350.69 L205.67,350.57 L205.69,350.44 L205.71,350.31 L205.73,350.19 L205.75,350.06 L205.76,349.94 L205.78,349.81 L205.80,349.68 L205.81,349.56 L205.82,349.43 L205.82,349.31 L205.82,349.18 L205.82,349.06 L205.82,348.93 L205.82,348.80 L205.82,348.68 L205.82,348.55 L205.82,348.43 L205.82,348.30 Z" fill="#fac474" stroke="#e3943a" stroke-width="0.7" stroke-linejoin="round"/>
<circle cx="206.00" cy="350" r="1.1" fill="#8a4a0c"/>
<circle cx="206.80" cy="353" r="1.1" fill="#8a4a0c"/>
<circle cx="205.20" cy="355" r="1.1" fill="#8a4a0c"/>
<circle cx="206.70" cy="356" r="1.1" fill="#8a4a0c"/>
<circle cx="205.30" cy="357.5" r="1.1" fill="#8a4a0c"/>
<path d="M220.38,318.00 L220.38,318.64 L220.38,319.29 L220.39,319.93 L220.41,320.57 L220.43,321.21 L220.45,321.86 L220.47,322.50 L220.50,323.14 L220.52,323.78 L220.55,324.43 L220.58,325.07 L220.62,325.71 L220.66,326.36 L220.70,327.00 L220.74,327.64 L220.78,328.28 L220.83,328.93 L220.89,329.57 L220.94,330.21 L221.01,330.85 L221.07,331.50 L221.14,332.14 L221.22,332.78 L221.30,333.42 L221.38,334.07 L221.47,334.71 L221.57,335.35 L221.67,336.00 L221.78,336.64 L221.89,337.28 L222.01,337.92 L222.13,338.57 L222.26,339.21 L222.40,339.85 L222.54,340.49 L222.68,341.14 L222.83,341.78 L222.98,342.42 L223.14,343.07 L223.29,343.71 L223.44,344.35 L223.58,344.99 L223.70,345.64 L223.72,346.28 L223.61,346.92 L223.47,347.56 L223.33,348.21 L223.18,348.85 L223.04,349.49 L222.89,350.13 L222.75,350.78 L222.61,351.42 L222.47,352.06 L222.34,352.71 L222.21,353.35 L222.09,353.99 L221.97,354.63 L221.86,355.28 L221.75,355.92 L221.65,356.56 L221.55,357.20 L221.46,357.85 L221.37,358.49 L221.29,359.13 L221.22,359.78 L221.15,360.42 L221.08,361.06 L221.01,361.70 L220.95,362.35 L220.90,362.99 L220.85,363.63 L220.80,364.27 L220.75,364.92 L220.71,365.56 L220.67,366.20 L220.64,366.84 L220.60,367.49 L220.57,368.13 L220.54,368.77 L220.51,369.42 L220.49,370.06 L220.46,370.70 L220.44,371.34 L220.42,371.99 L220.41,372.63 L220.39,373.27 L220.38,373.91 L220.38,374.56 L220.38,375.20 L220.02,375.20 L220.02,374.56 L220.02,373.91 L220.01,373.27 L219.99,372.63 L219.98,371.99 L219.96,371.34 L219.94,370.70 L219.91,370.06 L219.89,369.42 L219.86,368.77 L219.83,368.13 L219.80,367.49 L219.76,366.84 L219.73,366.20 L219.69,365.56 L219.65,364.92 L219.60,364.27 L219.55,363.63 L219.50,362.99 L219.45,362.35 L219.39,361.70 L219.32,361.06 L219.25,360.42 L219.18,359.78 L219.11,359.13 L219.03,358.49 L218.94,357.85 L218.85,357.20 L218.75,356.56 L218.65,355.92 L218.54,355.28 L218.43,354.63 L218.31,353.99 L218.19,353.35 L218.06,352.71 L217.93,352.06 L217.79,351.42 L217.65,350.78 L217.51,350.13 L217.36,349.49 L217.22,348.85 L217.07,348.21 L216.93,347.56 L216.79,346.92 L216.68,346.28 L216.70,345.64 L216.82,344.99 L216.96,344.35 L217.11,343.71 L217.26,343.07 L217.42,342.42 L217.57,341.78 L217.72,341.14 L217.86,340.49 L218.00,339.85 L218.14,339.21 L218.27,338.57 L218.39,337.92 L218.51,337.28 L218.62,336.64 L218.73,336.00 L218.83,335.35 L218.93,334.71 L219.02,334.07 L219.10,333.42 L219.18,332.78 L219.26,332.14 L219.33,331.50 L219.39,330.85 L219.46,330.21 L219.51,329.57 L219.57,328.93 L219.62,328.28 L219.66,327.64 L219.70,327.00 L219.74,326.36 L219.78,325.71 L219.82,325.07 L219.85,324.43 L219.88,323.78 L219.90,323.14 L219.93,322.50 L219.95,321.86 L219.97,321.21 L219.99,320.57 L220.01,319.93 L220.02,319.29 L220.02,318.64 L220.02,318.00 Z" fill="#6aae9a" stroke="#2a5248" stroke-width="0.7" stroke-linejoin="round"/>
<circle cx="220.20" cy="334" r="1.1" fill="#0a2c23"/>
<circle cx="220.90" cy="340" r="1.1" fill="#0a2c23"/>
<circle cx="219.50" cy="343" r="1.1" fill="#0a2c23"/>
<circle cx="221.10" cy="347" r="1.1" fill="#0a2c23"/>
<circle cx="219.40" cy="352" r="1.1" fill="#0a2c23"/>
<circle cx="220.60" cy="356" r="1.1" fill="#0a2c23"/>
<path d="M228.68,341.50 L228.68,341.78 L228.68,342.06 L228.68,342.33 L228.68,342.61 L228.68,342.89 L228.68,343.17 L228.70,343.44 L228.72,343.72 L228.75,344.00 L228.78,344.28 L228.80,344.55 L228.84,344.83 L228.87,345.11 L228.91,345.39 L228.95,345.66 L229.00,345.94 L229.05,346.22 L229.10,346.50 L229.16,346.77 L229.22,347.05 L229.29,347.33 L229.36,347.61 L229.44,347.88 L229.52,348.16 L229.61,348.44 L229.70,348.72 L229.80,348.99 L229.91,349.27 L230.02,349.55 L230.13,349.83 L230.25,350.10 L230.37,350.38 L230.49,350.66 L230.61,350.94 L230.72,351.21 L230.82,351.49 L230.82,351.77 L230.75,352.05 L230.68,352.32 L230.60,352.60 L230.51,352.88 L230.43,353.16 L230.35,353.43 L230.26,353.71 L230.18,353.99 L230.10,354.27 L230.02,354.54 L229.95,354.82 L229.87,355.10 L229.80,355.38 L229.73,355.65 L229.66,355.93 L229.60,356.21 L229.54,356.49 L229.48,356.76 L229.42,357.04 L229.37,357.32 L229.32,357.60 L229.27,357.87 L229.22,358.15 L229.18,358.43 L229.14,358.71 L229.10,358.98 L229.06,359.26 L229.03,359.54 L228.99,359.82 L228.96,360.09 L228.93,360.37 L228.90,360.65 L228.88,360.93 L228.85,361.20 L228.83,361.48 L228.81,361.76 L228.79,362.04 L228.77,362.31 L228.75,362.59 L228.73,362.87 L228.72,363.15 L228.70,363.42 L228.69,363.70 L228.68,363.98 L228.68,364.26 L228.68,364.53 L228.68,364.81 L228.68,365.09 L228.68,365.37 L228.68,365.64 L228.68,365.92 L228.68,366.20 L228.32,366.20 L228.32,365.92 L228.32,365.64 L228.32,365.37 L228.32,365.09 L228.32,364.81 L228.32,364.53 L228.32,364.26 L228.32,363.98 L228.31,363.70 L228.30,363.42 L228.28,363.15 L228.27,362.87 L228.25,362.59 L228.23,362.31 L228.21,362.04 L228.19,361.76 L228.17,361.48 L228.15,361.20 L228.12,360.93 L228.10,360.65 L228.07,360.37 L228.04,360.09 L228.01,359.82 L227.97,359.54 L227.94,359.26 L227.90,358.98 L227.86,358.71 L227.82,358.43 L227.78,358.15 L227.73,357.87 L227.68,357.60 L227.63,357.32 L227.58,357.04 L227.52,356.76 L227.46,356.49 L227.40,356.21 L227.34,355.93 L227.27,355.65 L227.20,355.38 L227.13,355.10 L227.05,354.82 L226.98,354.54 L226.90,354.27 L226.82,353.99 L226.74,353.71 L226.65,353.43 L226.57,353.16 L226.49,352.88 L226.40,352.60 L226.32,352.32 L226.25,352.05 L226.18,351.77 L226.18,351.49 L226.28,351.21 L226.39,350.94 L226.51,350.66 L226.63,350.38 L226.75,350.10 L226.87,349.83 L226.98,349.55 L227.09,349.27 L227.20,348.99 L227.30,348.72 L227.39,348.44 L227.48,348.16 L227.56,347.88 L227.64,347.61 L227.71,347.33 L227.78,347.05 L227.84,346.77 L227.90,346.50 L227.95,346.22 L228.00,345.94 L228.05,345.66 L228.09,345.39 L228.13,345.11 L228.16,344.83 L228.20,344.55 L228.22,344.28 L228.25,344.00 L228.28,343.72 L228.30,343.44 L228.32,343.17 L228.32,342.89 L228.32,342.61 L228.32,342.33 L228.32,342.06 L228.32,341.78 L228.32,341.50 Z" fill="#fac474" stroke="#e3943a" stroke-width="0.7" stroke-linejoin="round"/>
<circle cx="228.50" cy="346" r="1.1" fill="#8a4a0c"/>
<circle cx="229.10" cy="349" r="1.1" fill="#8a4a0c"/>
<circle cx="227.90" cy="351" r="1.1" fill="#8a4a0c"/>
<circle cx="229.00" cy="353" r="1.1" fill="#8a4a0c"/>
<circle cx="228.00" cy="356" r="1.1" fill="#8a4a0c"/>
<circle cx="228.50" cy="361" r="1.1" fill="#8a4a0c"/>
<path d="M197.7,330.3 V309 H207.4 V341.5" fill="none" stroke="#111" stroke-width="0.9"/>
<text transform="translate(202.9 309.0) scale(0.88 1)" font-size="6.21" text-anchor="middle" font-weight="normal" fill="#111" stroke="#111" stroke-width="0.2">*</text>
<text transform="translate(250.1 295.3)" font-size="11.20" text-anchor="start" font-weight="bold" fill="#000" stroke="#000" stroke-width="1.1">I</text>
<rect x="269.0" y="308.5" width="69.5" height="71.0" fill="#fff" stroke="#222" stroke-width="1"/>
<path d="M283.2,379.5 L283.20,379.49 L283.43,379.48 L283.66,379.47 L283.88,379.46 L284.11,379.45 L284.34,379.43 L284.57,379.40 L284.79,379.37 L285.02,379.33 L285.25,379.27 L285.48,379.20 L285.71,379.11 L285.93,379.00 L286.16,378.86 L286.39,378.68 L286.62,378.47 L286.85,378.20 L287.07,377.88 L287.30,377.50 L287.53,377.04 L287.76,376.50 L287.98,375.87 L288.21,375.14 L288.44,374.29 L288.67,373.32 L288.90,372.23 L289.12,371.00 L289.35,369.64 L289.58,368.14 L289.81,366.50 L290.04,364.73 L290.26,362.84 L290.49,360.85 L290.72,358.76 L290.95,356.60 L291.17,354.40 L291.40,352.18 L291.63,349.97 L291.86,347.82 L292.09,345.74 L292.31,343.79 L292.54,341.99 L292.77,340.38 L293.00,338.99 L293.23,337.85 L293.45,336.98 L293.68,336.40 L293.91,336.12 L294.14,336.22 L294.36,336.98 L294.59,338.39 L294.82,340.38 L295.05,342.87 L295.28,345.74 L295.50,348.89 L295.73,352.18 L295.96,355.50 L296.19,358.76 L296.42,361.86 L296.64,364.73 L296.87,367.34 L297.10,369.64 L297.33,371.63 L297.55,373.32 L297.78,374.73 L298.01,375.87 L298.24,376.79 L298.47,377.50 L298.69,378.05 L298.92,378.47 L299.15,378.77 L299.38,379.00 L299.61,379.16 L299.83,379.27 L300.06,379.35 L300.29,379.40 L300.52,379.44 L300.74,379.46 L300.97,379.48 L301.20,379.49 L301.2,379.5 Z" fill="#f9cd95" fill-opacity="1" stroke="none"/>
<path d="M283.2,379.5 L283.20,379.49 L283.43,379.48 L283.66,379.47 L283.88,379.46 L284.11,379.45 L284.34,379.43 L284.57,379.40 L284.79,379.37 L285.02,379.33 L285.25,379.27 L285.48,379.20 L285.71,379.11 L285.93,379.00 L286.16,378.86 L286.39,378.68 L286.62,378.47 L286.85,378.20 L287.07,377.88 L287.30,377.50 L287.53,377.04 L287.76,376.50 L287.98,375.87 L288.21,375.14 L288.44,374.29 L288.67,373.32 L288.90,372.23 L289.12,371.00 L289.35,369.64 L289.58,368.14 L289.81,366.50 L290.04,364.73 L290.26,362.84 L290.49,360.85 L290.72,358.76 L290.95,356.60 L291.17,354.40 L291.40,352.18 L291.63,349.97 L291.86,347.82 L292.09,345.74 L292.31,343.79 L292.54,341.99 L292.77,340.38 L293.00,338.99 L293.23,337.85 L293.45,336.98 L293.68,336.40 L293.91,336.12 L294.14,336.22 L294.36,336.98 L294.59,338.39 L294.82,340.38 L295.05,342.87 L295.28,345.74 L295.50,348.89 L295.73,352.18 L295.96,355.50 L296.19,358.76 L296.42,361.86 L296.64,364.73 L296.87,367.34 L297.10,369.64 L297.33,371.63 L297.55,373.32 L297.78,374.73 L298.01,375.87 L298.24,376.79 L298.47,377.50 L298.69,378.05 L298.92,378.47 L299.15,378.77 L299.38,379.00 L299.61,379.16 L299.83,379.27 L300.06,379.35 L300.29,379.40 L300.52,379.44 L300.74,379.46 L300.97,379.48 L301.20,379.49 L301.2,379.5" fill="none" stroke="#e8953a" stroke-width="0.7"/>
<path d="M288.6,356 L288.60,355.99 L288.80,355.98 L288.99,355.97 L289.19,355.96 L289.39,355.94 L289.59,355.91 L289.78,355.88 L289.98,355.84 L290.18,355.78 L290.38,355.70 L290.57,355.60 L290.77,355.47 L290.97,355.30 L291.17,355.09 L291.36,354.82 L291.56,354.49 L291.76,354.08 L291.96,353.58 L292.15,352.98 L292.35,352.26 L292.55,351.42 L292.75,350.43 L292.94,349.29 L293.14,347.99 L293.34,346.52 L293.54,344.89 L293.73,343.08 L293.93,341.11 L294.13,338.99 L294.33,336.74 L294.52,334.39 L294.72,331.96 L294.92,329.50 L295.12,327.04 L295.31,324.63 L295.51,322.32 L295.71,320.16 L295.91,318.19 L296.10,316.47 L296.30,315.03 L296.50,313.92 L296.70,313.15 L296.89,312.76 L297.09,312.71 L297.29,313.19 L297.49,314.18 L297.68,315.62 L297.88,317.48 L298.08,319.68 L298.28,322.16 L298.47,324.84 L298.67,327.63 L298.87,330.47 L299.07,333.27 L299.26,335.99 L299.46,338.57 L299.66,340.96 L299.86,343.14 L300.05,345.09 L300.25,346.81 L300.45,348.29 L300.65,349.54 L300.84,350.58 L301.04,351.42 L301.24,352.10 L301.44,352.62 L301.63,353.02 L301.83,353.31 L302.03,353.51 L302.23,353.65 L302.42,353.73 L302.62,353.78 L302.82,353.80 L303.02,353.80 L303.21,353.79 L303.41,353.78 L303.61,353.78 L303.81,353.77 L304.00,353.78 L304.20,353.79 L308.2,356 Z" fill="#9fd3c6" fill-opacity="0.6" stroke="none"/>
<path d="M288.6,356 L288.60,355.99 L288.80,355.98 L288.99,355.97 L289.19,355.96 L289.39,355.94 L289.59,355.91 L289.78,355.88 L289.98,355.84 L290.18,355.78 L290.38,355.70 L290.57,355.60 L290.77,355.47 L290.97,355.30 L291.17,355.09 L291.36,354.82 L291.56,354.49 L291.76,354.08 L291.96,353.58 L292.15,352.98 L292.35,352.26 L292.55,351.42 L292.75,350.43 L292.94,349.29 L293.14,347.99 L293.34,346.52 L293.54,344.89 L293.73,343.08 L293.93,341.11 L294.13,338.99 L294.33,336.74 L294.52,334.39 L294.72,331.96 L294.92,329.50 L295.12,327.04 L295.31,324.63 L295.51,322.32 L295.71,320.16 L295.91,318.19 L296.10,316.47 L296.30,315.03 L296.50,313.92 L296.70,313.15 L296.89,312.76 L297.09,312.71 L297.29,313.19 L297.49,314.18 L297.68,315.62 L297.88,317.48 L298.08,319.68 L298.28,322.16 L298.47,324.84 L298.67,327.63 L298.87,330.47 L299.07,333.27 L299.26,335.99 L299.46,338.57 L299.66,340.96 L299.86,343.14 L300.05,345.09 L300.25,346.81 L300.45,348.29 L300.65,349.54 L300.84,350.58 L301.04,351.42 L301.24,352.10 L301.44,352.62 L301.63,353.02 L301.83,353.31 L302.03,353.51 L302.23,353.65 L302.42,353.73 L302.62,353.78 L302.82,353.80 L303.02,353.80 L303.21,353.79 L303.41,353.78 L303.61,353.78 L303.81,353.77 L304.00,353.78 L304.20,353.79 L308.2,356" fill="none" stroke="#27705f" stroke-width="0.75"/>
<line x1="269.5" y1="356" x2="288.6" y2="356" stroke="#3d8a78" stroke-width="0.9"/>
<line x1="308.2" y1="356" x2="338.0" y2="356" stroke="#3d8a78" stroke-width="0.9"/>
<text transform="translate(325.9 318.8) scale(0.88 1)" font-size="7.01" text-anchor="start" font-weight="normal" fill="#4b9a86" stroke="#4b9a86" stroke-width="0.2" textLength="9.66" lengthAdjust="spacingAndGlyphs">PB</text>
<text transform="translate(325.9 366.3) scale(0.88 1)" font-size="7.01" text-anchor="start" font-weight="normal" fill="#f0a040" stroke="#f0a040" stroke-width="0.2" textLength="9.66" lengthAdjust="spacingAndGlyphs">BM</text>
<line x1="271.0" y1="379.5" x2="271.0" y2="380.8" stroke="#333" stroke-width="0.55"/>
<line x1="272.9" y1="379.5" x2="272.9" y2="380.8" stroke="#333" stroke-width="0.55"/>
<line x1="274.8" y1="379.5" x2="274.8" y2="380.8" stroke="#333" stroke-width="0.55"/>
<line x1="276.7" y1="379.5" x2="276.7" y2="380.8" stroke="#333" stroke-width="0.55"/>
<line x1="278.6" y1="379.5" x2="278.6" y2="381.6" stroke="#333" stroke-width="0.55"/>
<line x1="280.5" y1="379.5" x2="280.5" y2="380.8" stroke="#333" stroke-width="0.55"/>
<line x1="282.4" y1="379.5" x2="282.4" y2="380.8" stroke="#333" stroke-width="0.55"/>
<line x1="284.3" y1="379.5" x2="284.3" y2="380.8" stroke="#333" stroke-width="0.55"/>
<line x1="286.2" y1="379.5" x2="286.2" y2="380.8" stroke="#333" stroke-width="0.55"/>
<line x1="288.1" y1="379.5" x2="288.1" y2="381.6" stroke="#333" stroke-width="0.55"/>
<line x1="290.0" y1="379.5" x2="290.0" y2="380.8" stroke="#333" stroke-width="0.55"/>
<line x1="291.9" y1="379.5" x2="291.9" y2="380.8" stroke="#333" stroke-width="0.55"/>
<line x1="293.8" y1="379.5" x2="293.8" y2="380.8" stroke="#333" stroke-width="0.55"/>
<line x1="295.7" y1="379.5" x2="295.7" y2="380.8" stroke="#333" stroke-width="0.55"/>
<line x1="297.6" y1="379.5" x2="297.6" y2="381.6" stroke="#333" stroke-width="0.55"/>
<line x1="299.5" y1="379.5" x2="299.5" y2="380.8" stroke="#333" stroke-width="0.55"/>
<line x1="301.4" y1="379.5" x2="301.4" y2="380.8" stroke="#333" stroke-width="0.55"/>
<line x1="303.3" y1="379.5" x2="303.3" y2="380.8" stroke="#333" stroke-width="0.55"/>
<line x1="305.2" y1="379.5" x2="305.2" y2="380.8" stroke="#333" stroke-width="0.55"/>
<line x1="307.1" y1="379.5" x2="307.1" y2="381.6" stroke="#333" stroke-width="0.55"/>
<line x1="309.0" y1="379.5" x2="309.0" y2="380.8" stroke="#333" stroke-width="0.55"/>
<line x1="310.9" y1="379.5" x2="310.9" y2="380.8" stroke="#333" stroke-width="0.55"/>
<line x1="312.8" y1="379.5" x2="312.8" y2="380.8" stroke="#333" stroke-width="0.55"/>
<line x1="314.7" y1="379.5" x2="314.7" y2="380.8" stroke="#333" stroke-width="0.55"/>
<line x1="316.6" y1="379.5" x2="316.6" y2="381.6" stroke="#333" stroke-width="0.55"/>
<line x1="318.5" y1="379.5" x2="318.5" y2="380.8" stroke="#333" stroke-width="0.55"/>
<line x1="320.4" y1="379.5" x2="320.4" y2="380.8" stroke="#333" stroke-width="0.55"/>
<line x1="322.3" y1="379.5" x2="322.3" y2="380.8" stroke="#333" stroke-width="0.55"/>
<line x1="324.2" y1="379.5" x2="324.2" y2="380.8" stroke="#333" stroke-width="0.55"/>
<line x1="326.1" y1="379.5" x2="326.1" y2="381.6" stroke="#333" stroke-width="0.55"/>
<line x1="328.0" y1="379.5" x2="328.0" y2="380.8" stroke="#333" stroke-width="0.55"/>
<line x1="329.9" y1="379.5" x2="329.9" y2="380.8" stroke="#333" stroke-width="0.55"/>
<line x1="331.8" y1="379.5" x2="331.8" y2="380.8" stroke="#333" stroke-width="0.55"/>
<line x1="333.7" y1="379.5" x2="333.7" y2="380.8" stroke="#333" stroke-width="0.55"/>
<line x1="335.6" y1="379.5" x2="335.6" y2="381.6" stroke="#333" stroke-width="0.55"/>
<text transform="translate(263.4 341.8) rotate(-90) scale(0.88 1)" font-size="6.78" text-anchor="middle" font-weight="normal" fill="#111" stroke="#111" stroke-width="0.3">% of EM CD8<tspan font-size="3.8" dy="-2">+</tspan><tspan dy="2"> cells</tspan></text>
<text transform="translate(270.7 392.4)" font-size="6.60" text-anchor="start" font-weight="bold" fill="#222" textLength="17.50" lengthAdjust="spacingAndGlyphs">c-Myc</text>
<line x1="290.3" y1="390.2" x2="332" y2="390.2" stroke="#111" stroke-width="0.9"/>
<path d="M330.5,388.3 L335,390.2 L330.5,392.1 Z" fill="#111"/>
<line x1="388.5" y1="300" x2="388.5" y2="390.5" stroke="#111" stroke-width="1.0"/>
<line x1="385.2" y1="304.5" x2="388.5" y2="304.5" stroke="#111" stroke-width="1.0"/>
<text transform="translate(382.9 306.20000000000005)" font-size="6.30" text-anchor="end" font-weight="normal" fill="#222" stroke="#222" stroke-width="0.1">1000</text>
<line x1="385.2" y1="320.5" x2="388.5" y2="320.5" stroke="#111" stroke-width="1.0"/>
<text transform="translate(382.9 322.58000000000004)" font-size="6.30" text-anchor="end" font-weight="normal" fill="#222" stroke="#222" stroke-width="0.1">800</text>
<line x1="385.2" y1="336.5" x2="388.5" y2="336.5" stroke="#111" stroke-width="1.0"/>
<text transform="translate(382.9 338.96000000000004)" font-size="6.30" text-anchor="end" font-weight="normal" fill="#222" stroke="#222" stroke-width="0.1">600</text>
<line x1="385.2" y1="353.5" x2="388.5" y2="353.5" stroke="#111" stroke-width="1.0"/>
<text transform="translate(382.9 355.34000000000003)" font-size="6.30" text-anchor="end" font-weight="normal" fill="#222" stroke="#222" stroke-width="0.1">400</text>
<line x1="385.2" y1="369.5" x2="388.5" y2="369.5" stroke="#111" stroke-width="1.0"/>
<text transform="translate(382.9 371.72)" font-size="6.30" text-anchor="end" font-weight="normal" fill="#222" stroke="#222" stroke-width="0.1">200</text>
<line x1="385.2" y1="386.5" x2="388.5" y2="386.5" stroke="#111" stroke-width="1.0"/>
<text transform="translate(382.9 388.1)" font-size="6.30" text-anchor="end" font-weight="normal" fill="#222" stroke="#222" stroke-width="0.1">0</text>
<line x1="388.4" y1="390.5" x2="473.5" y2="390.5" stroke="#111" stroke-width="1.0"/>
<line x1="398.5" y1="390.5" x2="398.5" y2="393.0" stroke="#111" stroke-width="1.0"/>
<line x1="420.5" y1="390.5" x2="420.5" y2="393.0" stroke="#111" stroke-width="1.0"/>
<line x1="443.5" y1="390.5" x2="443.5" y2="393.0" stroke="#111" stroke-width="1.0"/>
<line x1="465.5" y1="390.5" x2="465.5" y2="393.0" stroke="#111" stroke-width="1.0"/>
<text transform="translate(398.8 402.0) scale(0.88 1)" font-size="6.78" text-anchor="middle" font-weight="normal" fill="#111" stroke="#111" stroke-width="0.2">Naive</text>
<text transform="translate(420.3 402.0) scale(0.88 1)" font-size="6.78" text-anchor="middle" font-weight="normal" fill="#111" stroke="#111" stroke-width="0.2">CM</text>
<text transform="translate(442.8 402.0) scale(0.88 1)" font-size="6.78" text-anchor="middle" font-weight="normal" fill="#111" stroke="#111" stroke-width="0.2">EM</text>
<text transform="translate(465.6 402.0) scale(0.88 1)" font-size="6.78" text-anchor="middle" font-weight="normal" fill="#111" stroke="#111" stroke-width="0.2">EMRA</text>
<text transform="translate(362.6 345.7) rotate(-90) scale(0.88 1)" font-size="6.89" text-anchor="middle" font-weight="normal" fill="#111" stroke="#111" stroke-width="0.3">c-Myc (MFI)</text>
<line x1="389" y1="385.9" x2="474.5" y2="385.9" stroke="#111" stroke-width="0.9" stroke-dasharray="1.1 1.5"/>
<path d="M394.68,335.00 L394.68,335.43 L394.68,335.86 L394.68,336.29 L394.68,336.73 L394.68,337.16 L394.68,337.59 L394.68,338.02 L394.68,338.45 L394.70,338.88 L394.71,339.31 L394.73,339.75 L394.74,340.18 L394.76,340.61 L394.78,341.04 L394.80,341.47 L394.82,341.90 L394.84,342.33 L394.86,342.77 L394.89,343.20 L394.91,343.63 L394.94,344.06 L394.97,344.49 L395.00,344.92 L395.04,345.36 L395.07,345.79 L395.11,346.22 L395.14,346.65 L395.19,347.08 L395.23,347.51 L395.27,347.94 L395.32,348.38 L395.37,348.81 L395.42,349.24 L395.48,349.67 L395.53,350.10 L395.59,350.53 L395.66,350.96 L395.72,351.40 L395.79,351.83 L395.86,352.26 L395.93,352.69 L396.00,353.12 L396.08,353.55 L396.16,353.98 L396.24,354.42 L396.33,354.85 L396.41,355.28 L396.50,355.71 L396.59,356.14 L396.67,356.57 L396.76,357.00 L396.85,357.44 L396.93,357.87 L397.00,358.30 L397.06,358.73 L396.99,359.16 L396.86,359.59 L396.72,360.02 L396.58,360.46 L396.44,360.89 L396.30,361.32 L396.16,361.75 L396.03,362.18 L395.91,362.61 L395.80,363.04 L395.69,363.48 L395.58,363.91 L395.49,364.34 L395.40,364.77 L395.32,365.20 L395.24,365.63 L395.17,366.07 L395.11,366.50 L395.05,366.93 L395.00,367.36 L394.95,367.79 L394.90,368.22 L394.86,368.65 L394.83,369.09 L394.79,369.52 L394.76,369.95 L394.73,370.38 L394.71,370.81 L394.69,371.24 L394.68,371.67 L394.68,372.11 L394.68,372.54 L394.68,372.97 L394.68,373.40 L394.32,373.40 L394.32,372.97 L394.32,372.54 L394.32,372.11 L394.32,371.67 L394.31,371.24 L394.29,370.81 L394.27,370.38 L394.24,369.95 L394.21,369.52 L394.17,369.09 L394.14,368.65 L394.10,368.22 L394.05,367.79 L394.00,367.36 L393.95,366.93 L393.89,366.50 L393.83,366.07 L393.76,365.63 L393.68,365.20 L393.60,364.77 L393.51,364.34 L393.42,363.91 L393.31,363.48 L393.20,363.04 L393.09,362.61 L392.97,362.18 L392.84,361.75 L392.70,361.32 L392.56,360.89 L392.42,360.46 L392.28,360.02 L392.14,359.59 L392.01,359.16 L391.94,358.73 L392.00,358.30 L392.07,357.87 L392.15,357.44 L392.24,357.00 L392.33,356.57 L392.41,356.14 L392.50,355.71 L392.59,355.28 L392.67,354.85 L392.76,354.42 L392.84,353.98 L392.92,353.55 L393.00,353.12 L393.07,352.69 L393.14,352.26 L393.21,351.83 L393.28,351.40 L393.34,350.96 L393.41,350.53 L393.47,350.10 L393.52,349.67 L393.58,349.24 L393.63,348.81 L393.68,348.38 L393.73,347.94 L393.77,347.51 L393.81,347.08 L393.86,346.65 L393.89,346.22 L393.93,345.79 L393.96,345.36 L394.00,344.92 L394.03,344.49 L394.06,344.06 L394.09,343.63 L394.11,343.20 L394.14,342.77 L394.16,342.33 L394.18,341.90 L394.20,341.47 L394.22,341.04 L394.24,340.61 L394.26,340.18 L394.27,339.75 L394.29,339.31 L394.30,338.88 L394.32,338.45 L394.32,338.02 L394.32,337.59 L394.32,337.16 L394.32,336.73 L394.32,336.29 L394.32,335.86 L394.32,335.43 L394.32,335.00 Z" fill="#6aae9a" stroke="#2a5248" stroke-width="0.7" stroke-linejoin="round"/>
<circle cx="394.50" cy="342" r="1.1" fill="#0a2c23"/>
<circle cx="395.10" cy="350" r="1.1" fill="#0a2c23"/>
<circle cx="393.90" cy="355" r="1.1" fill="#0a2c23"/>
<circle cx="395.30" cy="358" r="1.1" fill="#0a2c23"/>
<circle cx="394.00" cy="361" r="1.1" fill="#0a2c23"/>
<circle cx="394.80" cy="364" r="1.1" fill="#0a2c23"/>
<path d="M403.08,352.00 L403.08,352.31 L403.08,352.62 L403.08,352.94 L403.08,353.25 L403.08,353.56 L403.09,353.87 L403.11,354.19 L403.13,354.50 L403.16,354.81 L403.18,355.12 L403.21,355.44 L403.25,355.75 L403.28,356.06 L403.32,356.37 L403.36,356.69 L403.41,357.00 L403.46,357.31 L403.52,357.62 L403.58,357.93 L403.64,358.25 L403.71,358.56 L403.78,358.87 L403.86,359.18 L403.95,359.50 L404.04,359.81 L404.14,360.12 L404.24,360.43 L404.34,360.75 L404.46,361.06 L404.57,361.37 L404.69,361.68 L404.82,362.00 L404.94,362.31 L405.07,362.62 L405.18,362.93 L405.29,363.24 L405.30,363.56 L405.23,363.87 L405.16,364.18 L405.07,364.49 L404.99,364.81 L404.90,365.12 L404.82,365.43 L404.73,365.74 L404.64,366.06 L404.56,366.37 L404.48,366.68 L404.40,366.99 L404.32,367.31 L404.25,367.62 L404.18,367.93 L404.11,368.24 L404.04,368.56 L403.98,368.87 L403.92,369.18 L403.86,369.49 L403.80,369.80 L403.75,370.12 L403.70,370.43 L403.65,370.74 L403.61,371.05 L403.56,371.37 L403.52,371.68 L403.48,371.99 L403.45,372.30 L403.41,372.62 L403.38,372.93 L403.35,373.24 L403.32,373.55 L403.29,373.87 L403.26,374.18 L403.24,374.49 L403.22,374.80 L403.20,375.11 L403.18,375.43 L403.16,375.74 L403.14,376.05 L403.12,376.36 L403.11,376.68 L403.09,376.99 L403.08,377.30 L403.08,377.61 L403.08,377.93 L403.08,378.24 L403.08,378.55 L403.08,378.86 L403.08,379.18 L403.08,379.49 L403.08,379.80 L402.72,379.80 L402.72,379.49 L402.72,379.18 L402.72,378.86 L402.72,378.55 L402.72,378.24 L402.72,377.93 L402.72,377.61 L402.72,377.30 L402.71,376.99 L402.69,376.68 L402.68,376.36 L402.66,376.05 L402.64,375.74 L402.62,375.43 L402.60,375.11 L402.58,374.80 L402.56,374.49 L402.54,374.18 L402.51,373.87 L402.48,373.55 L402.45,373.24 L402.42,372.93 L402.39,372.62 L402.35,372.30 L402.32,371.99 L402.28,371.68 L402.24,371.37 L402.19,371.05 L402.15,370.74 L402.10,370.43 L402.05,370.12 L402.00,369.80 L401.94,369.49 L401.88,369.18 L401.82,368.87 L401.76,368.56 L401.69,368.24 L401.62,367.93 L401.55,367.62 L401.48,367.31 L401.40,366.99 L401.32,366.68 L401.24,366.37 L401.16,366.06 L401.07,365.74 L400.98,365.43 L400.90,365.12 L400.81,364.81 L400.73,364.49 L400.64,364.18 L400.57,363.87 L400.50,363.56 L400.51,363.24 L400.62,362.93 L400.73,362.62 L400.86,362.31 L400.98,362.00 L401.11,361.68 L401.23,361.37 L401.34,361.06 L401.46,360.75 L401.56,360.43 L401.66,360.12 L401.76,359.81 L401.85,359.50 L401.94,359.18 L402.02,358.87 L402.09,358.56 L402.16,358.25 L402.22,357.93 L402.28,357.62 L402.34,357.31 L402.39,357.00 L402.44,356.69 L402.48,356.37 L402.52,356.06 L402.55,355.75 L402.59,355.44 L402.62,355.12 L402.64,354.81 L402.67,354.50 L402.69,354.19 L402.71,353.87 L402.72,353.56 L402.72,353.25 L402.72,352.94 L402.72,352.62 L402.72,352.31 L402.72,352.00 Z" fill="#fac474" stroke="#e3943a" stroke-width="0.7" stroke-linejoin="round"/>
<circle cx="402.90" cy="358" r="1.1" fill="#8a4a0c"/>
<circle cx="403.70" cy="361" r="1.1" fill="#8a4a0c"/>
<circle cx="402.10" cy="364" r="1.1" fill="#8a4a0c"/>
<circle cx="403.50" cy="366" r="1.1" fill="#8a4a0c"/>
<circle cx="402.50" cy="371" r="1.1" fill="#8a4a0c"/>
<circle cx="402.90" cy="374" r="1.1" fill="#8a4a0c"/>
<path d="M416.58,334.10 L416.58,334.61 L416.58,335.13 L416.58,335.64 L416.58,336.15 L416.58,336.67 L416.58,337.18 L416.59,337.69 L416.60,338.21 L416.62,338.72 L416.64,339.23 L416.65,339.75 L416.67,340.26 L416.70,340.78 L416.72,341.29 L416.74,341.80 L416.77,342.32 L416.80,342.83 L416.83,343.34 L416.86,343.86 L416.89,344.37 L416.93,344.88 L416.96,345.40 L417.00,345.91 L417.05,346.42 L417.09,346.94 L417.14,347.45 L417.19,347.96 L417.25,348.48 L417.30,348.99 L417.36,349.50 L417.42,350.02 L417.49,350.53 L417.56,351.04 L417.63,351.56 L417.71,352.07 L417.79,352.59 L417.87,353.10 L417.96,353.61 L418.04,354.13 L418.14,354.64 L418.23,355.15 L418.33,355.67 L418.43,356.18 L418.52,356.69 L418.62,357.21 L418.72,357.72 L418.82,358.23 L418.91,358.75 L419.00,359.26 L419.04,359.77 L418.95,360.29 L418.83,360.80 L418.71,361.31 L418.58,361.83 L418.46,362.34 L418.33,362.86 L418.21,363.37 L418.09,363.88 L417.97,364.40 L417.87,364.91 L417.76,365.42 L417.66,365.94 L417.57,366.45 L417.48,366.96 L417.40,367.48 L417.32,367.99 L417.25,368.50 L417.18,369.02 L417.12,369.53 L417.06,370.04 L417.00,370.56 L416.95,371.07 L416.90,371.58 L416.86,372.10 L416.82,372.61 L416.78,373.12 L416.75,373.64 L416.72,374.15 L416.69,374.67 L416.66,375.18 L416.64,375.69 L416.62,376.21 L416.60,376.72 L416.58,377.23 L416.58,377.75 L416.58,378.26 L416.58,378.77 L416.58,379.29 L416.58,379.80 L416.22,379.80 L416.22,379.29 L416.22,378.77 L416.22,378.26 L416.22,377.75 L416.22,377.23 L416.20,376.72 L416.18,376.21 L416.16,375.69 L416.14,375.18 L416.11,374.67 L416.08,374.15 L416.05,373.64 L416.02,373.12 L415.98,372.61 L415.94,372.10 L415.90,371.58 L415.85,371.07 L415.80,370.56 L415.74,370.04 L415.68,369.53 L415.62,369.02 L415.55,368.50 L415.48,367.99 L415.40,367.48 L415.32,366.96 L415.23,366.45 L415.14,365.94 L415.04,365.42 L414.93,364.91 L414.83,364.40 L414.71,363.88 L414.59,363.37 L414.47,362.86 L414.34,362.34 L414.22,361.83 L414.09,361.31 L413.97,360.80 L413.85,360.29 L413.76,359.77 L413.80,359.26 L413.89,358.75 L413.98,358.23 L414.08,357.72 L414.18,357.21 L414.28,356.69 L414.37,356.18 L414.47,355.67 L414.57,355.15 L414.66,354.64 L414.76,354.13 L414.84,353.61 L414.93,353.10 L415.01,352.59 L415.09,352.07 L415.17,351.56 L415.24,351.04 L415.31,350.53 L415.38,350.02 L415.44,349.50 L415.50,348.99 L415.55,348.48 L415.61,347.96 L415.66,347.45 L415.71,346.94 L415.75,346.42 L415.80,345.91 L415.84,345.40 L415.87,344.88 L415.91,344.37 L415.94,343.86 L415.97,343.34 L416.00,342.83 L416.03,342.32 L416.06,341.80 L416.08,341.29 L416.10,340.78 L416.13,340.26 L416.15,339.75 L416.16,339.23 L416.18,338.72 L416.20,338.21 L416.21,337.69 L416.22,337.18 L416.22,336.67 L416.22,336.15 L416.22,335.64 L416.22,335.13 L416.22,334.61 L416.22,334.10 Z" fill="#6aae9a" stroke="#2a5248" stroke-width="0.7" stroke-linejoin="round"/>
<circle cx="416.40" cy="339" r="1.1" fill="#0a2c23"/>
<circle cx="417.00" cy="352" r="1.1" fill="#0a2c23"/>
<circle cx="415.80" cy="356" r="1.1" fill="#0a2c23"/>
<circle cx="417.20" cy="360" r="1.1" fill="#0a2c23"/>
<circle cx="415.90" cy="362" r="1.1" fill="#0a2c23"/>
<circle cx="416.70" cy="365" r="1.1" fill="#0a2c23"/>
<path d="M425.08,350.60 L425.08,350.97 L425.08,351.34 L425.08,351.71 L425.08,352.08 L425.08,352.45 L425.08,352.82 L425.09,353.19 L425.11,353.56 L425.13,353.93 L425.15,354.30 L425.18,354.67 L425.20,355.04 L425.23,355.41 L425.26,355.78 L425.29,356.14 L425.33,356.51 L425.37,356.88 L425.41,357.25 L425.45,357.62 L425.50,357.99 L425.55,358.36 L425.60,358.73 L425.66,359.10 L425.72,359.47 L425.79,359.84 L425.86,360.21 L425.93,360.58 L426.01,360.95 L426.09,361.32 L426.18,361.69 L426.27,362.06 L426.36,362.43 L426.46,362.80 L426.57,363.17 L426.67,363.54 L426.78,363.91 L426.89,364.28 L427.00,364.65 L427.11,365.02 L427.22,365.39 L427.32,365.76 L427.38,366.13 L427.31,366.50 L427.23,366.87 L427.13,367.23 L427.04,367.60 L426.94,367.97 L426.84,368.34 L426.74,368.71 L426.64,369.08 L426.55,369.45 L426.46,369.82 L426.37,370.19 L426.28,370.56 L426.20,370.93 L426.12,371.30 L426.05,371.67 L425.98,372.04 L425.91,372.41 L425.84,372.78 L425.78,373.15 L425.72,373.52 L425.67,373.89 L425.62,374.26 L425.57,374.63 L425.52,375.00 L425.48,375.37 L425.44,375.74 L425.40,376.11 L425.36,376.48 L425.33,376.85 L425.30,377.22 L425.27,377.59 L425.24,377.96 L425.22,378.32 L425.19,378.69 L425.17,379.06 L425.15,379.43 L425.13,379.80 L425.11,380.17 L425.10,380.54 L425.08,380.91 L425.08,381.28 L425.08,381.65 L425.08,382.02 L425.08,382.39 L425.08,382.76 L425.08,383.13 L425.08,383.50 L424.72,383.50 L424.72,383.13 L424.72,382.76 L424.72,382.39 L424.72,382.02 L424.72,381.65 L424.72,381.28 L424.72,380.91 L424.70,380.54 L424.69,380.17 L424.67,379.80 L424.65,379.43 L424.63,379.06 L424.61,378.69 L424.58,378.32 L424.56,377.96 L424.53,377.59 L424.50,377.22 L424.47,376.85 L424.44,376.48 L424.40,376.11 L424.36,375.74 L424.32,375.37 L424.28,375.00 L424.23,374.63 L424.18,374.26 L424.13,373.89 L424.08,373.52 L424.02,373.15 L423.96,372.78 L423.89,372.41 L423.82,372.04 L423.75,371.67 L423.68,371.30 L423.60,370.93 L423.52,370.56 L423.43,370.19 L423.34,369.82 L423.25,369.45 L423.16,369.08 L423.06,368.71 L422.96,368.34 L422.86,367.97 L422.76,367.60 L422.67,367.23 L422.57,366.87 L422.49,366.50 L422.42,366.13 L422.48,365.76 L422.58,365.39 L422.69,365.02 L422.80,364.65 L422.91,364.28 L423.02,363.91 L423.13,363.54 L423.23,363.17 L423.34,362.80 L423.44,362.43 L423.53,362.06 L423.62,361.69 L423.71,361.32 L423.79,360.95 L423.87,360.58 L423.94,360.21 L424.01,359.84 L424.08,359.47 L424.14,359.10 L424.20,358.73 L424.25,358.36 L424.30,357.99 L424.35,357.62 L424.39,357.25 L424.43,356.88 L424.47,356.51 L424.51,356.14 L424.54,355.78 L424.57,355.41 L424.60,355.04 L424.62,354.67 L424.65,354.30 L424.67,353.93 L424.69,353.56 L424.71,353.19 L424.72,352.82 L424.72,352.45 L424.72,352.08 L424.72,351.71 L424.72,351.34 L424.72,350.97 L424.72,350.60 Z" fill="#fac474" stroke="#e3943a" stroke-width="0.7" stroke-linejoin="round"/>
<circle cx="424.90" cy="356" r="1.1" fill="#8a4a0c"/>
<circle cx="425.50" cy="360" r="1.1" fill="#8a4a0c"/>
<circle cx="424.30" cy="363" r="1.1" fill="#8a4a0c"/>
<circle cx="425.70" cy="366" r="1.1" fill="#8a4a0c"/>
<circle cx="424.40" cy="369" r="1.1" fill="#8a4a0c"/>
<circle cx="425.30" cy="372" r="1.1" fill="#8a4a0c"/>
<circle cx="424.90" cy="377" r="1.1" fill="#8a4a0c"/>
<path d="M438.58,307.50 L438.58,308.42 L438.58,309.33 L438.58,310.25 L438.58,311.16 L438.58,312.08 L438.58,312.99 L438.58,313.91 L438.58,314.83 L438.58,315.74 L438.58,316.66 L438.58,317.57 L438.58,318.49 L438.58,319.40 L438.58,320.32 L438.58,321.24 L438.58,322.15 L438.58,323.07 L438.58,323.98 L438.58,324.90 L438.58,325.81 L438.58,326.73 L438.58,327.65 L438.58,328.56 L438.58,329.48 L438.58,330.39 L438.61,331.31 L438.64,332.22 L438.68,333.14 L438.73,334.06 L438.78,334.97 L438.84,335.89 L438.91,336.80 L438.98,337.72 L439.06,338.63 L439.14,339.55 L439.23,340.47 L439.33,341.38 L439.44,342.30 L439.55,343.21 L439.66,344.13 L439.79,345.04 L439.91,345.96 L440.04,346.88 L440.17,347.79 L440.31,348.71 L440.44,349.62 L440.57,350.54 L440.70,351.46 L440.83,352.37 L440.94,353.29 L441.05,354.20 L441.16,355.12 L441.25,356.03 L441.33,356.95 L441.39,357.87 L441.45,358.78 L441.49,359.70 L441.51,360.61 L441.52,361.53 L441.50,362.44 L441.45,363.36 L441.37,364.28 L441.25,365.19 L441.11,366.11 L440.95,367.02 L440.76,367.94 L440.57,368.85 L440.37,369.77 L440.16,370.69 L439.96,371.60 L439.77,372.52 L439.58,373.43 L439.41,374.35 L439.26,375.26 L439.12,376.18 L438.99,377.10 L438.88,378.01 L438.79,378.93 L438.71,379.84 L438.65,380.76 L438.59,381.67 L438.58,382.59 L438.58,383.51 L438.58,384.42 L438.58,385.34 L438.58,386.25 L438.58,387.17 L438.58,388.08 L438.58,389.00 L438.22,389.00 L438.22,388.08 L438.22,387.17 L438.22,386.25 L438.22,385.34 L438.22,384.42 L438.22,383.51 L438.22,382.59 L438.21,381.67 L438.15,380.76 L438.09,379.84 L438.01,378.93 L437.92,378.01 L437.81,377.10 L437.68,376.18 L437.54,375.26 L437.39,374.35 L437.22,373.43 L437.03,372.52 L436.84,371.60 L436.64,370.69 L436.43,369.77 L436.23,368.85 L436.04,367.94 L435.85,367.02 L435.69,366.11 L435.55,365.19 L435.43,364.28 L435.35,363.36 L435.30,362.44 L435.28,361.53 L435.29,360.61 L435.31,359.70 L435.35,358.78 L435.41,357.87 L435.47,356.95 L435.55,356.03 L435.64,355.12 L435.75,354.20 L435.86,353.29 L435.97,352.37 L436.10,351.46 L436.23,350.54 L436.36,349.62 L436.49,348.71 L436.63,347.79 L436.76,346.88 L436.89,345.96 L437.01,345.04 L437.14,344.13 L437.25,343.21 L437.36,342.30 L437.47,341.38 L437.57,340.47 L437.66,339.55 L437.74,338.63 L437.82,337.72 L437.89,336.80 L437.96,335.89 L438.02,334.97 L438.07,334.06 L438.12,333.14 L438.16,332.22 L438.19,331.31 L438.22,330.39 L438.22,329.48 L438.22,328.56 L438.22,327.65 L438.22,326.73 L438.22,325.81 L438.22,324.90 L438.22,323.98 L438.22,323.07 L438.22,322.15 L438.22,321.24 L438.22,320.32 L438.22,319.40 L438.22,318.49 L438.22,317.57 L438.22,316.66 L438.22,315.74 L438.22,314.83 L438.22,313.91 L438.22,312.99 L438.22,312.08 L438.22,311.16 L438.22,310.25 L438.22,309.33 L438.22,308.42 L438.22,307.50 Z" fill="#6aae9a" stroke="#2a5248" stroke-width="0.7" stroke-linejoin="round"/>
<circle cx="438.40" cy="316" r="1.1" fill="#0a2c23"/>
<circle cx="438.40" cy="334" r="1.1" fill="#0a2c23"/>
<circle cx="439.00" cy="350" r="1.1" fill="#0a2c23"/>
<circle cx="437.80" cy="357" r="1.1" fill="#0a2c23"/>
<circle cx="439.10" cy="361" r="1.1" fill="#0a2c23"/>
<circle cx="437.90" cy="364" r="1.1" fill="#0a2c23"/>
<circle cx="438.40" cy="369" r="1.1" fill="#0a2c23"/>
<path d="M446.98,351.50 L446.98,351.83 L446.98,352.16 L446.98,352.49 L446.98,352.82 L446.98,353.15 L446.98,353.48 L446.99,353.80 L447.01,354.13 L447.03,354.46 L447.05,354.79 L447.07,355.12 L447.10,355.45 L447.12,355.78 L447.15,356.11 L447.18,356.44 L447.21,356.77 L447.25,357.10 L447.29,357.43 L447.33,357.76 L447.37,358.08 L447.42,358.41 L447.47,358.74 L447.52,359.07 L447.57,359.40 L447.63,359.73 L447.70,360.06 L447.76,360.39 L447.84,360.72 L447.91,361.05 L447.99,361.38 L448.07,361.71 L448.16,362.03 L448.25,362.36 L448.35,362.69 L448.45,363.02 L448.55,363.35 L448.65,363.68 L448.76,364.01 L448.87,364.34 L448.98,364.67 L449.09,365.00 L449.19,365.33 L449.29,365.66 L449.36,365.99 L449.30,366.31 L449.20,366.64 L449.10,366.97 L449.00,367.30 L448.89,367.63 L448.78,367.96 L448.68,368.29 L448.57,368.62 L448.47,368.95 L448.38,369.28 L448.28,369.61 L448.19,369.94 L448.10,370.27 L448.02,370.59 L447.94,370.92 L447.87,371.25 L447.79,371.58 L447.73,371.91 L447.66,372.24 L447.60,372.57 L447.55,372.90 L447.49,373.23 L447.44,373.56 L447.40,373.89 L447.35,374.22 L447.31,374.54 L447.27,374.87 L447.24,375.20 L447.20,375.53 L447.17,375.86 L447.14,376.19 L447.12,376.52 L447.09,376.85 L447.07,377.18 L447.05,377.51 L447.03,377.84 L447.01,378.17 L446.99,378.50 L446.98,378.82 L446.98,379.15 L446.98,379.48 L446.98,379.81 L446.98,380.14 L446.98,380.47 L446.98,380.80 L446.62,380.80 L446.62,380.47 L446.62,380.14 L446.62,379.81 L446.62,379.48 L446.62,379.15 L446.62,378.82 L446.61,378.50 L446.59,378.17 L446.57,377.84 L446.55,377.51 L446.53,377.18 L446.51,376.85 L446.48,376.52 L446.46,376.19 L446.43,375.86 L446.40,375.53 L446.36,375.20 L446.33,374.87 L446.29,374.54 L446.25,374.22 L446.20,373.89 L446.16,373.56 L446.11,373.23 L446.05,372.90 L446.00,372.57 L445.94,372.24 L445.87,371.91 L445.81,371.58 L445.73,371.25 L445.66,370.92 L445.58,370.59 L445.50,370.27 L445.41,369.94 L445.32,369.61 L445.22,369.28 L445.13,368.95 L445.03,368.62 L444.92,368.29 L444.82,367.96 L444.71,367.63 L444.60,367.30 L444.50,366.97 L444.40,366.64 L444.30,366.31 L444.24,365.99 L444.31,365.66 L444.41,365.33 L444.51,365.00 L444.62,364.67 L444.73,364.34 L444.84,364.01 L444.95,363.68 L445.05,363.35 L445.15,363.02 L445.25,362.69 L445.35,362.36 L445.44,362.03 L445.53,361.71 L445.61,361.38 L445.69,361.05 L445.76,360.72 L445.84,360.39 L445.90,360.06 L445.97,359.73 L446.03,359.40 L446.08,359.07 L446.13,358.74 L446.18,358.41 L446.23,358.08 L446.27,357.76 L446.31,357.43 L446.35,357.10 L446.39,356.77 L446.42,356.44 L446.45,356.11 L446.48,355.78 L446.50,355.45 L446.53,355.12 L446.55,354.79 L446.57,354.46 L446.59,354.13 L446.61,353.80 L446.62,353.48 L446.62,353.15 L446.62,352.82 L446.62,352.49 L446.62,352.16 L446.62,351.83 L446.62,351.50 Z" fill="#fac474" stroke="#e3943a" stroke-width="0.7" stroke-linejoin="round"/>
<circle cx="446.80" cy="355" r="1.1" fill="#8a4a0c"/>
<circle cx="447.50" cy="360" r="1.1" fill="#8a4a0c"/>
<circle cx="446.10" cy="364" r="1.1" fill="#8a4a0c"/>
<circle cx="447.40" cy="367" r="1.1" fill="#8a4a0c"/>
<circle cx="446.30" cy="370" r="1.1" fill="#8a4a0c"/>
<circle cx="446.80" cy="374" r="1.1" fill="#8a4a0c"/>
<path d="M460.48,338.70 L460.48,339.18 L460.48,339.67 L460.48,340.15 L460.48,340.63 L460.48,341.12 L460.48,341.60 L460.50,342.08 L460.52,342.57 L460.53,343.05 L460.56,343.53 L460.58,344.01 L460.60,344.50 L460.63,344.98 L460.65,345.46 L460.68,345.95 L460.72,346.43 L460.75,346.91 L460.79,347.40 L460.82,347.88 L460.87,348.36 L460.91,348.85 L460.96,349.33 L461.01,349.81 L461.06,350.30 L461.12,350.78 L461.18,351.26 L461.25,351.74 L461.32,352.23 L461.39,352.71 L461.46,353.19 L461.54,353.68 L461.63,354.16 L461.72,354.64 L461.81,355.13 L461.91,355.61 L462.01,356.09 L462.11,356.58 L462.21,357.06 L462.32,357.54 L462.43,358.03 L462.54,358.51 L462.65,358.99 L462.76,359.48 L462.86,359.96 L462.94,360.44 L462.91,360.92 L462.82,361.41 L462.71,361.89 L462.60,362.37 L462.49,362.86 L462.37,363.34 L462.26,363.82 L462.15,364.31 L462.04,364.79 L461.93,365.27 L461.83,365.76 L461.74,366.24 L461.64,366.72 L461.56,367.21 L461.47,367.69 L461.39,368.17 L461.32,368.66 L461.25,369.14 L461.18,369.62 L461.12,370.10 L461.06,370.59 L461.00,371.07 L460.95,371.55 L460.90,372.04 L460.85,372.52 L460.81,373.00 L460.77,373.49 L460.74,373.97 L460.70,374.45 L460.67,374.94 L460.64,375.42 L460.61,375.90 L460.59,376.39 L460.56,376.87 L460.54,377.35 L460.52,377.83 L460.50,378.32 L460.49,378.80 L460.48,379.28 L460.48,379.77 L460.48,380.25 L460.48,380.73 L460.48,381.22 L460.48,381.70 L460.12,381.70 L460.12,381.22 L460.12,380.73 L460.12,380.25 L460.12,379.77 L460.12,379.28 L460.11,378.80 L460.10,378.32 L460.08,377.83 L460.06,377.35 L460.04,376.87 L460.01,376.39 L459.99,375.90 L459.96,375.42 L459.93,374.94 L459.90,374.45 L459.86,373.97 L459.83,373.49 L459.79,373.00 L459.75,372.52 L459.70,372.04 L459.65,371.55 L459.60,371.07 L459.54,370.59 L459.48,370.10 L459.42,369.62 L459.35,369.14 L459.28,368.66 L459.21,368.17 L459.13,367.69 L459.04,367.21 L458.96,366.72 L458.86,366.24 L458.77,365.76 L458.67,365.27 L458.56,364.79 L458.45,364.31 L458.34,363.82 L458.23,363.34 L458.11,362.86 L458.00,362.37 L457.89,361.89 L457.78,361.41 L457.69,360.92 L457.66,360.44 L457.74,359.96 L457.84,359.48 L457.95,358.99 L458.06,358.51 L458.17,358.03 L458.28,357.54 L458.39,357.06 L458.49,356.58 L458.59,356.09 L458.69,355.61 L458.79,355.13 L458.88,354.64 L458.97,354.16 L459.06,353.68 L459.14,353.19 L459.21,352.71 L459.28,352.23 L459.35,351.74 L459.42,351.26 L459.48,350.78 L459.54,350.30 L459.59,349.81 L459.64,349.33 L459.69,348.85 L459.73,348.36 L459.78,347.88 L459.81,347.40 L459.85,346.91 L459.88,346.43 L459.92,345.95 L459.95,345.46 L459.97,344.98 L460.00,344.50 L460.02,344.01 L460.04,343.53 L460.07,343.05 L460.08,342.57 L460.10,342.08 L460.12,341.60 L460.12,341.12 L460.12,340.63 L460.12,340.15 L460.12,339.67 L460.12,339.18 L460.12,338.70 Z" fill="#6aae9a" stroke="#2a5248" stroke-width="0.7" stroke-linejoin="round"/>
<circle cx="460.30" cy="345" r="1.1" fill="#0a2c23"/>
<circle cx="460.90" cy="351" r="1.1" fill="#0a2c23"/>
<circle cx="459.70" cy="355" r="1.1" fill="#0a2c23"/>
<circle cx="461.10" cy="359" r="1.1" fill="#0a2c23"/>
<circle cx="459.80" cy="362" r="1.1" fill="#0a2c23"/>
<circle cx="460.60" cy="365" r="1.1" fill="#0a2c23"/>
<path d="M469.28,354.30 L469.28,354.59 L469.28,354.87 L469.28,355.16 L469.28,355.45 L469.28,355.73 L469.29,356.02 L469.31,356.31 L469.33,356.59 L469.35,356.88 L469.38,357.17 L469.41,357.45 L469.44,357.74 L469.47,358.02 L469.51,358.31 L469.55,358.60 L469.59,358.88 L469.64,359.17 L469.69,359.46 L469.75,359.74 L469.80,360.03 L469.87,360.32 L469.94,360.60 L470.01,360.89 L470.09,361.18 L470.17,361.46 L470.26,361.75 L470.35,362.04 L470.45,362.32 L470.56,362.61 L470.67,362.90 L470.78,363.18 L470.90,363.47 L471.02,363.76 L471.14,364.04 L471.27,364.33 L471.38,364.61 L471.49,364.90 L471.58,365.19 L471.53,365.47 L471.45,365.76 L471.37,366.05 L471.28,366.33 L471.19,366.62 L471.09,366.91 L471.00,367.19 L470.91,367.48 L470.82,367.77 L470.74,368.05 L470.65,368.34 L470.57,368.63 L470.49,368.91 L470.42,369.20 L470.34,369.49 L470.27,369.77 L470.21,370.06 L470.14,370.34 L470.08,370.63 L470.02,370.92 L469.97,371.20 L469.91,371.49 L469.86,371.78 L469.81,372.06 L469.77,372.35 L469.73,372.64 L469.69,372.92 L469.65,373.21 L469.61,373.50 L469.58,373.78 L469.55,374.07 L469.52,374.36 L469.49,374.64 L469.46,374.93 L469.44,375.22 L469.41,375.50 L469.39,375.79 L469.37,376.08 L469.35,376.36 L469.33,376.65 L469.32,376.93 L469.30,377.22 L469.29,377.51 L469.28,377.79 L469.28,378.08 L469.28,378.37 L469.28,378.65 L469.28,378.94 L469.28,379.23 L469.28,379.51 L469.28,379.80 L468.92,379.80 L468.92,379.51 L468.92,379.23 L468.92,378.94 L468.92,378.65 L468.92,378.37 L468.92,378.08 L468.92,377.79 L468.91,377.51 L468.90,377.22 L468.88,376.93 L468.87,376.65 L468.85,376.36 L468.83,376.08 L468.81,375.79 L468.79,375.50 L468.76,375.22 L468.74,374.93 L468.71,374.64 L468.68,374.36 L468.65,374.07 L468.62,373.78 L468.59,373.50 L468.55,373.21 L468.51,372.92 L468.47,372.64 L468.43,372.35 L468.39,372.06 L468.34,371.78 L468.29,371.49 L468.23,371.20 L468.18,370.92 L468.12,370.63 L468.06,370.34 L467.99,370.06 L467.93,369.77 L467.86,369.49 L467.78,369.20 L467.71,368.91 L467.63,368.63 L467.55,368.34 L467.46,368.05 L467.38,367.77 L467.29,367.48 L467.20,367.19 L467.11,366.91 L467.01,366.62 L466.92,366.33 L466.83,366.05 L466.75,365.76 L466.67,365.47 L466.62,365.19 L466.71,364.90 L466.82,364.61 L466.93,364.33 L467.06,364.04 L467.18,363.76 L467.30,363.47 L467.42,363.18 L467.53,362.90 L467.64,362.61 L467.75,362.32 L467.85,362.04 L467.94,361.75 L468.03,361.46 L468.11,361.18 L468.19,360.89 L468.26,360.60 L468.33,360.32 L468.40,360.03 L468.45,359.74 L468.51,359.46 L468.56,359.17 L468.61,358.88 L468.65,358.60 L468.69,358.31 L468.73,358.02 L468.76,357.74 L468.79,357.45 L468.82,357.17 L468.85,356.88 L468.87,356.59 L468.89,356.31 L468.91,356.02 L468.92,355.73 L468.92,355.45 L468.92,355.16 L468.92,354.87 L468.92,354.59 L468.92,354.30 Z" fill="#fac474" stroke="#e3943a" stroke-width="0.7" stroke-linejoin="round"/>
<circle cx="469.10" cy="358" r="1.1" fill="#8a4a0c"/>
<circle cx="469.80" cy="361" r="1.1" fill="#8a4a0c"/>
<circle cx="468.40" cy="365" r="1.1" fill="#8a4a0c"/>
<circle cx="469.70" cy="368" r="1.1" fill="#8a4a0c"/>
<circle cx="468.60" cy="372" r="1.1" fill="#8a4a0c"/>
<circle cx="469.10" cy="374" r="1.1" fill="#8a4a0c"/>
<path d="M394.7,329.7 V303.3 H403.5 V350.5" fill="none" stroke="#222" stroke-width="1.0"/>
<text transform="translate(399.1 303.2) scale(0.88 1)" font-size="5.99" text-anchor="middle" font-weight="normal" fill="#111" stroke="#111" stroke-width="0.2" textLength="10.23" lengthAdjust="spacingAndGlyphs">****</text>
<path d="M416.3,328.5 V303.3 H425.5 V350.5" fill="none" stroke="#222" stroke-width="1.0"/>
<text transform="translate(420.9 303.2) scale(0.88 1)" font-size="5.99" text-anchor="middle" font-weight="normal" fill="#111" stroke="#111" stroke-width="0.2" textLength="10.23" lengthAdjust="spacingAndGlyphs">****</text>
<path d="M438,306.7 V303.3 H447 V350.5" fill="none" stroke="#222" stroke-width="1.0"/>
<text transform="translate(442.5 303.2) scale(0.88 1)" font-size="5.99" text-anchor="middle" font-weight="normal" fill="#111" stroke="#111" stroke-width="0.2" textLength="10.23" lengthAdjust="spacingAndGlyphs">****</text>
<path d="M460.6,328.5 V303.3 H469.6 V350.5" fill="none" stroke="#222" stroke-width="1.0"/>
<text transform="translate(465.1 303.2) scale(0.88 1)" font-size="5.99" text-anchor="middle" font-weight="normal" fill="#111" stroke="#111" stroke-width="0.2" textLength="10.23" lengthAdjust="spacingAndGlyphs">****</text></svg>
</body></html>
